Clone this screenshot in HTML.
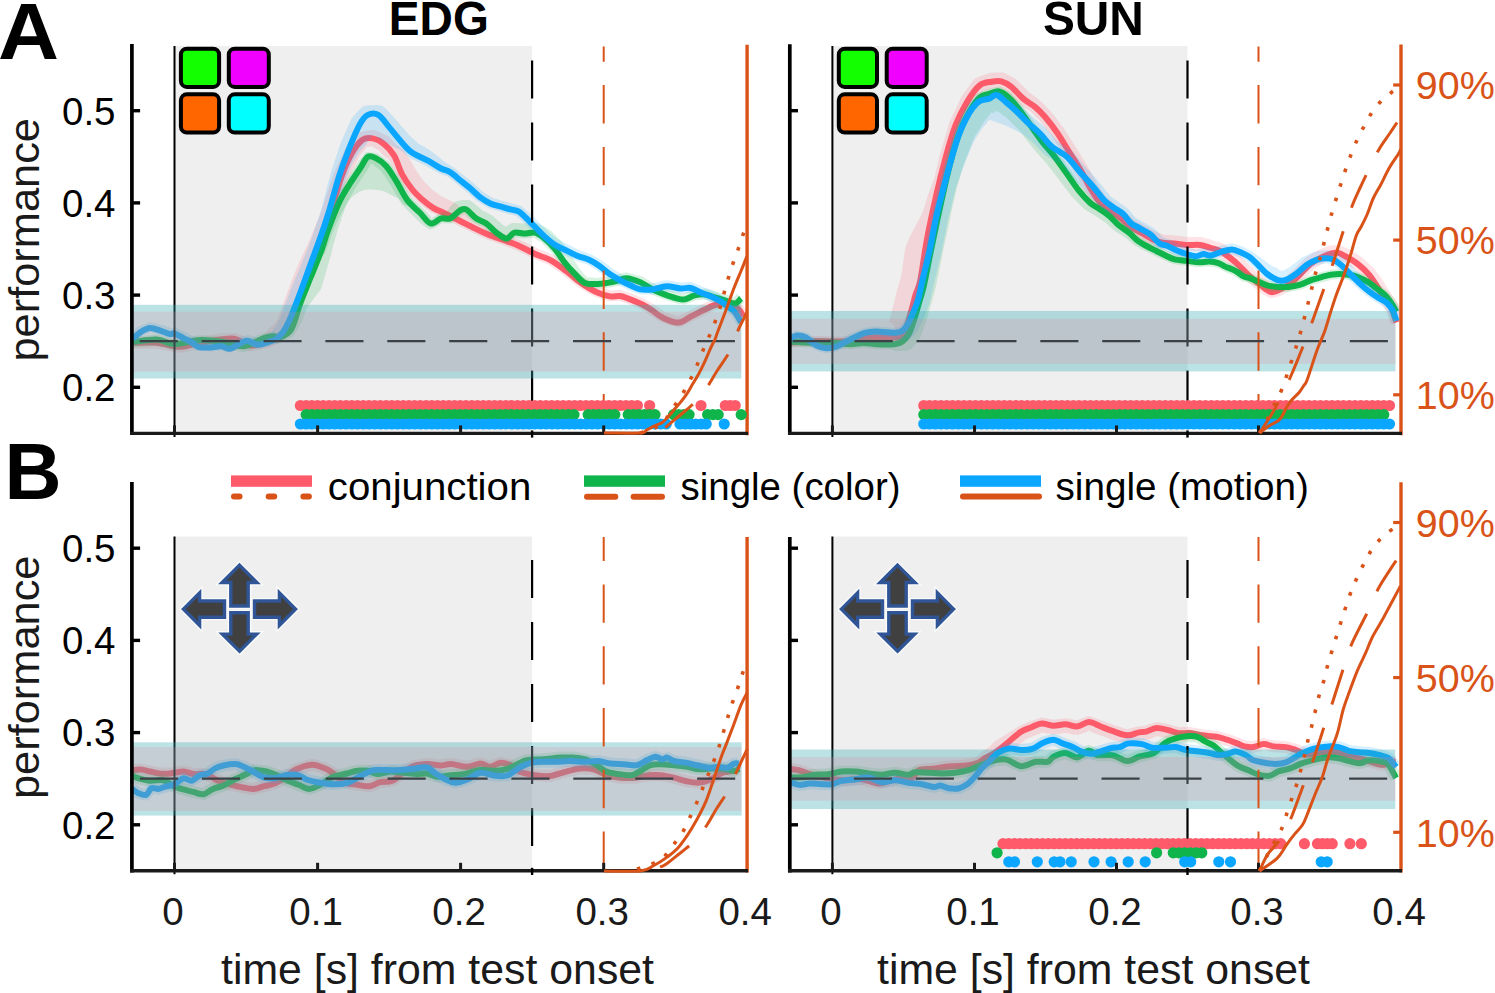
<!DOCTYPE html>
<html><head><meta charset="utf-8"><title>figure</title>
<style>html,body{margin:0;padding:0;background:#fff;}body{width:1495px;height:993px;overflow:hidden;font-family:"Liberation Sans",sans-serif;}svg{display:block;}</style>
</head><body><svg width="1495" height="993" viewBox="0 0 1495 993" font-family="Liberation Sans, sans-serif"><rect x="0" y="0" width="1495" height="993" fill="#fff"/><rect x="174.5" y="46" width="357.6" height="385.7" fill="#efefef"/><clipPath id="clipAL"><rect x="131.9" y="44" width="615.2" height="389.4"/></clipPath><g clip-path="url(#clipAL)"><path d="M132.7,336.8 L135.7,336.8 L138.7,336.8 L141.7,336.8 L144.8,336.8 L147.8,336.8 L150.8,336.8 L154.1,336.8 L157.3,336.8 L160.8,337.4 L164.3,338 L167.6,338.6 L170.8,339.2 L174.1,339.7 L176.7,340.2 L179.4,340.8 L182.2,340.2 L185,339.6 L188.4,338.9 L191.7,338.2 L195.1,337.6 L198.6,336.9 L201.7,336.4 L204.8,335.9 L207.9,335.5 L210.9,335 L214,334.5 L217.2,334 L220.4,333.5 L223.9,333.3 L227.3,333.2 L231.3,333 L235.4,332.9 L239.2,334.4 L243,335.9 L246.3,337.3 L248.7,338.3 L251,339.5 L253.4,338.8 L255.9,338.3 L259,337.6 L261.9,336.2 L264.7,333.4 L266.9,330.9 L269.1,328.3 L271.1,326.4 L272.6,325.2 L274.7,323.6 L276,321.7 L276.7,320.7 L278.1,319.1 L278.6,317.1 L279.2,315.1 L280.3,312.1 L281.4,309 L282.5,306 L283.6,302.9 L284.7,299.9 L285.8,296.8 L286.9,293.8 L288,290.7 L289.1,287.7 L290.2,284.7 L291.4,281.7 L292.6,278.6 L293.8,275.6 L295,272.6 L296.2,269.6 L297.5,266.6 L298.7,263.6 L300,260.6 L301.4,257.7 L302.8,254.7 L304.2,251.7 L305.6,248.7 L307,245.9 L308.3,243.1 L309.5,240.3 L310.6,237.4 L311.8,234.6 L313,231.8 L314.1,229 L315.3,226.2 L316.5,223.4 L317.7,220.6 L318.8,218 L319.9,215.3 L320.8,212.5 L321.8,209.6 L322.8,206.7 L323.8,203.7 L324.7,200.7 L325.7,197.7 L326.7,194.7 L327.7,191.8 L328.7,188.8 L329.6,185.8 L330.6,182.8 L331.6,179.8 L332.7,176.6 L333.7,173.4 L335.2,170.3 L336.7,167.1 L338,164.2 L339.4,161.3 L340.8,158.4 L342.1,155.4 L343.7,152 L345.2,148.6 L347.6,145.5 L349.9,142.5 L352,139.8 L355.2,136 L358.6,132.4 L363.6,131.2 L369.8,130.3 L374.6,130 L379.4,132 L384.5,134.5 L388.7,136.6 L391.5,139.4 L394.4,142.4 L396.5,144.7 L399.8,147.1 L403.3,149.5 L405.6,153.1 L407.9,156.7 L409.8,159.5 L411.7,162.4 L413.1,164.7 L414.1,167.2 L415.6,169.2 L416.9,171.3 L418.7,173.9 L420.4,176.5 L421.7,178.5 L423,180.5 L425.2,182.7 L427.4,184.9 L429.8,187.2 L432,189.5 L434.2,191.1 L436.4,192.7 L438.4,194.2 L440.5,195.8 L442.8,196.9 L445.2,198 L448.2,199.5 L451.2,200.9 L454.3,202.4 L457.2,204.4 L459.6,207 L462.1,209.5 L464.6,212.1 L467.1,214.7 L469.6,217.3 L472.1,219.9 L474.9,221.7 L477.9,223.2 L480.8,224.5 L483.8,225.8 L486.8,227.2 L489.7,228.5 L492.6,229.8 L495.5,230.8 L498.5,231.9 L501.5,232.9 L504.6,234 L507.7,235.1 L510.8,236.3 L513.9,237.5 L516.9,238.7 L520,240 L523.2,241.2 L526.3,242.8 L529.4,244.4 L532.5,245.9 L535.4,247.4 L538.3,248.8 L541.2,250 L544.1,251.1 L547.1,252.3 L550.4,253.7 L553.7,255 L556.6,257 L559.4,258.9 L561.9,260.7 L564.4,262.5 L567,264.3 L569.6,266.1 L572.2,268.2 L574.8,270.3 L577.3,272.3 L579.8,274.3 L582.2,276.2 L584.5,278.1 L587.4,279.7 L590.2,281.4 L593.2,283.2 L595.9,284.9 L598.6,286.5 L601.8,287.5 L605,288.5 L608,289.5 L610.9,290.5 L613.8,290.3 L617.2,290.1 L621.1,290.1 L625,291.3 L628.9,292.6 L632.3,293.8 L635.5,295.1 L638.6,296.4 L641.8,297.8 L645,299.2 L648.6,301.3 L652.2,303.4 L655.6,305.4 L658.3,307.3 L660.9,309.1 L663,310.6 L665.1,312.2 L667.9,313 L670.7,313.9 L673.9,314.9 L676.1,315.6 L678.1,316.6 L680,315.3 L682,314.2 L685,312.7 L688,311.2 L690.8,309.8 L693.6,308.4 L696.5,307 L699.4,305.5 L702.3,304 L705.4,302.7 L708.6,301.5 L712.1,300 L715.7,298.6 L719.3,298.5 L723,298.5 L726.8,298.6 L730.5,298.7 L734.5,300.6 L739.1,302.9 L743.2,305.2 L745.6,309.2 L748.3,313.6 L738.8,319.1 L737.2,316.3 L735.5,313.1 L732.8,311.9 L730.5,310.8 L727.7,309.3 L725.3,309.5 L723,309.5 L720.4,309.5 L717.9,309.4 L715.4,310.5 L712.8,311.6 L709.8,312.8 L706.9,314 L704.1,315.4 L701.4,316.8 L698.6,318.2 L695.8,319.6 L692.9,321.1 L689.9,322.6 L686.9,324.1 L683,325.9 L679,327.6 L674.8,326.6 L670.7,325.4 L667.5,324.4 L663.9,323.3 L660.3,322.1 L657.4,320.1 L654.6,318.1 L652.1,316.4 L649.7,314.7 L646.4,312.8 L643.2,310.9 L640,308.9 L637.2,307.8 L634.3,306.6 L631.4,305.3 L628.4,304.1 L625.2,303 L622.3,302 L619.5,300.9 L616.6,301.1 L613.2,301.3 L609.4,301.4 L605.5,300.2 L601.6,299 L597.9,297.8 L594.2,296.6 L590.9,294.6 L587.6,292.7 L584.6,290.9 L581.4,289 L578.3,287.1 L575.6,285 L572.9,282.9 L570.4,280.9 L567.9,278.8 L565.5,276.9 L563,274.9 L560.5,273.2 L558.1,271.5 L555.6,269.7 L553.1,267.9 L550.8,266.3 L548.5,264.7 L545.8,263.6 L543,262.5 L540,261.3 L536.9,260.1 L533.7,258.9 L530.6,257.3 L527.5,255.7 L524.5,254.2 L521.6,252.7 L518.6,251.3 L515.7,250.1 L512.8,248.9 L509.8,247.7 L506.8,246.6 L503.9,245.4 L500.9,244.3 L497.9,243.3 L494.8,242.2 L491.7,241.1 L488.5,240 L485.4,238.6 L482.3,237.2 L479.3,235.9 L476.2,234.5 L473.1,233.1 L470.1,231.6 L467,230 L464,228.5 L461,227 L458,225.5 L454.9,224 L451.9,222.5 L448.9,221 L445.9,219.5 L442.9,218 L439.9,216.6 L437,215.2 L433.8,213.6 L430.6,212.1 L427.8,210 L425,207.9 L422.2,205.8 L419.5,203.8 L416.8,201 L414,198.3 L411.2,195.5 L408.5,192.7 L406.6,189.9 L404.6,187 L402.9,184.4 L401.1,181.8 L399.3,179 L397.4,176.2 L396,172.9 L394.4,169.7 L392.7,166.8 L391.1,163.9 L389.6,161.4 L388.2,159 L386,157.5 L383.8,156.1 L381.7,153.7 L380.3,152 L378.8,150.2 L375.9,148.8 L373.9,147.7 L371.5,146.3 L369.3,146.8 L368.5,146.9 L366.4,146.7 L365.7,148.4 L364.6,149.9 L362.5,152.6 L360.7,154.8 L358.9,157 L357.9,159.5 L356.7,161.9 L355.3,164.8 L353.9,167.7 L352.4,170.6 L351,173.5 L349.7,176.2 L348.3,178.9 L347.3,181.7 L346.4,184.5 L345.4,187.4 L344.3,190.4 L343.3,193.4 L342.3,196.3 L341.3,199.3 L340.2,202.3 L339.2,205.2 L338.2,208.2 L337.2,211.2 L336.1,214.1 L335.1,217.2 L334.2,220.3 L333,223.2 L331.9,226.1 L330.8,229 L329.7,231.8 L328.6,234.6 L327.5,237.5 L326.5,240.3 L325.4,243.1 L324.3,246 L323.2,248.8 L322.1,251.6 L321,254.4 L320,257.4 L318.9,260.4 L317.8,263.5 L316.7,266.5 L315.6,269.6 L314.6,272.7 L313.5,275.7 L312.4,278.8 L311.3,281.8 L310.2,284.9 L309.1,287.9 L308.1,291 L307,294.1 L305.9,297.1 L304.8,300.2 L303.7,303.2 L302.6,306.3 L301.5,309.3 L300.4,312.4 L299.3,315.4 L298.2,318.5 L297.1,321.5 L295.8,325.1 L294.5,328.6 L292.1,331.5 L289.4,334.7 L287,337.5 L283.9,339.7 L280.4,342 L277.2,344.1 L273.3,345.6 L269.3,347.2 L265.5,348.6 L261.9,349.3 L258.3,350 L254.1,350.8 L249.8,351.5 L245.7,350 L241.7,348.4 L238.4,347 L235.8,345.9 L233.2,344.7 L230.6,345 L228,345.1 L224.8,345.3 L221.6,345.5 L218.7,345.9 L215.8,346.4 L212.7,346.8 L209.7,347.3 L206.6,347.8 L203.6,348.2 L200.6,348.7 L197.4,349.4 L194.1,350 L190.7,350.7 L187.4,351.4 L183.5,352.1 L179.6,352.8 L175.8,352.2 L172,351.6 L168.7,351 L165.5,350.4 L162.2,349.9 L159.2,349.3 L156.3,348.8 L153.5,348.8 L150.8,348.8 L147.8,348.8 L144.8,348.8 L141.7,348.8 L138.7,348.8 L135.7,348.8 L132.7,348.8 Z" fill="#fd5a6a" fill-opacity="0.17" stroke="none"/><path d="M132.7,342.8 C136.7,342.8 149,342.1 156.8,342.8 C164.6,343.5 172.4,346.8 179.5,346.8 C186.6,346.8 192.7,344 199.6,342.8 C206.5,341.6 215.2,340.2 221,339.5 C226.8,338.8 229.4,337.8 234.3,338.8 C239.2,339.8 245.5,344.8 250.4,345.5 C255.3,346.2 259.8,343.9 263.8,342.8 C267.8,341.7 271.3,340.4 274.5,338.8 C277.7,337.2 280.5,335.2 283,333 C285.5,330.8 286.1,332.9 289.3,325.6 C292.5,318.3 298,301.2 302.4,289 C306.8,276.8 311,264.1 315.4,252.3 C319.8,240.5 324.1,231 328.5,218.3 C332.9,205.7 337.7,187.3 341.6,176.4 C345.5,165.5 348.6,158.9 352.1,152.8 C355.6,146.7 359.1,142.1 362.6,139.7 C366.1,137.3 369.5,137.7 373,138.4 C376.5,139.1 380,140.9 383.5,143.7 C387,146.5 390.9,150.4 394,155.4 C397.1,160.4 398.8,168.1 401.8,173.8 C404.9,179.5 408.8,185.1 412.3,189.5 C415.8,193.9 419.3,196.9 422.8,200 C426.3,203.1 429.5,205.6 433.2,207.8 C436.9,210.1 440.6,211.3 445.1,213.5 C449.6,215.7 455.2,218.5 460.2,221 C465.2,223.5 470.3,226.2 475.3,228.6 C480.3,231 485.3,233.4 490.4,235.4 C495.4,237.4 500.6,238.8 505.6,240.7 C510.7,242.6 515.7,244.4 520.7,246.7 C525.7,249 530.8,252 535.8,254.3 C540.8,256.6 545.9,257.5 550.9,260.3 C555.9,263.1 561,267.1 566,270.9 C571,274.7 576.1,279.5 581.1,283 C586.1,286.5 591.4,289.8 596.2,292 C601,294.2 606.1,295.7 610.1,296.4 C614.1,297.1 616.9,295.5 620.2,296 C623.6,296.5 626.5,298 630.2,299.4 C633.9,300.8 638.6,302.6 642.3,304.5 C646,306.4 649,308.3 652.4,310.5 C655.8,312.7 658.1,315.6 662.5,317.6 C666.9,319.6 673.9,322.8 678.6,322.6 C683.3,322.4 686.3,318.8 690.7,316.6 C695.1,314.4 700.4,311.5 704.8,309.5 C709.2,307.5 712.9,305.3 716.9,304.5 C720.9,303.7 725.3,303.7 729,304.5 C732.7,305.3 736.6,307.5 739,309.5 C741.4,311.5 742.4,315.4 743.1,316.6" stroke="#fd5a6a" stroke-width="6" fill="none" stroke-linejoin="round" stroke-linecap="butt"/><path d="M132.2,337.1 L135.2,336.8 L138.2,336.5 L141.2,336.2 L144.2,335.8 L147.2,335.5 L150.2,335.2 L153.8,334.8 L157.3,334.5 L161.2,335.5 L165,336.5 L168.5,337.4 L171.5,338.3 L174.5,339.1 L176.9,338.7 L179.3,338.3 L182.3,337.8 L185.3,337.4 L188.3,336.9 L191.2,336.5 L194.2,336 L197.5,335.6 L200.8,335.1 L204.3,335.4 L207.8,335.7 L211.1,336 L214.3,336.3 L217.6,336.5 L220.9,336.8 L224.3,337.2 L227.8,337.9 L231.3,338.6 L234.6,339.3 L238,339.9 L240.7,340.5 L243.3,341.2 L245.4,340.2 L247.6,339.2 L250.4,338.1 L253.3,336.9 L256.2,335.8 L259.3,334.5 L262.5,333.3 L266.3,332.6 L271.2,331.9 L274.3,331.3 L275.5,333.7 L278.4,332.1 L280.5,330.9 L283.1,329.6 L285.8,328.5 L286.6,326.1 L287.6,323.9 L289,321 L290.3,318.2 L291.2,315.3 L292.1,312.4 L293,309.4 L294,306.2 L295,303 L296.2,300 L297.4,297 L298.6,294.1 L299.7,291.2 L300.9,288.3 L302.1,285.4 L303.2,282.5 L304.4,279.6 L305.6,276.6 L306.7,273.7 L307.9,270.8 L309.1,267.9 L310.2,265 L311.4,262.1 L312.6,259.2 L313.7,256.3 L314.9,253.4 L316,250.6 L317,247.7 L317.9,244.8 L318.9,241.9 L319.9,238.9 L320.8,236 L321.8,233 L322.8,230 L323.8,227 L325,224 L326.2,221 L327.4,218.1 L328.5,215.2 L329.7,212.3 L330.9,209.4 L332,206.5 L333.3,203.5 L334.5,200.4 L336.1,197.6 L337.7,194.9 L339.2,192.2 L340.7,189.6 L342.2,187 L343.7,184.3 L345.2,181.6 L347,178.9 L348.8,176.2 L350.6,173.6 L352.3,171 L354.1,168.3 L355.8,165.7 L357.8,162.8 L359.7,159.9 L362.7,155.9 L366,152.1 L371.9,152.5 L377.5,153.5 L380.7,155.7 L383.9,158 L386.8,160.2 L389.7,162.5 L391.8,165.4 L393.8,168.4 L395.5,171 L397.3,173.6 L399.1,176.3 L400.8,179 L402.4,181.6 L403.9,184.3 L405.4,187 L406.9,189.6 L408.4,192.2 L409.8,194.5 L411.1,196.9 L413,198.8 L415,200.7 L417.2,202.9 L419.4,205.1 L421.6,207.3 L423.7,209.5 L426.3,212.1 L429,214.7 L430.4,216.5 L431.3,218.6 L433.1,216.9 L435.8,215.4 L439.8,213.2 L443.4,212.4 L446,211.7 L447.6,211.4 L448.6,209.4 L449.6,207.6 L452.6,204.4 L456,201.3 L462.5,199.9 L469.2,199.9 L473.8,203.1 L477.9,206.5 L479.9,208.3 L481.9,210.2 L484.7,211.5 L488,213.2 L491.9,215.2 L495,217.9 L498,220.6 L500.2,222.5 L502.3,224.5 L505.2,226.2 L506.1,227.1 L506.5,228.6 L505.8,227.2 L507.4,225.7 L511.8,223 L517.1,223 L521.7,223.3 L524.6,223.6 L527.5,223.3 L532.1,223 L537.1,222.9 L541.9,225.4 L547,228.3 L550.8,230.7 L553.8,233.6 L556.8,236.6 L559.6,239.4 L562.4,242.2 L564.7,245.4 L567,248.5 L568.8,251.4 L570.4,254.3 L571.9,257.1 L573.9,260 L575.9,263 L577.9,266 L579.9,268.9 L581.9,271.4 L583.9,273.9 L585.8,275.6 L587.5,277.4 L589.5,277.3 L591.5,277.4 L594.3,277.7 L597,277.9 L600.1,277.6 L603.1,277.3 L606.3,277 L609.5,276.3 L612.6,275.7 L615.8,275.1 L618.7,274.2 L622.4,273.2 L626.3,272.3 L630.7,273.4 L634.9,274.5 L638.8,275.6 L642.6,276.8 L646,278.7 L649.4,280.7 L652.2,282.4 L655.1,284 L657.9,285.2 L660.7,286.4 L663.7,287.6 L666.6,288.8 L669.5,289.7 L672.4,290.7 L675.1,291.6 L677.9,292.5 L680.9,292.9 L683.9,293.4 L686.5,292.2 L689.5,291 L693.3,289.6 L697,289.2 L701.4,288.7 L705.4,288.4 L709.3,289.5 L713.3,290.7 L716.6,291.7 L720,292.7 L723.3,293.7 L726.6,294.8 L730,295.8 L731.8,296.5 L733.6,297.7 L735.7,295.4 L737.3,293.8 L744.3,302.2 L740,305.5 L736.2,308.4 L731.5,307.5 L726.8,306.3 L723.4,305.3 L720.1,304.2 L716.8,303.2 L713.4,302.2 L710.1,301.2 L707.2,300.3 L704.3,299.4 L701.4,299.7 L698.9,300 L695.9,300.3 L692.9,301.5 L689.2,302.9 L685.2,304.4 L680.4,303.9 L675.6,303.3 L672.3,302.2 L669,301.1 L665.9,300.1 L662.8,299.1 L659.6,297.8 L656.5,296.5 L653.3,295.2 L650.2,293.9 L647,292 L643.8,290.2 L641.1,288.5 L638.3,286.9 L635.1,286 L631.9,285.1 L628.9,284.2 L626.1,283.3 L623.8,284.1 L621.5,284.9 L618.4,285.8 L614.9,286.4 L611.4,287.2 L607.9,287.8 L604.4,288.2 L600.8,288.6 L597.2,288.9 L593.9,288.6 L590.6,288.4 L586.8,288 L582.9,287.5 L579.7,284.8 L576.6,282.1 L574,279.8 L571.4,277.4 L568.8,274.6 L566.2,271.7 L563.6,268.8 L561,265.9 L558.9,263 L556.8,260.1 L554.8,257.3 L552.9,254.6 L551,251.9 L548.6,249.6 L546.2,247.2 L543.9,244.9 L541.6,242.6 L538.6,240.7 L536.1,239.2 L533.5,237.5 L531,237.9 L528.2,238.3 L524.6,238.6 L521,238.3 L518.3,237.9 L515.8,237.4 L514.1,239.1 L510.8,241.3 L506.5,243.6 L501.6,241.4 L497,238.8 L493.5,236.6 L490.7,234.2 L488,231.8 L485.8,229.7 L483.5,227.6 L480.5,226.2 L477.1,224.5 L473.5,222.6 L470.7,220.2 L467.9,217.7 L466.2,216 L464.7,214.2 L463.5,214.9 L462.2,215 L460.2,216.7 L458.2,218.3 L455.1,220.8 L451.8,223.2 L447.9,223.4 L444.7,223.3 L442.3,223.1 L439.5,225 L435.2,227.4 L429.7,229.7 L424.8,226.7 L420.5,223.1 L417.8,220.6 L415.2,217.9 L413.1,215.8 L410.9,213.6 L408.7,211.4 L406.5,209.2 L404,206.7 L401.5,204.2 L399.8,201.2 L398,198.2 L396.5,195.5 L395,192.9 L393.5,190.3 L392.1,187.8 L390.7,185.3 L389,182.8 L387.3,180.3 L385.5,177.6 L383.8,175 L382.4,172.9 L381,170.7 L378.9,169.2 L376.7,167.6 L374.9,166.2 L373.1,164.6 L371.6,164.4 L370.3,163.3 L370.3,165.1 L369.7,166.5 L367.8,169.5 L365.8,172.4 L364.1,175 L362.3,177.6 L360.6,180.2 L358.8,182.9 L357.1,185.4 L355.5,187.9 L354,190.4 L352.6,192.9 L351.1,195.6 L349.7,198.3 L348.3,201 L347.1,203.4 L345.8,205.9 L344.9,208.6 L343.9,211.3 L342.9,214.3 L341.9,217.2 L340.9,220.2 L339.9,223.2 L338.9,226.1 L338,229 L337,231.8 L336.3,234.7 L335.5,237.6 L334.7,240.6 L333.8,243.6 L333,246.6 L332.2,249.6 L331.5,252.8 L330.7,255.9 L329.7,259.1 L328.8,262.3 L327.9,265.3 L327,268.4 L326.2,271.4 L325.3,274.4 L324.4,277.4 L323.5,280.5 L322.7,283.5 L321.8,286.5 L320.8,289.5 L318.8,292.1 L316.8,294.7 L314.8,297.2 L312.9,299.8 L310.9,302.4 L309,304.8 L307.2,307.3 L306.1,310.2 L305.1,313 L303.9,316 L302.7,319.3 L301.5,322.5 L299.7,325.7 L298,328.8 L295.7,332.5 L293.5,336.3 L289.5,338.6 L285.5,340.7 L280.8,342.9 L277,344.6 L274.7,342.3 L270.6,342.9 L268.6,343.4 L265.4,343.9 L262.8,344.9 L260.3,346 L257.4,347.1 L254.6,348.3 L251.7,349.5 L247.9,350.9 L244.2,352.2 L239.9,351.5 L235.8,350.7 L232.5,350 L229.1,349.3 L225.9,348.7 L222.7,348 L219.7,347.8 L216.6,347.5 L213.3,347.2 L210.1,346.9 L206.9,346.6 L203.9,346.4 L201.1,346.1 L198.4,346.5 L195.8,346.9 L192.9,347.4 L189.9,347.8 L186.9,348.3 L183.9,348.7 L180.9,349.1 L177.3,349.7 L173.7,350.1 L169.6,349.1 L165.6,348.1 L162.2,347.1 L159.2,346.3 L156.3,345.5 L153.8,345.8 L151.4,346.1 L148.4,346.4 L145.4,346.8 L142.4,347.1 L139.4,347.4 L136.4,347.7 L133.3,348.1 Z" fill="#0fb44a" fill-opacity="0.17" stroke="none"/><path d="M320.7,252.3 C322,248.4 325.4,237 328.5,228.7 C331.6,220.4 335.5,210 339,202.6 C342.5,195.2 346,189.9 349.5,184.2 C353,178.5 356.9,173.1 360,168.5 C363.1,163.9 365.2,158.5 367.8,156.8 C370.4,155.1 372.6,156.6 375.7,158.1 C378.8,159.6 382.6,162 386.1,165.9 C389.6,169.8 393.1,175.9 396.6,181.6 C400.1,187.3 404.5,196 407.1,199.9 C409.7,203.8 412.4,204.2 412,205 C411.6,205.8 407,206 404.8,205 C402.6,204 400.8,200.4 398.8,198.8 C396.8,197.2 395.2,197 392.7,195.7 C390.2,194.4 386.7,192.2 383.7,191.2 C380.7,190.2 377.6,189.9 374.6,189.7 C371.6,189.4 368.3,189.2 365.5,189.7 C362.7,190.2 360.5,191.2 358,192.7 C355.5,194.2 352.9,195.8 350.4,198.8 C347.9,201.8 345.4,206.3 342.9,210.8 C340.4,215.3 337.8,220.3 335.3,226 C332.8,231.7 329.9,240.2 328,245 C326.1,249.8 324.7,253.3 324,255 Z" fill="#0fb44a" fill-opacity="0.17" stroke="none"/><path d="M132.7,342.1 C136.7,341.7 149.9,339.2 156.8,339.5 C163.7,339.8 166.8,344 174.1,344.1 C181.4,344.2 192.7,340.4 200.9,340.1 C209.2,339.8 216.5,341.1 223.6,342.1 C230.7,343.1 237,346.9 243.7,346.2 C250.4,345.5 258.7,339.8 263.8,338.1 C268.9,336.5 272.4,336.2 274.5,336.3 C276.6,336.4 273.7,339.4 276.2,338.7 C278.7,338 286.2,335.1 289.3,332 C292.4,328.9 293.3,324.6 295,320 C296.7,315.4 297.2,311.6 299.7,304.7 C302.2,297.8 306.7,287.2 310.2,278.5 C313.7,269.8 317.6,260.6 320.7,252.3 C323.8,244 325.4,237 328.5,228.7 C331.6,220.4 335.5,210 339,202.6 C342.5,195.2 346,189.9 349.5,184.2 C353,178.5 356.9,173.1 360,168.5 C363.1,163.9 365.2,158.5 367.8,156.8 C370.4,155.1 372.6,156.6 375.7,158.1 C378.8,159.6 382.6,162 386.1,165.9 C389.6,169.8 393.1,175.9 396.6,181.6 C400.1,187.3 403.2,194.7 407.1,199.9 C411,205.1 416.3,209.1 420.2,213 C424.1,216.9 427.1,222.6 430.6,223.5 C434.1,224.4 437.9,219.1 441.1,218.3 C444.4,217.5 446.9,219.8 450.1,218.5 C453.3,217.2 457.4,211.9 460.1,210.4 C462.8,208.9 463.5,208.1 466.2,209.4 C468.9,210.8 472.9,216.2 476.3,218.5 C479.7,220.8 483,221.2 486.3,223.5 C489.6,225.8 493,230.1 496.4,232.6 C499.8,235.1 503.5,238.6 506.5,238.6 C509.5,238.6 511.5,233.4 514.5,232.6 C517.5,231.8 521.2,233.6 524.6,233.6 C528,233.6 531.4,231.8 534.7,232.6 C538.1,233.4 541.4,235.9 544.7,238.6 C548.1,241.3 551.4,244.7 554.8,248.7 C558.2,252.7 561.5,258.6 564.9,262.8 C568.2,267 571.5,270.5 574.9,273.9 C578.2,277.2 581.3,281.2 585,282.9 C588.7,284.6 593.4,283.9 597.1,283.9 C600.8,283.9 603.9,283.4 607.2,282.9 C610.6,282.4 614,281.7 617.2,280.9 C620.4,280.1 622.4,278.1 626.2,278.3 C630.1,278.5 635.9,280.5 640.3,282.3 C644.7,284.1 648.4,287.4 652.4,289.4 C656.4,291.4 660.5,292.9 664.5,294.4 C668.5,295.9 673.2,297.6 676.6,298.4 C680,299.2 681.6,299.9 684.6,299.4 C687.6,298.9 691.3,296.2 694.7,295.4 C698.1,294.6 701.4,294.1 704.8,294.4 C708.2,294.7 711.5,296.4 714.9,297.4 C718.2,298.4 721.5,299.5 724.9,300.5 C728.2,301.5 732.3,303.9 735,303.5 C737.7,303.1 740.1,299.2 741.1,298.4" stroke="#0fb44a" stroke-width="6" fill="none" stroke-linejoin="round" stroke-linecap="butt"/><path d="M128.8,334.2 L131.5,332 L134.5,329.5 L137.6,327 L141.1,325.4 L145.6,323.6 L149.7,322.1 L154.3,323 L158.8,324.1 L162.5,325.1 L165.8,326.2 L168.2,327.1 L171.4,328.3 L175.6,327.6 L178.9,329.2 L183,331.2 L186.2,332.7 L190.4,334.8 L194.6,336.9 L197.5,339.1 L200.4,341.2 L202.6,341.1 L204.6,341.2 L207.3,341.3 L210.1,341.5 L213.4,341.1 L217.4,340.6 L221.7,340.2 L225.1,341.5 L228.5,342.8 L232.6,341 L235.2,339.3 L238.5,337.3 L243.2,335.9 L248,334.8 L252.2,336.3 L255.3,337.6 L257.4,338.8 L260.7,337.9 L264,337.1 L267.1,335.2 L269.3,333.6 L271.8,332 L273,329.9 L273.8,328.5 L275.6,326.6 L276.8,324.2 L278,321.8 L279.4,319.1 L280.7,316.4 L281.7,313.7 L282.7,311 L283.8,308.1 L284.9,305.2 L286,302.2 L287.1,299.3 L288.2,296.4 L289.3,293.5 L290.4,290.6 L291.5,287.9 L292.6,285.1 L293.8,282.3 L295,279.4 L296.2,276.6 L297.4,273.8 L298.5,270.9 L299.7,268.1 L300.9,265.3 L302.1,262.4 L303.3,259.6 L304.4,256.8 L305.6,253.9 L306.8,251.1 L307.9,248.3 L309,245.4 L310,242.5 L311.1,239.6 L312.1,236.8 L313.1,234 L314.1,231.1 L315.1,228.2 L316,225.2 L317,222.3 L318,219.3 L319,216.4 L319.9,213.5 L320.9,210.6 L321.7,207.7 L322.5,204.7 L323.3,201.6 L324.1,198.5 L324.9,195.5 L325.7,192.4 L326.5,189.3 L327.3,186.2 L328.1,183.2 L328.9,180.1 L329.7,176.9 L330.5,173.7 L331.5,170.6 L332.5,167.5 L333.5,164.6 L334.4,161.7 L335.4,158.8 L336.3,155.9 L337.3,152.9 L338.2,150 L339.3,146.9 L340.3,143.9 L341.6,140.7 L343,137.6 L344.3,134.7 L345.6,131.7 L346.9,128.8 L348.2,125.8 L349.9,122.1 L351.6,118.5 L354.6,114.9 L358.9,110.1 L363.3,105.9 L369,105.2 L376.6,105.1 L382.2,105.7 L386.2,109.1 L389.9,112.9 L392,115.3 L394.2,117.7 L396.3,120.1 L398.6,122.8 L400.8,125.4 L403.1,128 L405.3,130.6 L407.4,133 L409.5,135.4 L412,137.7 L414.5,140.1 L416.6,142.1 L418.6,144.1 L421.1,145.1 L423.5,146.2 L426.5,148 L429.6,150.1 L432.6,152.2 L435.2,154.2 L437.7,156.3 L440.1,158.2 L442.3,160 L444.4,161.8 L447,163.4 L450,165.2 L453.1,167 L456,169.3 L458.8,171.5 L461.3,173.5 L463.9,175.5 L466.4,177.5 L468.9,179.6 L471.5,181.6 L474.1,183.7 L476.7,186 L479.2,188.3 L481.5,190.4 L483.8,192.4 L487,194.3 L489.8,196.1 L492.9,197.9 L495.8,198.8 L498.8,199.7 L502.1,200.7 L505.5,201.6 L508.8,202.6 L512.1,203.6 L516.6,204.8 L521.2,206 L524.5,208.8 L527.9,211.7 L530.7,214.1 L533.5,216.8 L536.2,219.6 L538.9,222.3 L541.5,224.8 L544,227.3 L546.3,229.7 L548.7,232.2 L551.1,234.1 L553.5,236 L555.7,237.8 L558,239.6 L561.1,241.1 L564.2,242.7 L567.6,244.3 L570.6,245.8 L573.6,247.3 L576.5,248.7 L579.3,250.2 L582.1,251.1 L584.9,252.1 L588.3,253.2 L591.6,254.4 L595.2,256.5 L598.9,258.7 L602.5,260.8 L605.4,263.1 L608.3,265.3 L610.9,267.3 L613.5,269.3 L616.7,271.2 L619.8,273.1 L623.1,275 L626.3,276.7 L629.4,278.2 L632.7,279.8 L635.9,281.2 L638.7,282.3 L641.6,283.5 L644,283.4 L646.3,283.4 L649,283.4 L651.7,283.4 L654.9,282.7 L658.2,282 L662.2,281.1 L666.3,280.3 L670.4,280.8 L674.4,281.4 L677.7,281.9 L680.9,282.4 L684,282.3 L687.8,282.2 L691.9,282.1 L695.9,283.7 L699.8,285.4 L703.1,286.9 L706.4,288.2 L709.8,289.5 L713.3,290.9 L716.8,292.7 L720.4,294.6 L724,296.4 L726.9,298.5 L729.9,300.7 L732.7,302.8 L736.2,305.7 L739.6,308.6 L741.9,312.4 L744.2,316.1 L746.2,319.5 L736.8,325.2 L734.8,321.8 L733,318.8 L731.2,315.8 L728.5,313.6 L725.9,311.4 L723.3,309.5 L720.8,307.7 L718.3,305.8 L715.1,304.2 L712,302.6 L708.7,301 L705.5,299.7 L702.2,298.4 L698.9,297 L695.5,295.5 L692.6,294.2 L689.7,292.9 L686.9,293.1 L683.9,293.3 L680.3,293.4 L676.6,292.8 L672.8,292.3 L669.7,291.8 L666.7,291.3 L663.6,292 L660.5,292.7 L656.8,293.6 L653,294.4 L649.7,294.4 L646.3,294.4 L642.8,294.4 L639.3,294.3 L635.4,292.8 L631.6,291.3 L628.1,289.9 L624.7,288.1 L621.2,286.4 L617.8,284.7 L614.4,282.6 L610.8,280.5 L607.3,278.4 L604.4,276.2 L601.5,274 L598.9,272 L596.3,269.9 L593.1,268 L590,266.2 L586.9,264.3 L584.1,263.4 L581.4,262.5 L578.2,261.4 L575.1,260.3 L571.9,258.7 L568.7,257.2 L565.7,255.7 L562.7,254.2 L559.3,252.5 L555.7,250.7 L552.1,248.9 L549.4,246.8 L546.6,244.6 L544,242.4 L541.3,240.3 L538.7,237.7 L536.1,235.1 L533.7,232.6 L531.2,230 L528.5,227.4 L525.8,224.8 L523.2,222.2 L520.5,219.8 L518.4,217.9 L516.3,215.9 L512.7,215.1 L509.2,214.2 L505.8,213.2 L502.3,212.2 L499,211.2 L495.6,210.2 L492,209.1 L488.3,208 L484.7,205.8 L480.9,203.5 L477.4,201.3 L474.6,198.9 L471.9,196.5 L469.4,194.3 L467,192.1 L464.5,190.1 L462,188.2 L459.5,186.1 L457,184.1 L454.5,182.1 L452,180.1 L449.8,178.3 L447.6,176.5 L444.9,175.5 L442,174.4 L438.8,173.2 L436,171.6 L433.1,169.9 L430.5,168.4 L427.9,167 L425.4,165.5 L422.3,164 L419.2,162.6 L416,161.1 L412.4,159.3 L408.9,157.5 L405.9,154.7 L402.9,151.8 L399.8,149.4 L395.8,147.9 L392.4,146.1 L388.9,144.2 L385.6,142.5 L382.3,140.8 L379.1,139.2 L376.5,137.1 L374.4,134.9 L372.3,132.8 L370.1,130.5 L370.6,130.7 L371.8,130.4 L371.7,131.6 L375.2,131.7 L375.6,130.6 L376.3,131.7 L376.8,131.7 L375.1,133.9 L373.7,135.2 L372.2,136.5 L370.1,139.1 L368,141.7 L365.9,144.3 L363.8,146.9 L361.7,149.3 L359.7,151.7 L358.1,154.2 L356.4,156.6 L354.7,159.3 L353,161.9 L351.7,164.7 L350.6,167.6 L349.4,170.4 L348.3,173.3 L347.2,176 L346.1,178.7 L345.2,181.6 L344.3,184.5 L343.3,187.5 L342.4,190.6 L341.4,193.6 L340.5,196.6 L339.5,199.7 L338.6,202.7 L337.6,205.7 L336.7,208.7 L335.7,211.8 L334.7,214.9 L333.7,217.9 L332.6,220.9 L331.5,223.8 L330.5,226.7 L329.4,229.7 L328.4,232.6 L327.3,235.6 L326.2,238.5 L325.1,241.4 L323.9,244.3 L322.8,247.1 L321.6,250 L320.5,252.8 L319.4,255.7 L318.2,258.5 L317.1,261.4 L315.9,264.2 L314.8,267.1 L313.7,269.9 L312.5,272.8 L311.4,275.6 L310.3,278.5 L309.1,281.3 L308,284.2 L306.8,287 L305.7,289.9 L304.6,292.7 L303.4,295.6 L302.3,298.6 L301.1,301.5 L300,304.4 L298.8,307.3 L297.6,310.2 L296.5,313.1 L295.3,316.1 L294.1,319.1 L292.9,322.1 L291.3,325.1 L289.7,328.1 L288,331.2 L286.2,334.4 L283.8,336.9 L281,339.8 L278.3,342.4 L274.5,343.9 L270.5,345.5 L266.8,346.8 L261.9,347.9 L256.9,348.8 L253.1,347.4 L249.9,346 L247.5,344.8 L245.1,345.7 L242.6,346.5 L239.3,348.4 L235.4,350.6 L229.3,352.8 L225,351.5 L220.5,350.2 L217.4,350.6 L214.2,351.1 L210.5,351.5 L207.2,351.3 L204,351.1 L200.3,350.9 L196.7,350.5 L193.1,348 L189.5,345.5 L185.6,343.6 L181.7,341.7 L178.6,340.1 L176.1,338.8 L173.1,337.3 L169.2,338 L166.2,336.9 L162.7,335.7 L159.7,334.6 L156.2,333.8 L153.3,333 L150.4,332.1 L147.9,333.3 L145.7,334.3 L142.8,335.5 L140.4,337.6 L137.9,339.6 L135.3,341.9 Z" fill="#0ba6ff" fill-opacity="0.17" stroke="none"/><path d="M132.7,338.8 C134,337.7 137.8,333.9 140.7,332.1 C143.6,330.3 146.8,328.3 150.1,328.1 C153.4,327.9 157.5,329.8 160.8,330.8 C164.1,331.8 167.9,333.7 170.1,334.1 C172.3,334.5 171.9,332.7 174.1,333.4 C176.3,334.1 180.6,336.7 183.5,338.1 C186.4,339.6 189.1,340.7 191.5,342.1 C193.9,343.6 195.1,345.9 198.2,346.8 C201.3,347.7 206.5,347.6 210.3,347.5 C214.1,347.4 217.9,346 221,346.2 C224.1,346.4 226.8,348.7 229,348.8 C231.2,348.9 232.3,347.8 234.3,346.8 C236.3,345.8 238.8,343.8 241,342.8 C243.2,341.8 245,340.5 247.7,340.8 C250.4,341.1 254.1,344.4 257.1,344.8 C260.1,345.2 262.5,344 265.7,343 C268.9,342 273.3,340.8 276.2,339 C279.1,337.2 280.8,335.1 283,332 C285.2,328.9 286.5,326.7 289.3,320.4 C292.1,314.1 296.2,303.4 299.7,294.2 C303.2,285 306.7,275 310.2,265.4 C313.7,255.8 317.6,245.3 320.7,236.6 C323.8,227.9 325.4,223 328.5,213 C331.6,203 335.5,187.3 339,176.4 C342.5,165.5 346,156.3 349.5,147.6 C353,138.9 356.9,129.4 360,124 C363.1,118.5 364.8,116.4 367.8,114.9 C370.9,113.4 374.8,113 378.3,114.9 C381.8,116.9 384.8,122 388.7,126.6 C392.6,131.2 397.9,138 401.8,142.4 C405.7,146.8 407.9,149.8 412.3,152.8 C416.7,155.9 423.2,158.1 428,160.7 C432.8,163.3 437.4,166.6 441.1,168.5 C444.8,170.4 446.9,170.2 450.1,172.2 C453.3,174.1 456.8,177.5 460.1,180.2 C463.5,182.9 466.8,185.5 470.2,188.3 C473.6,191.2 476.9,194.8 480.3,197.3 C483.7,199.8 487,201.9 490.4,203.4 C493.8,204.9 497,205.4 500.4,206.4 C503.8,207.4 507.5,208.6 510.5,209.4 C513.5,210.2 515.8,209.9 518.5,211.4 C521.2,212.9 523.9,216 526.6,218.5 C529.3,221 531.7,223.5 534.7,226.5 C537.7,229.5 541.4,233.6 544.7,236.6 C548.1,239.6 551.4,242.5 554.8,244.7 C558.2,246.9 561.2,247.9 564.9,249.7 C568.6,251.5 573,254 577,255.7 C581,257.4 585.3,258.1 589,259.8 C592.7,261.5 595.6,263.4 599.1,265.8 C602.6,268.2 606.6,271.9 610.1,274.3 C613.6,276.7 616.9,278.5 620.2,280.3 C623.6,282.1 626.9,283.8 630.2,285.3 C633.6,286.8 636.6,288.7 640.3,289.4 C644,290.1 648,289.9 652.4,289.4 C656.8,288.9 661.8,286.5 666.5,286.3 C671.2,286.1 676.6,288.1 680.6,288.4 C684.6,288.7 687.3,287.3 690.7,288 C694.1,288.7 697.4,291 700.8,292.4 C704.1,293.8 707.4,294.9 710.8,296.4 C714.1,297.9 717.9,299.6 720.9,301.5 C723.9,303.4 726.6,305.7 729,307.5 C731.4,309.3 733,310 735,312.5 C737,315 740.1,320.9 741.1,322.6" stroke="#0ba6ff" stroke-width="6" fill="none" stroke-linejoin="round" stroke-linecap="butt"/></g><line x1="174.5" y1="46" x2="174.5" y2="436.9" stroke="#000" stroke-width="2"/><path d="M532.1,60.4 V98.6 M532.1,122.4 V160.6 M532.1,184.4 V222.6 M532.1,246.4 V284.6 M532.1,308.4 V346.6 M532.1,370.4 V408.6" stroke="#000" stroke-width="2.2" fill="none"/><rect x="131.9" y="304.8" width="609.4" height="73.7" fill="rgb(50,170,180)" fill-opacity="0.33"/><rect x="131.9" y="311.7" width="609.4" height="59.9" fill="rgb(235,127,139)" fill-opacity="0.2"/><path d="M603.7,46.5 V61.7 M603.7,85.1 V123.5 M603.7,146.9 V185.3 M603.7,208.7 V247.1 M603.7,270.5 V308.9 M603.7,332.3 V370.7 M603.7,394.1 V431.9" stroke="#d95319" stroke-width="2" fill="none"/><path d="M139.7,341.2 H177.8 M201.6,341.2 H239.7 M263.5,341.2 H301.6 M325.4,341.2 H363.5 M387.3,341.2 H425.4 M449.2,341.2 H487.3 M511.1,341.2 H549.2 M573,341.2 H611.1 M634.9,341.2 H673 M696.8,341.2 H734.9" stroke="#3a4247" stroke-width="2.2" fill="none"/><line x1="747.1" y1="44.8" x2="747.1" y2="435.2" stroke="#d95319" stroke-width="3.4"/><rect x="832.4" y="46" width="355.1" height="385.7" fill="#efefef"/><clipPath id="clipAR"><rect x="789.8" y="44.5" width="611.2" height="388.9"/></clipPath><g clip-path="url(#clipAR)"><path d="M789.6,337.9 L793,337.7 L796.3,337.4 L799.7,337.2 L803,336.9 L806.4,336.7 L809.7,336.4 L813.2,336.2 L816.7,335.9 L820.1,336 L823.6,336.1 L826.9,336.1 L830.3,336.2 L833.6,336.3 L836.9,336.4 L840.1,336.4 L843.2,336.5 L846,336.1 L848.7,335.7 L851.7,335.2 L854.7,334.8 L857.7,334.3 L860.6,333.9 L863.6,333.4 L866.8,333 L869.9,332.5 L873.5,332.5 L877,332.5 L880.3,332.4 L883.6,331.9 L886.8,331.3 L889.9,330.8 L893.2,329.8 L894.8,329.2 L894.2,326 L891.8,323.1 L889.1,322 L889.8,319.4 L890.2,317.5 L890.6,315.7 L891.4,312.7 L892.2,309.8 L893,307.1 L893.7,304.3 L894.5,300.9 L895.4,297.4 L896.3,293.5 L897.2,289.7 L898.2,286.4 L899.2,283 L900.1,280 L900.7,277.7 L901.4,275.4 L901.7,273.1 L902,270.9 L902.4,267.9 L902.8,264.9 L903.3,262 L903.7,259 L904.1,256 L904.5,253 L905,250 L905.7,247 L906.8,244.2 L908,241.1 L909.2,238 L910.8,234.9 L912.3,231.8 L913.9,229 L915.4,226.1 L916.9,223.2 L918.5,220.3 L920,217.5 L921.5,214.6 L922.7,211.6 L923.7,208.7 L924.7,205.7 L925.6,202.7 L926.6,199.7 L927.5,196.6 L928.5,193.5 L929.6,190.6 L930.8,187.6 L931.9,184.7 L933,181.8 L934.1,178.9 L934.8,176 L935.5,173 L936.2,170 L937,167 L937.7,164 L938.4,161 L939.1,158 L939.8,154.9 L940.8,151.7 L941.7,148.4 L942.7,145.3 L943.6,142.1 L944.5,139 L945.4,135.8 L946.4,132.7 L947.3,129.5 L948.3,126.1 L949.3,122.7 L950.8,119.4 L952.4,116.1 L953.8,113 L955.2,110 L956.6,106.9 L958.1,103.9 L959.6,100.5 L961.2,97.1 L963.3,94.1 L965.5,91.1 L967.4,88.4 L969.3,85.7 L972,82.1 L974.9,78.6 L979,76.8 L983.2,75.2 L986.7,73.9 L990.3,72.8 L994.1,72.6 L999.2,72.5 L1003.6,72.6 L1008,74.7 L1012.7,77.2 L1016.4,79.4 L1019.3,82.2 L1022.1,85.2 L1024.5,87.6 L1026.6,89.8 L1028.7,92 L1031.4,94 L1034.1,96 L1037.3,98.4 L1040.5,100.9 L1043.2,103.6 L1045.8,106.3 L1048.4,108.9 L1050.9,111.5 L1053.1,114.3 L1055.3,117.1 L1057.3,119.8 L1059.3,122.4 L1061.4,125.2 L1063.6,127.9 L1065.4,130.8 L1067.2,133.8 L1069,136.5 L1070.7,139.3 L1072.4,142 L1074.1,144.8 L1075.9,147.6 L1077.6,150.3 L1079.3,153.1 L1081.1,155.8 L1082.8,158.6 L1084.5,161.3 L1086.3,164.2 L1088.1,167.1 L1089.7,170 L1091.2,172.8 L1092.7,175.6 L1094.1,178.3 L1095.5,180.9 L1096.9,183.5 L1098.6,186 L1100.3,188.6 L1102.1,191.3 L1103.6,193.6 L1105.1,195.9 L1107.3,197.7 L1109.6,199.6 L1112.1,201.8 L1114.5,203.9 L1117.1,205.7 L1119.6,207.5 L1122.3,209.5 L1125.1,211.5 L1127.9,213.9 L1130.7,216.2 L1133.1,218.2 L1135.4,220.3 L1137.8,221.6 L1140.1,222.9 L1142.7,224.4 L1145.4,226 L1148,227.5 L1150.6,229 L1152.9,230.3 L1155.2,231.6 L1158.4,232.7 L1161.2,233.8 L1164.2,234.9 L1166.7,235 L1169.1,235.1 L1172.2,235.3 L1175.4,235.5 L1178.5,235.9 L1181.6,236.3 L1184.4,236.7 L1187.2,237 L1190.3,237 L1193.5,237 L1197.5,237 L1201.4,237.1 L1205.5,238.2 L1209.6,239.3 L1213.2,240.4 L1216.3,241.4 L1220,242.6 L1223.5,243.8 L1226.9,246.1 L1230.6,248.5 L1233.8,250.6 L1237,253.3 L1240.3,256 L1243.5,258.7 L1245.8,261 L1248.2,263.3 L1250.4,265.5 L1252.4,267.6 L1254.5,269.7 L1257.3,272.1 L1260.2,274.4 L1263.2,276.9 L1265.7,278.9 L1267.8,280.7 L1270,282.5 L1271.1,283.1 L1272.1,284.2 L1274.1,283.2 L1276.3,282.5 L1278.5,281.2 L1280.7,279.9 L1282.8,278.7 L1285.1,277.5 L1287.4,275.3 L1289.7,273.1 L1292.3,270.7 L1294.8,268.2 L1297.5,265.7 L1300.1,263.1 L1303,260.1 L1306.1,257.2 L1309.2,255.4 L1312.3,253.5 L1315.2,251.9 L1318.1,250.2 L1321.3,248.8 L1325.2,247.3 L1328.8,245.8 L1334.2,245.3 L1339.5,245 L1343.7,246.8 L1348,248.8 L1351.2,250.4 L1354.1,252.2 L1356.9,254.1 L1359.9,256 L1362.8,257.9 L1365.7,260.6 L1368.6,263.3 L1371.5,266 L1374.4,268.7 L1376.5,271.7 L1378.7,274.6 L1380.7,277.4 L1382.7,280.2 L1384.6,283.3 L1386.5,286.4 L1388.4,289.4 L1390.2,292.3 L1392,294.8 L1393.8,297.3 L1396,300.5 L1398.2,303.6 L1399.5,307.1 L1400.8,310.7 L1401.8,313.7 L1402.9,316.7 L1403.9,319.8 L1390.7,324.4 L1389.7,321.4 L1388.6,318.3 L1387.6,315.3 L1386.7,312.7 L1385.8,310.1 L1384.1,307.8 L1382.4,305.5 L1380.5,302.8 L1378.5,300 L1376.6,296.9 L1374.7,293.8 L1372.8,290.9 L1371,287.9 L1369.2,285.4 L1367.3,282.8 L1365.6,280.4 L1363.9,278 L1361.5,275.7 L1359.1,273.5 L1356.6,271.2 L1354.2,268.9 L1351.8,267.4 L1349.4,265.9 L1346.9,264.2 L1344.4,262.6 L1341.5,261.2 L1339.4,260.1 L1337.2,258.8 L1334.7,259.2 L1332.1,259.4 L1329.5,260.6 L1327.1,261.6 L1324.2,262.8 L1321.8,264.2 L1319.3,265.7 L1317,266.9 L1314.7,268.2 L1312.3,270.6 L1309.9,273 L1307.2,275.7 L1304.6,278.3 L1301.9,280.8 L1299.3,283.3 L1296.4,286 L1293.5,288.7 L1290.6,290.4 L1287.6,292.1 L1284.6,293.8 L1281.6,295.4 L1276.5,297 L1271.4,298.2 L1266.9,296.4 L1262.5,294.3 L1259.7,292 L1256.9,289.8 L1254.3,287.7 L1251.3,285.2 L1248.2,282.6 L1245.1,280.1 L1242.8,277.8 L1240.5,275.4 L1238.3,273.2 L1236.2,271.2 L1234.1,269 L1231.1,266.6 L1228.3,264.2 L1225.4,261.8 L1222.5,259.9 L1219.9,258.2 L1217.2,256.4 L1214.6,255.5 L1212.1,254.7 L1209.1,253.7 L1205.7,252.8 L1202.6,251.9 L1199.4,250.9 L1196.5,251 L1193.5,251 L1189.9,251 L1186.4,251 L1183.1,250.6 L1179.9,250.2 L1177,249.8 L1174,249.5 L1171.1,249.3 L1168.2,249.1 L1164.6,248.8 L1161.2,248.6 L1157.3,247.2 L1153.2,245.7 L1149.4,244.4 L1146.6,242.8 L1143.7,241.1 L1141,239.6 L1138.4,238.1 L1135.8,236.6 L1133.1,235.1 L1130.2,233.4 L1127.3,231.7 L1124.5,229.3 L1121.6,226.9 L1119.1,224.7 L1116.5,222.5 L1113.9,220.7 L1111.4,218.9 L1108.6,216.9 L1105.9,214.9 L1103.2,212.6 L1100.4,210.3 L1097.5,207.7 L1094.6,205.2 L1092.5,202.2 L1090.4,199.1 L1088.6,196.4 L1086.7,193.6 L1084.8,190.7 L1083.2,187.8 L1081.7,185 L1080.2,182.2 L1078.7,179.5 L1077.3,176.8 L1075.9,174.2 L1074.2,171.5 L1072.5,168.9 L1070.8,166.1 L1069,163.4 L1067.3,160.6 L1065.6,157.9 L1063.8,155.1 L1062.1,152.4 L1060.4,149.6 L1058.6,146.9 L1056.9,144.1 L1055.1,141.4 L1053.5,138.7 L1051.8,136.1 L1049.9,133.6 L1047.9,131.1 L1045.9,128.5 L1043.9,125.9 L1042,123.5 L1040.1,121 L1037.8,118.7 L1035.5,116.5 L1033.3,114.3 L1031.1,112.1 L1028.3,110.1 L1025.5,108.2 L1022.3,105.9 L1019,103.6 L1016.4,101.1 L1013.7,98.5 L1011.3,96.1 L1009.2,94 L1007.2,91.9 L1004.3,90.5 L1002.1,89.3 L999.8,87.8 L997.5,88.1 L995.7,88.3 L992.9,88.4 L990.3,89.2 L987.7,90.1 L985.7,90.6 L983.6,91 L982.5,93 L981.1,94.8 L979.1,97.5 L977.1,100.1 L975.3,102.4 L973.5,104.8 L972.2,107.5 L970.8,110.2 L969.3,113.2 L967.9,116.3 L966.4,119.3 L964.8,122.3 L963.4,125 L962,127.8 L961.1,130.6 L960.1,133.5 L959.1,136.6 L958.1,139.7 L957.1,142.9 L956.1,146 L955.1,149.1 L954.1,152.3 L953.2,155.3 L952.2,158.4 L951.4,161.2 L950.7,164.1 L949.9,167.1 L949.2,170.1 L948.4,173 L947.6,176 L946.8,179 L946.1,182 L945.3,184.9 L944.5,187.9 L943.8,190.9 L943,193.8 L942.2,196.7 L941.6,199.7 L941,202.7 L940.3,205.7 L939.6,208.8 L939,211.8 L938.3,214.9 L937.6,218 L937,221 L936.3,224.1 L935.7,227.1 L935,230.2 L934.3,233.2 L933.7,236.3 L933,239.3 L932.4,242.3 L931.9,245.2 L931.4,248.1 L930.9,251.1 L930.4,254.1 L929.9,257 L929.5,260 L929,263 L928.5,266 L928,269 L927.5,271.9 L927,274.9 L926.5,278.1 L925.9,281.3 L924.9,284.5 L923.8,287.7 L922.8,290.7 L921.8,293.6 L920.8,296.5 L919.8,300.1 L918.9,303.6 L917.9,307.2 L916.9,310.9 L916,313.8 L915,316.8 L914.1,319.6 L913.2,322.5 L912.2,325.7 L911.2,328.9 L909.2,332.3 L906.6,336.5 L903.8,340.4 L899.1,341.3 L894.3,342 L890.6,342.5 L887.1,342.5 L883.6,342.5 L880.3,342.5 L877,342.5 L873.8,342.5 L870.7,342.5 L867.9,342.9 L865.1,343.3 L862.1,343.8 L859.1,344.2 L856.1,344.7 L853.2,345.1 L850.2,345.6 L847,346 L843.8,346.5 L840.2,346.4 L836.7,346.3 L833.4,346.3 L830,346.2 L826.7,346.1 L823.4,346 L820.1,346 L816.9,345.9 L813.7,346.1 L810.5,346.4 L807.1,346.6 L803.8,346.9 L800.4,347.1 L797.1,347.4 L793.7,347.6 L790.4,347.9 Z" fill="#fd5a6a" fill-opacity="0.17" stroke="none"/><path d="M790,342.9 C794.5,342.6 807.9,341.1 816.8,340.9 C825.7,340.7 834.6,342.1 843.5,341.5 C852.4,340.9 862.5,338.2 870.3,337.5 C878.1,336.8 885.2,337.7 890.3,337.5 C895.4,337.3 898.3,338 901,336.2 C903.7,334.4 904.6,331.3 906.4,326.8 C908.2,322.3 910.2,314.7 911.7,309.4 C913.2,304.1 914,299.9 915.5,295 C917,290.1 918.5,289 920.4,280 C922.2,271 924,255.3 926.6,241.2 C929.2,227.1 933,209.4 936.2,195.3 C939.4,181.2 942.7,168.3 945.9,156.6 C949.1,144.9 952,134.4 955.6,125.2 C959.2,116 963.6,107.7 967.6,101.1 C971.6,94.5 975.7,88.6 979.7,85.4 C983.7,82.2 988.2,82.4 991.8,81.7 C995.4,81 998.2,80.5 1001.4,81.3 C1004.6,82.1 1007.5,83.7 1011.1,86.6 C1014.7,89.5 1019.2,95.2 1023.2,98.6 C1027.2,102 1031.7,104.1 1035.3,107.1 C1038.9,110.1 1041.3,112.6 1044.9,116.8 C1048.5,121 1053,126.7 1057,132.5 C1061,138.3 1065.1,145.4 1069.1,151.8 C1073.1,158.2 1077.7,165.1 1081.2,171.1 C1084.7,177.1 1087,182.6 1090,187.6 C1093,192.6 1095.8,197.4 1099.1,201.2 C1102.4,205 1106.1,207.4 1109.6,210.2 C1113.1,213 1116.7,215 1120.2,217.8 C1123.7,220.6 1127.3,224.3 1130.8,226.8 C1134.3,229.3 1137.9,230.9 1141.4,232.9 C1144.9,234.9 1148.4,237.3 1151.9,238.9 C1155.4,240.5 1158.7,241.9 1162.5,242.7 C1166.3,243.5 1170.6,243.1 1174.6,243.5 C1178.6,243.9 1182.4,244.8 1186.7,245 C1191,245.2 1196.3,244.5 1200.3,245 C1204.3,245.5 1207.6,247 1210.9,248 C1214.2,249 1216.9,249.5 1219.9,251 C1222.9,252.5 1226,254.7 1229,257 C1232,259.3 1234.8,261.5 1238.1,264.6 C1241.4,267.7 1245.8,272.5 1249.1,275.6 C1252.4,278.7 1255.3,280.8 1258.1,283.1 C1260.9,285.4 1263.4,287.7 1265.7,289.2 C1268,290.7 1269.4,292.1 1271.7,292.2 C1274,292.3 1276.3,291.3 1279.3,289.9 C1282.3,288.5 1286.4,286.5 1289.9,283.9 C1293.4,281.2 1296.9,277.4 1300.4,274 C1303.9,270.6 1307.5,266.3 1311,263.5 C1314.5,260.7 1318.3,259 1321.6,257.4 C1324.9,255.7 1327.9,254.3 1330.7,253.6 C1333.5,252.8 1335.4,252.3 1338.2,252.9 C1341,253.5 1344,255.5 1347.3,257.4 C1350.6,259.3 1354.4,261.4 1357.9,264.2 C1361.4,267 1365.4,270.6 1368.4,274 C1371.4,277.4 1373.5,280.8 1376,284.6 C1378.5,288.4 1381,292.9 1383.5,296.7 C1386,300.5 1388.9,303 1391.1,307.3 C1393.2,311.6 1395.5,319.9 1396.4,322.4" stroke="#fd5a6a" stroke-width="6" fill="none" stroke-linejoin="round" stroke-linecap="butt"/><path d="M790.3,336.5 L793.6,336.7 L797,336.9 L800.3,337 L803.7,337.2 L807,337.4 L810.4,337.6 L813.6,337.7 L816.9,337.9 L820.3,337.9 L823.7,337.9 L827.2,337.9 L830.7,337.9 L834.3,337.9 L837.6,338.2 L840.9,338.4 L844.2,338.7 L847.2,338.9 L850.2,339.2 L853.3,338.9 L856.4,338.6 L860,338.2 L863.6,337.9 L867.2,338.2 L870.8,338.6 L874,338.9 L877.2,339.2 L880.6,339.2 L883.9,339.2 L887.4,339.2 L890.4,339.2 L893.4,339.3 L896.5,338.2 L899.7,337.3 L901.4,335.1 L902.8,333.3 L904.8,331 L905.6,328.4 L906.5,325.9 L907.6,323 L908.6,320.1 L909.6,317.3 L910.5,314.2 L911.4,311.2 L912.3,308.1 L913.2,304.9 L914.1,301.8 L915,298.7 L915.8,295.7 L916.7,292.7 L917.5,289.7 L918.3,286.8 L919.1,283.8 L919.7,280.9 L920.3,277.9 L920.9,274.9 L921.6,271.8 L922.2,268.8 L922.8,265.7 L923.4,262.7 L924,259.6 L924.6,256.6 L925.3,253.5 L925.9,250.4 L926.5,247.4 L927.2,244.3 L927.8,241.2 L928.4,238.2 L929.1,235.1 L929.7,232.1 L930.4,229 L931,225.9 L931.7,222.9 L932.3,219.8 L933,216.8 L933.6,213.7 L934.3,210.6 L934.9,207.6 L935.6,204.5 L936.2,201.4 L936.9,198.5 L937.6,195.5 L938.3,192.6 L939,189.6 L939.7,186.7 L940.3,183.7 L941,180.8 L941.7,177.9 L942.4,174.9 L943.1,172 L943.8,169.1 L944.5,166.1 L945.2,163.1 L945.9,160.1 L946.9,156.9 L947.9,153.6 L948.8,150.5 L949.8,147.4 L950.8,144.2 L951.7,141.1 L952.7,137.9 L953.7,134.8 L954.7,131.5 L955.8,128.2 L957.2,125.2 L958.7,122.3 L960,119.5 L961.4,116.7 L962.8,114 L964.3,111 L965.7,108.1 L967.8,105.3 L969.8,102.4 L971.8,99.8 L974.2,96.5 L976.7,93.4 L980.6,91.8 L984.6,90.3 L987.9,89 L991.2,88.2 L995.6,87.2 L999.9,86.5 L1004.1,88.8 L1008.4,91.3 L1011.9,93.6 L1014.6,96.5 L1017.3,99.5 L1019.8,102.4 L1022.3,105.2 L1024.4,108.1 L1026.5,111 L1028.5,113.9 L1030.5,116.7 L1032.5,119.5 L1034.5,122.3 L1036.5,125.1 L1038.5,127.9 L1040.5,130.7 L1042.5,133.6 L1044.5,136.3 L1046.5,139 L1048.4,141.4 L1050.4,143.7 L1052.4,146.1 L1054.4,148.6 L1056.5,151.1 L1058.6,153.5 L1060.6,156.4 L1062.7,159.3 L1064.7,162.1 L1066.7,165 L1068.8,167.8 L1070.8,170.6 L1072.8,173.4 L1074.8,176.2 L1076.8,179.1 L1078.8,181.9 L1080.7,184.6 L1082.6,187.3 L1084.7,189.6 L1086.9,191.9 L1089.2,194.4 L1091.2,196.6 L1093.2,198.9 L1096,200.7 L1098.9,202.6 L1101.9,204.6 L1104.6,206.5 L1107.3,208.4 L1110.1,210.5 L1112.8,212.5 L1115.3,214.9 L1117.7,217.2 L1119.8,219.4 L1121.9,221.5 L1124.4,223.3 L1126.9,225 L1129.7,227 L1132.4,229 L1134.8,231.2 L1137.2,233.4 L1139.2,235.3 L1141.2,237.2 L1144.1,238.8 L1146.8,240.4 L1149.8,242.1 L1152.7,243.6 L1155.7,245 L1158.7,246.5 L1161.7,248 L1164.7,249.5 L1167.6,251 L1170.5,252.2 L1173.2,253.3 L1175.9,254.5 L1178.6,254.8 L1181.3,255.1 L1184.3,255.5 L1187.3,255.8 L1190.3,256.2 L1193.4,256.6 L1196.1,256.9 L1198.9,257.3 L1202.2,257.1 L1205.8,256.8 L1209.6,256.6 L1212.9,257.1 L1216.7,257.8 L1220.1,258.4 L1224.1,260.4 L1228.1,262.4 L1231,263.6 L1234.2,264.9 L1237.4,266.2 L1240.6,268.4 L1243.3,270.2 L1246.2,272.2 L1251,273.2 L1253.8,274.3 L1257,275.7 L1260,277 L1263.1,278.3 L1265.8,279.4 L1268.5,280.6 L1271.7,281 L1274.8,281.4 L1278.2,281.9 L1281.5,281.9 L1284.7,281.9 L1288,281.9 L1290.7,281.4 L1293.5,280.8 L1296.2,280.3 L1298.9,279.8 L1302.2,278.4 L1305.7,276.9 L1309.3,275.4 L1313,274.3 L1316.7,273.3 L1320.3,272.3 L1323.4,271.5 L1326.6,270.7 L1329.9,269.9 L1333.1,269.6 L1336.5,269.3 L1339.7,269 L1343,269.3 L1346.4,269.6 L1349.6,269.9 L1352.9,270.7 L1356.4,271.6 L1359.7,272.4 L1363.4,274.3 L1367.3,276.3 L1371,278.1 L1374.2,280.5 L1377.5,282.9 L1380.5,285.2 L1383.1,287.3 L1385.9,289.5 L1388.6,291.7 L1390.8,294.4 L1393.1,297.2 L1395.2,299.9 L1397.1,303.1 L1399,306.3 L1400.7,309.3 L1392.1,314.3 L1390.3,311.3 L1388.6,308.4 L1387,305.5 L1385.1,303.2 L1383.4,301 L1381.6,298.7 L1379.3,296.9 L1377,295.1 L1374.5,293.2 L1371.5,290.9 L1368.6,288.8 L1365.8,286.7 L1362.5,285 L1359.4,283.4 L1356.1,281.8 L1353.3,281.1 L1350.8,280.5 L1348,279.7 L1345.1,279.5 L1342.5,279.3 L1339.7,279 L1336.9,279.3 L1334.3,279.5 L1331.5,279.7 L1328.7,280.5 L1325.9,281.2 L1322.9,281.9 L1319.4,282.9 L1316.1,283.9 L1312.7,284.8 L1309.3,286.3 L1305.7,287.8 L1301.9,289.4 L1298.6,290 L1295.3,290.7 L1292.1,291.3 L1288.8,291.9 L1285.1,291.9 L1281.2,291.9 L1277.4,291.9 L1273.7,291.4 L1269.7,290.8 L1265.9,290.2 L1262.6,288.9 L1259.2,287.5 L1256.2,286.2 L1253.2,284.9 L1250.4,283.8 L1247.2,282.4 L1242,281.2 L1238.8,279.1 L1235.4,276.9 L1232.6,275 L1229.8,273.9 L1227,272.7 L1223.9,271.4 L1220.3,269.6 L1216.7,267.8 L1214.1,267.4 L1211.9,267.1 L1209.2,266.6 L1205.9,266.8 L1202.5,267.1 L1198.7,267.3 L1195.4,266.9 L1192.1,266.5 L1189.1,266.1 L1186.1,265.8 L1183.1,265.4 L1180,265 L1176.7,264.6 L1173.3,264.1 L1169.9,262.8 L1166.5,261.3 L1163.4,260 L1160.3,258.5 L1157.3,257 L1154.3,255.5 L1151.2,254 L1148.1,252.4 L1145,251 L1141.8,249.4 L1138.3,247.6 L1134.9,245.8 L1132.4,243.6 L1129.8,241.4 L1127.6,239.6 L1125.4,237.7 L1122.8,236.1 L1120.2,234.4 L1117.2,232.5 L1114.3,230.6 L1111.7,228.2 L1109.1,225.9 L1107,223.9 L1104.8,222 L1102.3,220.4 L1099.8,218.8 L1097.2,217.1 L1094.5,215.3 L1091.5,213.5 L1088,211.4 L1084.5,209.3 L1081.7,206.5 L1079,203.8 L1076.6,201.4 L1074.1,198.8 L1071.5,196.2 L1069.3,193.2 L1067,190.2 L1064.9,187.5 L1062.8,184.7 L1060.7,182 L1058.6,179.2 L1056.5,176.5 L1054.4,173.8 L1052.3,171 L1050.2,168.3 L1048.2,165.7 L1046.2,163.1 L1044.2,160.9 L1042.3,158.7 L1040.2,156.4 L1038,154 L1035.8,151.5 L1033.6,149 L1031.3,146.1 L1029.1,143.2 L1027,140.4 L1024.9,137.7 L1022.8,134.9 L1020.6,132.2 L1018.3,129.6 L1015.8,127.1 L1013.4,124.6 L1011,122.1 L1008.8,119.9 L1006.6,117.7 L1003.9,115.7 L1001.3,113.7 L999.3,112.4 L997.4,111 L994.6,110.5 L995,111.4 L995.3,111 L996.4,111.9 L997.9,111.8 L995.1,112.2 L992.3,113.1 L991.9,112.8 L990.9,112.3 L990.9,113.1 L990.7,113.6 L988.6,116.1 L987,118.1 L985.4,120.1 L984.1,122 L982.8,123.9 L981.1,126.5 L979.5,129.2 L977.8,131.8 L976.4,133.8 L975,135.8 L974,138.3 L973,140.8 L971.8,143.8 L970.6,146.9 L969.4,150 L968.2,153.1 L967,156.1 L965.9,159.2 L964.7,162.1 L963.6,164.9 L962.8,167.6 L962,170.2 L961.2,173.1 L960.3,176 L959.5,178.9 L958.6,181.8 L957.8,184.7 L956.9,187.6 L956.2,190.6 L955.5,193.5 L954.8,196.4 L954.2,199.4 L953.5,202.2 L952.8,205.1 L952.2,208.1 L951.5,211.1 L950.9,214.2 L950.3,217.2 L949.6,220.3 L949,223.3 L948.3,226.4 L947.7,229.5 L947,232.5 L946.4,235.6 L945.7,238.6 L945.1,241.7 L944.4,244.8 L943.8,247.8 L943.2,250.8 L942.5,253.9 L941.9,256.9 L941.3,259.9 L940.7,263 L940.1,266 L939.5,269.1 L938.8,272.1 L938.2,275.2 L937.6,278.2 L937,281.3 L936.3,284.5 L935.7,287.8 L934.8,291 L933.9,294.3 L933,297.3 L932.2,300.3 L931.3,303.4 L930.4,306.5 L929.5,309.7 L928.6,312.8 L927.7,315.9 L926.8,319.2 L925.8,322.5 L924.7,325.6 L923.6,328.8 L922.5,331.7 L921,335.7 L919.4,339.6 L916.7,343.1 L912.4,347.8 L908.2,350.6 L901.6,351.1 L895.5,351.1 L891.3,349.6 L887.4,349.2 L883.9,349.2 L880.3,349.2 L876.8,349.2 L873.3,348.9 L869.8,348.5 L866.7,348.2 L863.6,347.9 L860.5,348.2 L857.4,348.5 L853.8,348.9 L850.2,349.2 L846.8,348.9 L843.4,348.7 L840.1,348.4 L837,348.2 L833.9,347.9 L830.5,347.9 L827.2,347.9 L823.7,347.9 L820.2,347.9 L816.7,347.9 L813.3,347.7 L809.8,347.5 L806.5,347.4 L803.1,347.2 L799.8,347 L796.4,346.8 L793.1,346.7 L789.7,346.5 Z" fill="#0fb44a" fill-opacity="0.17" stroke="none"/><path d="M790,341.5 C794.5,341.7 809.4,342.7 816.8,342.9 C824.1,343.1 828.5,342.7 834.1,342.9 C839.7,343.1 845.3,344.2 850.2,344.2 C855.1,344.2 859.1,342.9 863.6,342.9 C868.1,342.9 871.9,344 877,344.2 C882.1,344.4 890.1,344.6 894.3,344.2 C898.5,343.8 899.9,343.3 902.4,341.5 C904.9,339.7 907.1,337.3 909.1,333.5 C911.1,329.7 912.6,324.4 914.4,318.8 C916.2,313.2 918.2,305.7 919.8,300.1 C921.4,294.5 922.1,293.6 924,285 C925.9,276.4 928.5,262.1 931.4,248.4 C934.2,234.7 937.9,217 941.1,202.5 C944.3,188 947.5,173.5 950.7,161.4 C953.9,149.3 957.2,138.4 960.4,130 C963.6,121.5 966.8,116.1 970,110.7 C973.2,105.3 976.5,100.2 979.7,97.4 C982.9,94.6 986.2,94.8 989.4,93.8 C992.6,92.8 995.8,90.8 999,91.4 C1002.2,92 1005.5,94.6 1008.7,97.4 C1011.9,100.2 1014.8,103.7 1018.4,108.3 C1022,112.9 1026.4,119.6 1030.4,125.2 C1034.4,130.8 1038.5,136.9 1042.5,142.1 C1046.5,147.3 1050.6,151.4 1054.6,156.6 C1058.6,161.8 1062.7,167.9 1066.7,173.5 C1070.7,179.1 1074.8,185.5 1078.7,190.4 C1082.6,195.3 1086.6,199.6 1090,202.7 C1093.4,205.8 1095.8,206.4 1099.1,208.7 C1102.4,211 1106.3,213.5 1109.6,216.3 C1112.9,219.1 1115.4,222.5 1118.7,225.3 C1122,228.1 1126,230.2 1129.3,232.9 C1132.6,235.6 1135.3,238.9 1138.3,241.2 C1141.3,243.5 1144.4,244.9 1147.4,246.5 C1150.4,248.1 1153.5,249.5 1156.5,251 C1159.5,252.5 1162.5,254.1 1165.5,255.5 C1168.5,256.9 1171.1,258.4 1174.6,259.3 C1178.1,260.2 1182.7,260.3 1186.7,260.8 C1190.7,261.3 1195,262.2 1198.8,262.3 C1202.6,262.4 1206.1,261.5 1209.4,261.6 C1212.7,261.7 1215.6,262.2 1218.4,263.1 C1221.2,264 1223.2,265.6 1226,266.9 C1228.8,268.1 1232,269 1235,270.6 C1238,272.2 1241.8,275.5 1244.1,276.7 C1246.4,277.9 1246.8,277 1249.1,277.8 C1251.4,278.6 1255.1,280.3 1258.1,281.6 C1261.1,282.9 1263.9,284.5 1267.2,285.4 C1270.5,286.3 1274.3,286.6 1277.8,286.9 C1281.3,287.1 1284.6,287.3 1288.4,286.9 C1292.2,286.5 1296.6,285.7 1300.4,284.6 C1304.2,283.5 1307.5,281.4 1311,280.1 C1314.5,278.9 1318.3,278 1321.6,277.1 C1324.9,276.2 1327.7,275.3 1330.7,274.8 C1333.7,274.3 1336.7,274 1339.7,274 C1342.7,274 1345.8,274.3 1348.8,274.8 C1351.8,275.3 1354.6,275.8 1357.9,277.1 C1361.2,278.4 1365.1,280.4 1368.4,282.4 C1371.7,284.4 1374.7,287.1 1377.5,289.2 C1380.3,291.3 1382.8,292.9 1385.1,295.2 C1387.4,297.4 1389.2,299.9 1391.1,302.7 C1393,305.5 1395.5,310.3 1396.4,311.8" stroke="#0fb44a" stroke-width="6" fill="none" stroke-linejoin="round" stroke-linecap="butt"/><path d="M787.7,334.4 L792,332.4 L795.9,330.6 L799.9,331.2 L804.5,332.1 L808.1,333 L811.3,335.2 L814.4,337.6 L816.7,339.3 L819,341.1 L821.7,341.8 L823.9,342.4 L826.4,343.2 L829.1,342.8 L831.2,342.5 L833.9,342.2 L837.5,340.3 L841.3,338.4 L844.8,336.6 L848.4,334.8 L852.1,333 L855.7,331.4 L859.6,329.7 L863.6,328 L867.5,327.5 L871.7,326.9 L875.5,326.5 L879.3,326.7 L883.1,327 L886.6,327.2 L889.8,327.4 L892.4,327.6 L895.1,327.8 L897.1,327.2 L899.5,326.7 L901.3,324.1 L903.4,321.4 L905.2,317.7 L907,314 L908.2,310.9 L909.4,307.8 L910.7,304.6 L911.9,301.5 L913,298.5 L913.7,295.3 L914.4,292.2 L915.2,288.9 L915.9,285.5 L916.7,282.2 L917.4,278.8 L918.1,275.8 L918.9,272.8 L919.6,269.8 L920.3,266.9 L921,263.9 L921.7,260.9 L922.4,257.9 L923.1,255 L923.8,252.1 L924.4,249.1 L925,246.1 L925.6,243.1 L926.2,240.1 L926.8,237.1 L927.4,234.1 L928,231 L928.6,228 L929.2,225 L929.8,222 L930.4,218.9 L931,215.8 L931.8,212.5 L932.6,209.2 L933.4,206 L934.2,202.8 L935,199.6 L935.8,196.3 L936.6,193.1 L937.4,189.9 L938.2,186.6 L939,183.6 L939.8,180.7 L940.6,177.7 L941.4,174.7 L942.2,171.8 L943,168.8 L943.8,165.9 L944.6,162.9 L945.4,159.9 L946.3,156.8 L947.2,153.8 L948.1,150.8 L949,147.7 L949.9,144.7 L950.9,141.7 L951.8,138.6 L952.8,135.4 L954,132.4 L955.2,129.5 L956.4,126.6 L957.6,123.8 L958.9,120.8 L960.2,117.8 L962.1,114.6 L964,111.4 L966,108.1 L968,104.8 L970.6,102.1 L973.8,98.9 L976.8,96.1 L980.7,94.9 L984.4,93.9 L987.3,93.1 L991.8,91 L996.6,89 L1000.9,91.2 L1005.1,93.8 L1007.7,95.6 L1010.3,97.4 L1012.9,99.5 L1015.4,101.6 L1018,103.7 L1020.5,105.7 L1023.1,108.2 L1025.7,110.6 L1028.2,112.9 L1030.7,115.2 L1033.1,117.4 L1035.5,119.5 L1038,121.5 L1040.5,123.6 L1043.1,125.8 L1045.8,128 L1048.3,130.9 L1050.8,133.7 L1053.2,136.3 L1055.3,138.7 L1057.3,141 L1059.8,142.7 L1062.3,144.3 L1065.2,146.3 L1068.5,148.5 L1071.8,150.8 L1074.2,153.6 L1076.7,156.4 L1078.7,158.8 L1080.8,161.3 L1082.9,163.7 L1084.9,166.1 L1086.9,168.4 L1089,170.8 L1091.2,173.1 L1093.4,175.6 L1095.7,178 L1098.2,181.2 L1100.8,184.3 L1103.3,187.3 L1105.8,190.4 L1108,193.1 L1110.2,195.9 L1112.9,197.9 L1115.5,199.8 L1118.4,202 L1121.3,204 L1124.7,206.3 L1128,208.7 L1130.9,212.1 L1133.4,215.1 L1135.4,217.7 L1137.9,219 L1140.4,220.4 L1143.4,222.2 L1146,223.7 L1148.7,225.3 L1151.7,227.1 L1154.7,228.9 L1157.3,231.5 L1159.8,234.1 L1161.4,235.7 L1162.9,237.5 L1166.1,238.4 L1169.5,239.4 L1172.8,241.1 L1175.9,242.7 L1178.7,244.1 L1182,245.3 L1185.2,246.5 L1188.6,247.7 L1191.5,248.4 L1193.4,249 L1195.4,249.8 L1199.2,248.7 L1203,247.6 L1206.7,248.4 L1210.5,249.1 L1213.1,248.1 L1216,247 L1219.7,245.8 L1223.4,245 L1227.9,244.1 L1232.2,243.3 L1236.1,244.5 L1240.2,245.8 L1243.5,246.9 L1246.3,248.4 L1249.6,250.2 L1252.6,251.8 L1255.3,253.9 L1258.2,255.9 L1260.8,257.7 L1263.4,259.5 L1266,261.5 L1268.6,263.4 L1270.8,265 L1272.9,266.5 L1275.4,267.2 L1277.4,268.5 L1278.7,269.4 L1280.1,270.6 L1281.5,270.5 L1283.1,270.9 L1284.5,269.8 L1286,269 L1288.3,267.8 L1290.6,266.6 L1293,264.6 L1295.4,262.7 L1298.6,260.1 L1301.7,257.6 L1305.7,255.7 L1310.2,253.6 L1314.3,251.7 L1318,251.1 L1322.6,250.5 L1326.4,250.1 L1331.8,251.2 L1336.8,252.6 L1340.5,255.4 L1344.4,258.5 L1347.5,261.1 L1349.8,263.6 L1352.2,266.2 L1354.3,268.6 L1356.4,271 L1358.6,273.3 L1360.7,275.7 L1362.8,277.9 L1364.9,280.1 L1367.9,282.6 L1370.7,285 L1373.6,287.4 L1376.5,289.3 L1379.3,291.2 L1382.2,293.1 L1386.3,295.6 L1390.4,298.1 L1392.9,301 L1395.6,304.5 L1397.9,307.5 L1399.4,311.4 L1400.8,315.3 L1402,318.9 L1391.7,322.6 L1390.4,319.1 L1389.3,315.9 L1388.2,312.7 L1386.4,310.5 L1385.1,308.8 L1383.4,306.6 L1379.9,304.5 L1376.4,302.4 L1373.3,300.4 L1370.1,298.3 L1367,296.2 L1363.9,293.6 L1360.7,290.9 L1357.6,288.3 L1355.2,286 L1352.8,283.7 L1350.5,281.4 L1348.3,279.1 L1346,276.9 L1343.7,274.6 L1341.6,272.4 L1339.5,270.3 L1336.6,268.1 L1334.2,266.3 L1331.7,264.3 L1328.7,263.8 L1325.9,263.2 L1323.4,263.7 L1321.4,264 L1318.7,264.4 L1315.5,266.1 L1312.5,267.6 L1309.2,269.2 L1306.8,271.3 L1304.4,273.3 L1301.6,275.7 L1298.8,278.1 L1296,279.7 L1293.1,281.4 L1289.8,283.2 L1286.5,285 L1281.5,285.1 L1276.6,285 L1273.3,283.2 L1270,281.4 L1267.1,279.7 L1264.2,278 L1261.6,275.5 L1259.1,273.1 L1256.9,270.8 L1254.6,268.6 L1252.4,266.6 L1250.2,264.5 L1248.2,262.7 L1246.2,260.8 L1243.8,259.6 L1241.6,258.4 L1239.2,257.1 L1236.3,256.2 L1234.2,255.4 L1231.8,254.5 L1228.9,255.2 L1226.1,255.9 L1222.8,256.6 L1219.4,257.8 L1215.4,259.2 L1211.2,260.5 L1207.4,259.7 L1203.6,259 L1199.8,260.1 L1196.1,261.3 L1192.3,260.5 L1188.4,259.6 L1185.2,258.8 L1181.6,257.5 L1177.8,256.2 L1174.2,254.9 L1171,253.3 L1168,251.8 L1165.2,250.4 L1161.1,249.1 L1157.1,247.9 L1154.2,245.2 L1151.4,242.5 L1149.4,240.4 L1147.3,238.4 L1144.9,237.1 L1142.5,235.9 L1139.8,234.5 L1137.1,233.2 L1134,231.6 L1130.4,229.7 L1126.8,227.8 L1123.8,224.5 L1121.1,221.5 L1118.8,218.9 L1116,217.3 L1113.3,215.7 L1110.1,213.8 L1106.9,211.7 L1103.3,209.2 L1099.8,206.8 L1096.8,203.5 L1093.9,200.2 L1091.3,197.3 L1088.7,194.4 L1086.1,191.5 L1083.5,188.6 L1081.3,186.4 L1079.1,184.2 L1076.8,181.9 L1074.4,179.5 L1072.2,177.1 L1070,174.7 L1067.8,172.4 L1065.7,170.1 L1063.5,167.7 L1061.8,165.9 L1060.2,164.1 L1057.7,162.7 L1055.3,161.3 L1052.3,159.5 L1048.7,157.3 L1045.2,155.1 L1042.2,152.1 L1039.2,149.1 L1036.7,146.5 L1034.3,144.1 L1032,141.8 L1029.7,139.9 L1027.4,138 L1024.9,136 L1022.3,133.8 L1019.1,132.2 L1015.7,130.5 L1012.4,128.8 L1009.1,127.2 L1006.1,125.8 L1003.1,124.4 L1000.1,123.4 L997.2,122.4 L994.4,121.4 L991.5,120.4 L989.2,119.3 L987.3,117.5 L991.6,118.9 L996.5,118 L997.5,119 L997.4,119.3 L992.9,120.2 L991,120.2 L990.2,119.4 L990,120 L990.3,119.5 L988.5,120.8 L987.2,122.7 L985.7,124.5 L983.6,126.7 L981.6,128.9 L980.3,130.9 L979.1,133 L977.5,135.6 L976,138.3 L974.6,140.5 L973.2,142.8 L972.1,145.3 L971.1,147.8 L969.9,150.8 L968.7,153.7 L967.5,156.6 L966.3,159.6 L965.2,162.4 L964,165.2 L963,168 L961.9,170.8 L960.9,173.7 L959.9,176.6 L958.8,179.5 L957.8,182.3 L956.7,185.2 L955.9,188.1 L955.1,191 L954.3,194.2 L953.5,197.4 L952.7,200.6 L951.9,203.8 L951.1,207 L950.3,210.3 L949.5,213.5 L948.7,216.6 L947.9,219.6 L947.3,222.5 L946.8,225.4 L946.2,228.4 L945.6,231.4 L945,234.4 L944.4,237.4 L943.8,240.5 L943.2,243.5 L942.6,246.5 L942,249.5 L941.3,252.6 L940.7,255.8 L940,258.9 L939.2,262 L938.5,265 L937.8,267.9 L937.1,270.9 L936.3,273.9 L935.6,276.9 L934.9,279.8 L934.2,282.7 L933.4,286 L932.7,289.3 L932,292.6 L931.2,296 L930.3,299.7 L929.5,303.5 L928.1,307.2 L926.7,310.8 L925.4,314 L924,317.6 L922.6,321 L920.2,325.8 L917.8,330.5 L913.9,335.5 L908.7,339.5 L902.6,340.3 L896.6,340.4 L892.8,338.8 L889.1,337.4 L886,337.2 L882.4,337 L879.1,336.7 L875.7,336.5 L872.4,336.9 L869.5,337.3 L866.2,337.6 L863,339.1 L859.8,340.5 L856.3,342 L852.8,343.8 L849.3,345.6 L845.7,347.4 L841.5,349.5 L837.1,351.6 L833.6,352.2 L829.4,352.8 L825.8,353.2 L822.1,352.3 L818.1,351.1 L814.6,350.1 L811.5,347.8 L808.4,345.6 L806.1,343.8 L803.9,342 L801.3,341.6 L799.7,341.2 L797.5,340.4 L794.7,342 L792.3,343.4 Z" fill="#0ba6ff" fill-opacity="0.17" stroke="none"/><path d="M790,338.9 C791.1,338.3 794,335.7 796.7,335.5 C799.4,335.3 802.6,335.8 806,337.5 C809.4,339.2 813.4,343.8 816.8,345.6 C820.1,347.4 823,348 826.1,348.2 C829.2,348.4 832.6,347.8 835.5,346.9 C838.4,346 840.4,344.5 843.5,342.9 C846.6,341.3 850.6,339.2 854.2,337.5 C857.8,335.8 861.3,333.8 864.9,332.8 C868.5,331.8 872,331.6 875.6,331.5 C879.2,331.4 882.9,332 886.3,332.2 C889.6,332.4 893,333 895.7,332.8 C898.4,332.6 900.4,332.2 902.4,330.8 C904.4,329.4 906.2,326.6 907.7,324.1 C909.2,321.7 910,320.1 911.7,316.1 C913.4,312.1 916.2,306 918,300 C919.8,294 920.7,287.8 922.5,280 C924.3,272.2 926.7,263.7 929,253.2 C931.3,242.7 933.8,227.9 936.2,217 C938.6,206.1 941.1,197.3 943.5,188 C945.9,178.7 948.3,169.8 950.7,161.4 C953.1,153 955.6,144.1 958,137.3 C960.4,130.5 962.8,125.2 965.2,120.4 C967.6,115.6 970.1,111.5 972.5,108.3 C974.9,105.1 976.9,102.7 979.7,101.1 C982.5,99.5 986.6,99.6 989.4,98.6 C992.2,97.6 993.8,94.4 996.6,95 C999.4,95.6 1003.1,99.7 1006.3,102.3 C1009.5,104.9 1012.3,107.3 1015.9,110.7 C1019.5,114.1 1024,119 1028,122.8 C1032,126.6 1036.1,129.7 1040.1,133.7 C1044.1,137.7 1047.8,143.2 1052.2,147 C1056.6,150.8 1061.9,152.2 1066.7,156.6 C1071.5,161 1077.3,169.1 1081.2,173.5 C1085.1,177.9 1087.3,179.9 1090,183 C1092.7,186.1 1095.1,189.1 1097.6,192.1 C1100.1,195.1 1102.3,198.5 1105.1,201.2 C1107.9,203.8 1111.2,205.9 1114.2,208 C1117.2,210.1 1120.4,211.5 1123.2,214 C1126,216.5 1128,220.7 1130.8,223.1 C1133.6,225.5 1136.6,226.4 1139.9,228.3 C1143.2,230.2 1147.1,231.9 1150.4,234.4 C1153.7,236.9 1156.7,241.6 1159.5,243.5 C1162.3,245.4 1164.2,244.6 1167,245.7 C1169.8,246.8 1172.8,248.9 1176.1,250.3 C1179.4,251.7 1183.4,253 1186.7,254 C1190,255 1193,256.3 1195.8,256.3 C1198.6,256.3 1200.8,254.1 1203.3,254 C1205.8,253.9 1207.9,255.9 1210.9,255.5 C1213.9,255.1 1217.9,252.8 1221.4,251.8 C1224.9,250.8 1228.7,249.4 1232,249.5 C1235.3,249.6 1238.2,251.3 1241.1,252.5 C1243.9,253.7 1246.3,254.6 1249.1,256.7 C1251.9,258.8 1255.1,262.1 1258.1,265 C1261.1,267.9 1263.9,271.5 1267.2,274 C1270.5,276.5 1274.8,279.1 1277.8,280.1 C1280.8,281.1 1282.3,281.1 1285.3,280.1 C1288.3,279.1 1292.4,276.5 1295.9,274 C1299.4,271.5 1303,267.4 1306.5,265 C1310,262.6 1313.8,260.8 1317.1,259.7 C1320.4,258.6 1323.3,258.2 1326.1,258.2 C1328.9,258.2 1330.9,258.3 1333.7,259.7 C1336.5,261.1 1339.8,263.9 1342.8,266.5 C1345.8,269.1 1348.8,272.6 1351.8,275.6 C1354.8,278.6 1357.9,281.8 1360.9,284.6 C1363.9,287.4 1367,289.9 1370,292.2 C1373,294.5 1376.2,296.4 1379,298.2 C1381.8,299.9 1384.3,300.7 1386.6,302.7 C1388.9,304.7 1391,307.3 1392.6,310.3 C1394.2,313.3 1395.8,319.1 1396.4,320.9" stroke="#0ba6ff" stroke-width="6" fill="none" stroke-linejoin="round" stroke-linecap="butt"/></g><line x1="832.4" y1="46" x2="832.4" y2="436.9" stroke="#000" stroke-width="2"/><path d="M1187.5,60.4 V98.6 M1187.5,122.4 V160.6 M1187.5,184.4 V222.6 M1187.5,246.4 V284.6 M1187.5,308.4 V346.6 M1187.5,370.4 V408.6" stroke="#000" stroke-width="2.2" fill="none"/><rect x="789.8" y="311" width="605.7" height="60.4" fill="rgb(50,170,180)" fill-opacity="0.33"/><rect x="789.8" y="318.8" width="605.7" height="45" fill="rgb(235,127,139)" fill-opacity="0.2"/><path d="M1258.5,46.5 V61.7 M1258.5,85.1 V123.5 M1258.5,146.9 V185.3 M1258.5,208.7 V247.1 M1258.5,270.5 V308.9 M1258.5,332.3 V370.7 M1258.5,394.1 V431.9" stroke="#d95319" stroke-width="2" fill="none"/><path d="M792.7,341.2 H830.8 M854.6,341.2 H892.7 M916.5,341.2 H954.6 M978.4,341.2 H1016.5 M1040.3,341.2 H1078.4 M1102.2,341.2 H1140.3 M1164.1,341.2 H1202.2 M1226,341.2 H1264.1 M1287.9,341.2 H1326 M1349.8,341.2 H1387.9" stroke="#3a4247" stroke-width="2.2" fill="none"/><line x1="1401" y1="44.5" x2="1401" y2="435.2" stroke="#d95319" stroke-width="3.4"/><rect x="174.5" y="536.5" width="357.6" height="332.6" fill="#efefef"/><clipPath id="clipBL"><rect x="131.9" y="482" width="615.2" height="388.8"/></clipPath><g clip-path="url(#clipBL)"><path d="M131.6,764.1 L136.4,763.8 L141,763.5 L144.6,764.2 L148.2,765 L151.4,765.6 L154.5,766.3 L157.2,766.9 L160,767.5 L163.3,767.5 L166.3,767.5 L169.7,767.5 L172.8,767 L175.9,766.6 L179.9,766 L183.8,765.5 L188,766.4 L191.8,767.3 L195,768.2 L197.6,768.1 L200.2,768.1 L204.2,768.2 L208,768.3 L211.8,770.4 L215.3,772.4 L218.2,774.1 L221.5,775.3 L224.7,776.5 L228.1,777.8 L231.5,778.6 L234.8,779.5 L238.2,780.3 L241.3,780.8 L244.4,781.4 L247.7,781.9 L250.2,782.4 L252.8,782.9 L255.7,782.1 L258.8,781.3 L262.3,780.4 L265.9,779.5 L269.1,778.7 L272.3,777.9 L274.6,776.6 L276.9,775.3 L279.4,773.9 L281.9,772.5 L284.4,770.6 L287,768.7 L290.1,766.4 L293.2,764.1 L296.9,763 L300.6,761.9 L303.8,760.9 L307.8,759.8 L311.9,758.8 L316.2,759.7 L320.8,760.9 L324.6,761.8 L327.6,763.3 L331,765 L334,766.5 L336.9,768.8 L339.8,771.1 L342.5,773.2 L344.6,775 L346.6,776.8 L349.3,777.1 L351.9,777.6 L355.2,778.2 L358.4,778.9 L361.3,779.2 L364.2,779.5 L366.4,779.9 L368.6,780.3 L371.5,779.1 L374.8,777.8 L378.7,776.4 L382.1,776 L385.5,775.5 L387.7,775.3 L389.9,775.3 L391.9,773.6 L394,772 L396.7,769.9 L399.5,767.9 L402.3,766.1 L405.1,764.4 L408.3,762.4 L411.6,760.5 L415.5,759.8 L419.4,759.2 L423.1,758.6 L426.9,758.1 L430.6,758.5 L434.3,758.8 L437.3,759.2 L440.3,759.5 L443.5,759.1 L447.2,758.6 L451.2,758.1 L454.8,758.7 L458.5,759.3 L461.8,759.8 L464.3,760.3 L466.9,760.8 L469.6,760 L472.4,759.3 L476.5,758.3 L480.8,757.4 L484.8,758.7 L487.7,759.7 L489.7,760.8 L492.2,759.6 L495.8,758.3 L500.2,756.8 L504.7,757.7 L509.7,758.9 L513.8,760.1 L517.2,762.4 L520.2,764.5 L522.6,766.4 L525,766.8 L527.4,767.3 L530.4,768 L533.2,768.6 L535.9,769.3 L538.7,769.4 L541.4,769.5 L544.4,769.7 L546.9,769.8 L549.4,770 L552,769.3 L554.5,768.5 L557.6,767.7 L560.7,766.8 L563.7,766 L566.8,765.3 L569.9,764.6 L572.9,764 L576.3,763.2 L579.8,762.5 L583.5,762.7 L587.3,762.9 L591.2,763.2 L595.1,763.5 L598.9,765.1 L602.7,766.8 L605.8,768.1 L608.8,769.5 L611.8,770 L614.8,770.6 L617.9,771.1 L621,771.7 L623.7,771.7 L626.4,771.7 L629.4,771.7 L632.1,771.7 L634.8,771.7 L637.9,771.1 L641,770.6 L644.7,769.9 L648.3,769.2 L652.5,769.2 L656.8,769.2 L661,769.2 L664.6,769.9 L668.3,770.6 L671.8,771.2 L675.3,771.9 L678.3,772.7 L681.4,773.6 L684.1,774.3 L686.8,775.1 L690.5,775.7 L693.7,776.1 L697.1,776.7 L700.5,775.9 L703.5,775.3 L706.9,774.6 L709.4,773.1 L711.9,771.6 L715.2,769.8 L718.5,767.9 L722.2,766.9 L726,766 L729.3,765.2 L732.7,764.4 L735.5,776 L732.2,776.8 L728.8,777.6 L725.9,778.4 L722.9,779.1 L720.4,780.6 L717.8,782.1 L714.4,784 L711.1,785.8 L706.7,786.8 L701.9,787.8 L697.5,788.7 L693.1,788.1 L688.5,787.5 L684.4,786.9 L681.3,786 L678.1,785.1 L675.3,784.3 L672.5,783.5 L669.3,782.9 L666.1,782.3 L663.1,781.8 L660,781.2 L656.4,781.2 L652.9,781.2 L649.3,781.2 L646.2,781.8 L643.2,782.3 L639.6,783 L636,783.7 L632.7,783.7 L629.4,783.7 L626.4,783.7 L623.1,783.7 L619.8,783.7 L616.2,783 L612.6,782.3 L608.9,781.6 L605.2,780.9 L601.5,779.3 L597.9,777.7 L595,776.4 L592.1,775.1 L589.3,775 L586.5,774.9 L583.6,774.7 L580.6,774.5 L578.1,775.1 L575.5,775.7 L572.5,776.3 L569.6,777 L566.7,777.6 L563.7,778.4 L560.8,779.3 L557.7,780.1 L554.3,781 L550.8,782 L547.3,781.8 L543.8,781.7 L540.8,781.5 L537.5,781.3 L534.3,781.1 L531,780.4 L527.7,779.7 L524.7,779 L521.1,778.1 L517.4,777.2 L514,774.9 L511.2,772.8 L508.8,770.9 L505.7,770.3 L503.6,769.7 L501,768.8 L498.3,770 L494.7,771.3 L490.1,772.8 L485.8,771.6 L482.5,770.4 L480.2,769.4 L477.8,770.2 L475.3,770.9 L471.4,771.9 L467.5,772.8 L463.6,772.2 L459.8,771.6 L456.5,771.1 L453.8,770.6 L451,770.1 L447.9,770.6 L444.4,771 L440.5,771.5 L436.8,771.1 L433.1,770.8 L430.1,770.4 L427.1,770.1 L424.2,770.6 L421.2,771 L418.4,771.4 L415.6,771.7 L413.5,773.2 L411.4,774.5 L408.9,776.1 L406.3,777.7 L403.7,779.7 L401.1,781.6 L397.9,784 L394.5,786.3 L390.7,787 L386.9,787.5 L384.3,787.7 L381.7,788 L378.4,789.3 L374.6,790.7 L370.4,792.1 L366.6,791.8 L362.8,791.5 L359.7,791.1 L356.6,790.7 L353.1,790.1 L349.7,789.4 L345.6,788.6 L341.6,787.6 L338.3,785.2 L335,782.6 L332.3,780.5 L329.9,778.5 L327.4,776.5 L325,775.4 L323,774.4 L320.6,773.2 L317.3,772.3 L314.7,771.7 L311.9,770.8 L309.6,771.7 L307.2,772.4 L304,773.4 L301.3,774.1 L298.6,774.9 L296.4,776.6 L294.1,778.3 L291.3,780.4 L288.5,782.5 L285.6,784.1 L282.8,785.7 L279.7,787.4 L276.7,789.1 L272.7,790.1 L268.8,791.1 L265.3,792 L261.7,792.9 L257.6,793.9 L253.4,794.9 L249.6,794.4 L245.7,793.7 L242.4,793.2 L239.1,792.6 L235.8,792.1 L232.1,791.1 L228.2,790.2 L224.5,789.2 L220.8,787.8 L216.8,786.4 L213,784.9 L209.7,783 L207,781.4 L204.6,779.9 L202.4,780 L200.2,780.1 L196.8,780.1 L193.4,780 L189.5,779.1 L186.2,778.3 L183.2,777.5 L180.4,778 L177.7,778.4 L174.1,779 L170.5,779.5 L166.7,779.5 L162.7,779.5 L158.8,779.5 L155.4,778.8 L151.9,778 L148.8,777.4 L145.7,776.7 L143.1,776.1 L140.4,775.5 L136.3,775.8 L132.4,776.1 Z" fill="#fd5a6a" fill-opacity="0.17" stroke="none"/><path d="M132,770.1 C133.4,770 137.7,769.3 140.7,769.5 C143.7,769.7 147,770.8 150.1,771.5 C153.2,772.2 156.1,773.2 159.4,773.5 C162.7,773.8 166.1,773.8 170.1,773.5 C174.1,773.2 179.5,771.4 183.5,771.5 C187.5,771.6 190.4,773.7 194.2,774.1 C198,774.5 202.7,773.2 206.3,774.1 C209.9,775 212.3,777.9 215.6,779.5 C218.9,781.1 222.7,782.4 226.3,783.5 C229.9,784.6 232.5,785.3 237,786.2 C241.5,787.1 248.6,788.9 253.1,788.9 C257.6,788.9 260.2,787.1 263.8,786.2 C267.4,785.3 270.9,785 274.5,783.5 C278.1,782 281.6,779.8 285.2,777.5 C288.8,775.2 291.4,771.6 295.9,769.5 C300.3,767.4 307.4,765.1 311.9,764.8 C316.3,764.5 319.5,766.4 322.6,767.5 C325.7,768.6 327.1,769 330.7,771.5 C334.3,774 339.6,780 344.1,782.2 C348.6,784.4 353.3,784.1 357.5,784.8 C361.7,785.5 365.7,786.6 369.5,786.2 C373.3,785.8 376.4,783.1 380.2,782.2 C384,781.3 388.4,782.4 392.2,780.8 C396,779.2 399.3,775.2 402.9,772.8 C406.5,770.3 409.6,767.5 413.6,766.1 C417.6,764.7 422.5,764.2 427,764.1 C431.5,764 436.4,765.5 440.4,765.5 C444.4,765.5 446.6,763.9 451.1,764.1 C455.6,764.3 462.3,766.9 467.2,766.8 C472.1,766.7 476.7,763.4 480.5,763.4 C484.3,763.4 486.5,766.9 489.9,766.8 C493.2,766.7 497,763 500.6,762.8 C504.2,762.6 508.1,764 511.3,765.5 C514.5,767 516,770.2 520,771.8 C524,773.4 530.1,774.5 535.1,775.2 C540.1,775.9 545.1,776.6 550.1,776 C555.1,775.4 560.2,773 565.2,771.8 C570.2,770.5 575.5,768.9 580.2,768.5 C584.9,768.1 589.1,768.2 593.6,769.3 C598.1,770.4 602.5,773.8 607,775.2 C611.5,776.6 615.7,777.3 620.4,777.7 C625.1,778.1 630.7,778.1 635.4,777.7 C640.1,777.3 644.6,775.6 648.8,775.2 C653,774.8 656.3,774.8 660.5,775.2 C664.7,775.6 669.7,776.7 673.9,777.7 C678.1,778.7 681.7,780.2 685.6,781 C689.5,781.8 693.4,782.8 697.3,782.7 C701.2,782.6 705.1,781.7 709,780.2 C712.9,778.7 717.6,774.9 720.7,773.5 C723.8,772.1 725.2,772.3 727.4,771.8 C729.6,771.2 733,770.5 734.1,770.2" stroke="#fd5a6a" stroke-width="6" fill="none" stroke-linejoin="round" stroke-linecap="butt"/><path d="M134.5,770 L137.1,771.2 L139.9,772.5 L142.6,773.1 L145.3,773.6 L147.9,774.2 L150.6,774.8 L153.5,774.7 L156.5,774.5 L160.6,774.4 L164.7,774.3 L168.2,776.1 L171.7,778 L174.1,779.3 L176.5,780.7 L179.3,781.6 L182,782.5 L184.9,783.5 L187.8,784.4 L191.7,785.4 L195.6,786.4 L198.6,787 L200.6,787.5 L202.6,788.3 L204.6,786.8 L207.1,785.3 L210.5,783.4 L214.4,782.1 L218,781 L221.3,780 L223.7,778.6 L226,777.3 L228.8,775.7 L231.7,774.1 L235.3,772.5 L239,770.9 L242.5,769.4 L245.5,767.8 L249.3,766 L253.2,764.2 L257.2,764.5 L261.1,764.8 L264.6,765.3 L268,765.7 L271.9,767.1 L275.9,768.6 L279.6,770 L283.3,771.8 L286.9,773.6 L290.3,775.3 L293.7,776.6 L297.1,777.9 L300.7,779.2 L304.3,780.6 L306.9,781.6 L309.3,782.9 L311.7,781.6 L314.1,780.6 L317.4,779.4 L319.9,777.9 L322.3,776.4 L325,774.8 L328.1,773 L331.2,771.2 L334.9,770.3 L338.7,769.3 L342,768.5 L345.3,767.7 L348.9,766.8 L352.8,765.8 L356.7,764.8 L360.7,764.8 L365.1,764.8 L369.2,764.9 L372.8,766.1 L375.6,767.1 L377.9,768.1 L380.5,767.5 L383.1,766.9 L386.8,766.2 L390.6,765.5 L394.4,765.8 L398.2,766.2 L401.5,766.5 L404.9,766.8 L407.9,767.2 L410.9,767.5 L413.7,767.8 L416.4,768.1 L419.7,767.9 L423.6,767.7 L427.8,767.5 L431.8,768.7 L435.3,769.8 L438.3,770.8 L441.2,770.4 L444.1,770 L447.8,769.5 L451.5,769.2 L455.2,768.8 L458.7,768.5 L462.1,768.2 L465.4,767.4 L468.7,766.7 L472.2,765.9 L476,765 L479.9,764.1 L483.5,764.2 L487.2,764.4 L490.4,764.5 L493.3,764.7 L496.1,764.8 L499.4,764.2 L502.3,763.6 L505.5,763.1 L508.3,761.7 L511.2,760.4 L514.4,759 L517.6,757.5 L521.4,755.9 L525.3,754.3 L529.2,754 L533.1,753.8 L536.4,753.6 L539.7,753.5 L543,753.3 L546.2,753 L549.5,752.7 L552.9,752.3 L556.4,752 L559.9,751.6 L563.4,751.6 L566.9,751.6 L570.4,751.6 L574,751.6 L578.1,752.2 L582.6,752.9 L587,753.5 L590.4,755.2 L593.9,756.9 L597,758.5 L600,760 L603.5,762.3 L606.5,764.3 L609.3,766.3 L612.1,766.7 L614.8,767.2 L618,767.7 L621.2,768.3 L624.9,768.6 L628,768.9 L631.1,769.3 L633,768.1 L634.8,767.1 L637.5,765.7 L640.8,763.8 L644.7,761.7 L648.6,759.5 L652.6,759 L656.9,758.6 L660.4,758.3 L664,758.5 L667.6,758.8 L671,759 L674.5,759.2 L677.9,759.6 L681.3,760 L684.8,760.5 L688.3,760.9 L692.3,761.7 L696,762.5 L699.4,763.3 L702.9,763 L706.5,762.8 L710.5,762.5 L713.9,762.5 L717.4,762.5 L721,762.5 L724.7,762.5 L728.5,763.4 L730.7,764.2 L733.7,765 L737.9,762.6 L740.3,774.4 L734.5,777 L730.7,776.2 L726.3,775.2 L723.3,774.5 L720.3,774.5 L717.4,774.5 L714.1,774.5 L710.9,774.5 L707.1,774.8 L702.9,775 L698.6,775.3 L694.2,774.4 L690.1,773.5 L686.3,772.7 L683.1,772.3 L679.9,772 L676.6,771.6 L673.3,771.2 L670.1,771 L666.8,770.7 L663.7,770.5 L660.6,770.3 L657.5,770.6 L655.1,770.8 L652.4,770.9 L649.6,772.6 L646.7,774.3 L643.3,776.3 L640.4,777.7 L636.7,779.5 L633.1,781.1 L628.4,780.9 L623.7,780.6 L619.6,780.3 L616.1,779.6 L612.6,778.9 L608.6,778.2 L604.7,777.3 L600.8,774.9 L597.2,772.5 L594,770.4 L591.2,769 L588.4,767.6 L586,766.4 L583.6,765.1 L580.1,764.6 L576.8,764.1 L573,763.6 L569.9,763.6 L566.9,763.6 L563.7,763.6 L560.5,763.6 L557.3,763.9 L554.1,764.2 L550.7,764.6 L547.3,764.9 L543.8,765.3 L540.4,765.4 L537,765.6 L533.7,765.8 L530.9,765.9 L528.1,765.9 L525.3,767.2 L522.4,768.5 L519.3,769.9 L516.1,771.4 L512.6,773 L509.1,774.5 L505.2,775.3 L501,776.1 L497.1,776.8 L493.5,776.7 L489.9,776.5 L486.7,776.4 L483.9,776.2 L481.1,776.1 L478,776.8 L474.9,777.5 L471.4,778.3 L467.7,779.2 L464.1,780 L460.2,780.4 L456.3,780.8 L452.7,781.1 L449,781.5 L445.5,781.9 L441.4,782.4 L437.1,782.8 L433,781.6 L429.3,780.5 L426.2,779.5 L423.2,779.7 L420,779.9 L416.2,780.1 L412.9,779.8 L409.7,779.4 L406.7,779.1 L403.7,778.8 L400.4,778.4 L397,778.1 L394.1,777.8 L391.2,777.5 L388.3,778.1 L385.3,778.7 L381.2,779.4 L377.1,780.1 L373.2,778.9 L369.8,777.7 L367.2,776.7 L364.2,776.8 L361.4,776.8 L358.3,776.8 L355,777.6 L351.8,778.4 L348.3,779.3 L344.9,780.1 L341.5,781 L338.6,781.7 L335.6,782.4 L333.4,783.8 L331.1,785.2 L328.4,786.8 L325.5,788.5 L322.6,790.2 L318.8,791.7 L314,793.4 L309.3,794.9 L304.6,793.4 L300,791.8 L296.5,790.4 L292.9,789.1 L289.2,787.7 L285.5,786.3 L281.8,784.5 L278.2,782.7 L274.8,781 L271.4,779.7 L268.3,778.6 L265,777.3 L262.4,777 L259.8,776.8 L257.7,776.4 L255.6,776 L253.2,777.3 L250.7,778.6 L247.5,780.2 L243.9,781.8 L240.4,783.4 L236.9,784.9 L234.4,786.3 L231.9,787.7 L228.9,789.4 L225.9,791 L222.1,792.3 L218.6,793.4 L215.3,794.4 L212.5,796 L208.8,798.1 L204.6,800.1 L200.4,799.5 L196,798.7 L192.8,798 L188.7,797 L184.6,796 L181.4,794.9 L178.3,793.9 L175,792.8 L171.7,791.7 L168.8,790.1 L165.8,788.4 L163.9,787.3 L162.1,786.1 L159.6,786.3 L157,786.5 L153.3,786.6 L149.6,786.8 L146.2,786.1 L142.8,785.4 L139.4,784.6 L136.1,783.9 L132.9,782.5 L129.5,781 Z" fill="#0fb44a" fill-opacity="0.17" stroke="none"/><path d="M132,775.5 C133,776 135,777.3 138,778.2 C141,779.1 145.9,780.5 150.1,780.8 C154.3,781.1 159.4,779.3 163.4,780.2 C167.4,781.1 170.3,784.5 174.1,786.2 C177.9,787.9 182.8,789.2 186.2,790.2 C189.5,791.2 191.3,791.5 194.2,792.2 C197.1,792.9 200.5,794.8 203.6,794.2 C206.7,793.7 209.6,790.4 212.9,788.9 C216.2,787.4 220,787.1 223.6,785.5 C227.2,783.9 230.7,781.3 234.3,779.5 C237.9,777.7 241.7,776.4 245,774.8 C248.3,773.2 250.8,770.6 254.4,770.1 C258,769.6 262.7,770.6 266.5,771.5 C270.3,772.4 273.6,774 277.2,775.5 C280.8,777 284.3,779.2 287.9,780.8 C291.5,782.3 295,783.4 298.6,784.8 C302.2,786.1 305.7,788.9 309.3,788.9 C312.9,788.9 316,786.8 320,784.8 C324,782.8 328.9,778.7 333.4,776.8 C337.9,774.9 342.8,774.5 346.8,773.5 C350.8,772.5 353.9,771.2 357.5,770.8 C361.1,770.3 364.9,770.2 368.2,770.8 C371.5,771.3 373.7,774 377.5,774.1 C381.3,774.2 386.4,771.7 390.9,771.5 C395.4,771.3 400.1,772.4 404.3,772.8 C408.5,773.2 412.5,774 416.3,774.1 C420.1,774.2 423.4,773 427,773.5 C430.6,774 434.1,776.5 437.7,776.8 C441.3,777.1 444.2,776 448.4,775.5 C452.6,775 457.8,775 463.1,774.1 C468.5,773.2 474.9,770.7 480.5,770.1 C486.1,769.5 492.1,771 496.6,770.8 C501.1,770.6 503.4,770.1 507.3,768.8 C511.2,767.5 516.8,764.5 520,763 C523.2,761.5 522.8,760.7 526.7,760.1 C530.6,759.5 537.8,759.7 543.4,759.3 C549,758.9 555.2,757.9 560.2,757.6 C565.2,757.3 569.3,757.3 573.5,757.6 C577.7,757.9 581.4,758 585.3,759.3 C589.2,760.6 593.4,763.1 597,765.2 C600.6,767.3 603.1,770.3 607,771.8 C610.9,773.3 616.2,773.7 620.4,774.3 C624.6,774.9 628.8,775.8 632.1,775.2 C635.4,774.7 637.3,772.7 640.4,771 C643.5,769.3 647.1,766.3 650.5,765.2 C653.9,764.1 656.6,764.3 660.5,764.3 C664.4,764.3 669.4,764.8 673.9,765.2 C678.4,765.6 683.1,766.1 687.3,766.8 C691.5,767.5 695.1,769 699,769.3 C702.9,769.6 706.5,768.6 710.7,768.5 C714.9,768.4 720.1,768.1 724,768.5 C727.9,768.9 731.6,771 734.1,771 C736.6,771 738.3,768.9 739.1,768.5" stroke="#0fb44a" stroke-width="6" fill="none" stroke-linejoin="round" stroke-linecap="butt"/><path d="M135.3,783.9 L137.7,785.5 L140.3,787.4 L142.3,787.9 L144.1,789.2 L146.4,786 L148.7,782.8 L153.1,782.8 L157.5,782.9 L160.3,782 L163.1,781.1 L166.2,780.2 L168.9,779.5 L171.6,778.8 L174.3,776.9 L178.4,774.5 L182.9,772.2 L187,773.5 L191.1,774.8 L192.3,773.3 L194.1,771.9 L197.3,770 L201.3,769 L205.3,768 L207.4,766.4 L210,764.7 L213.1,762.7 L217.6,761.1 L222.2,759.7 L225.6,759.2 L229,758.8 L232.8,758.5 L236.5,758.2 L241.3,759.7 L246,761.2 L249.3,762.9 L252.7,764.6 L255.9,766.2 L259.1,768 L261.8,769.6 L264.4,771.1 L266.8,771.3 L269.1,771.5 L271.6,771.9 L274,772.2 L276.9,771.4 L279.7,770.7 L283.5,769.7 L287.4,768.8 L291.4,769 L296.1,769.4 L300.3,769.7 L304.5,771.8 L308.7,773.9 L312,774.7 L315,775.4 L318.4,776.3 L321.5,776.7 L324.5,777 L327.7,777.4 L330.6,777.8 L333.4,778.2 L336.5,777.9 L339.5,777.5 L342.3,777.3 L345.1,777.1 L347.9,775.6 L350.8,774.1 L354.2,772.5 L357.5,770.8 L360.9,769.2 L364.3,767.7 L368.2,765.9 L372.2,764.2 L376.2,764.1 L380.2,764.1 L383.5,764.1 L386.9,764.1 L390.2,764.1 L393.6,764.1 L396.8,764.1 L400,764.1 L403.2,763.8 L406.4,763.5 L409.7,763.2 L413,762.8 L416.4,762.5 L419.7,762.2 L424.2,761.9 L428.7,761.7 L432.8,764.3 L436.6,766.9 L439.6,769 L442.6,770.8 L445.4,772.4 L448.3,774.1 L451.2,775 L453.2,775.8 L455.4,776.8 L457.5,776 L459.6,775.4 L462.3,774.6 L465,773.9 L468.1,772.4 L471.2,770.8 L475.3,768.8 L479.6,766.9 L484,767.5 L488.4,768.3 L491.4,768.9 L494.5,769.5 L497.6,769.5 L500.6,769.5 L503.2,769.6 L505.7,769.7 L507.4,768.4 L509.1,767.2 L511.7,765.5 L514.5,763.7 L517.3,762 L520.4,760.7 L523.6,759.4 L527.1,758 L530.5,756.7 L534.8,756.4 L539.2,756.1 L543.2,755.8 L546.6,755.8 L550.1,755.8 L553.4,755.8 L556.6,755.8 L559.9,755.6 L563.1,755.4 L566.6,755.2 L570.2,755 L573.4,755.2 L576.6,755.3 L579.6,755.5 L582.4,755.6 L585.3,755.8 L588.4,755.6 L591.6,755.4 L595.4,755.2 L599.1,755 L603.4,755.9 L607.5,756.8 L611.1,757.6 L614.3,757.7 L617.4,757.9 L620.7,758.1 L624.1,758.3 L627.4,758.5 L630.8,758.8 L633.3,759 L635.8,759.3 L638.4,757.9 L641.2,756.4 L644.6,754.6 L647.5,753.5 L651.7,752 L655.6,750.8 L658.7,752.1 L663.2,753.4 L668.4,751.7 L671.4,753.4 L675.7,755.3 L679.1,755.7 L682.6,756.1 L686.7,756.7 L690.7,757.6 L694.7,758.5 L698.6,759.3 L702.5,760.2 L706,760.9 L709.4,761.7 L712.3,761.4 L715.5,761.1 L719.1,760.8 L722.6,761.3 L726.1,761.8 L729.4,759.8 L732.1,757.9 L737.6,757.7 L740.6,769.3 L736.1,769.1 L732.1,771.4 L728.7,773.6 L723.8,773.2 L718.9,772.8 L715.9,773.1 L712.4,773.4 L708.6,773.7 L704.2,772.8 L699.9,771.9 L696,771.1 L692.1,770.2 L688.3,769.3 L684.5,768.5 L680.8,768 L676.5,767.4 L672.1,766.7 L669.7,765.2 L666,763.5 L661.2,765.2 L659,764 L655.4,762.8 L653.7,763.8 L652.3,764.5 L649.6,765.6 L646.4,767.2 L642.5,769.1 L638.4,771.1 L634.2,771 L630,770.7 L626.7,770.5 L623.3,770.3 L620,770.1 L616.6,769.9 L613,769.7 L609.5,769.4 L605.3,768.6 L601.6,767.8 L598.1,767 L595.2,767.2 L592.3,767.4 L588.8,767.6 L585.3,767.8 L582.1,767.6 L578.9,767.5 L575.9,767.3 L573.1,767.2 L570.2,767 L567.1,767.2 L563.9,767.4 L560.4,767.6 L557,767.8 L553.5,767.8 L550.1,767.8 L546.9,767.8 L543.6,767.8 L539.8,768.1 L536.4,768.3 L532.9,768.5 L530.5,769.5 L528.1,770.5 L525.4,771.6 L522.7,772.6 L520.5,774.1 L518.2,775.6 L515.6,777.3 L512.3,779.3 L508.9,781.3 L504.7,781.4 L500.6,781.5 L496.9,781.5 L493.3,781.5 L489.7,780.8 L486,780 L483.7,779.5 L481.4,778.7 L479,780.2 L476.5,781.5 L473,783.3 L469.4,785.1 L466.1,786 L462.7,786.9 L458.8,787.9 L454.8,788.8 L450.8,787.6 L446.6,786.2 L443.3,784.9 L439.9,783 L436.4,781 L433.2,779.2 L429.9,776.9 L427.5,775.1 L425.3,773.3 L423.1,773.8 L420.9,774.1 L417.5,774.4 L414.2,774.8 L410.9,775.1 L407.5,775.4 L404.1,775.8 L400.6,776.1 L397.1,776.1 L393.6,776.1 L390.2,776.1 L386.9,776.1 L383.5,776.1 L380.2,776.1 L377.5,776.1 L374.8,776 L372.1,777.3 L369.3,778.6 L366,780.1 L362.7,781.6 L359.4,783.2 L356.1,784.9 L352.3,786.7 L348.5,788.5 L344.6,789 L340.7,789.5 L337,789.8 L333.4,790.2 L329.8,789.8 L326.2,789.4 L323,789 L319.6,788.5 L316.2,788.1 L312.4,787.2 L308.3,786.1 L304.5,785.1 L300.7,783.2 L296.9,781.3 L293.9,781.2 L291.5,781 L288.4,780.8 L285.6,781.6 L282.7,782.3 L278.8,783.3 L275,784.2 L271.4,783.8 L267.8,783.5 L264.1,783 L260.4,782.5 L256.8,780.5 L253.3,778.5 L250.3,776.8 L247.2,775.3 L244.4,773.8 L241.4,772.4 L238.1,771.2 L234.9,770 L232.5,770.4 L230.3,770.8 L227.7,771.1 L225,771.3 L221.6,772.5 L218.1,773.5 L215.9,775.1 L213.1,777 L209.9,779 L205.9,780 L201.9,781 L199.7,782.6 L196.1,784.7 L191.9,786.8 L188,785.5 L184.1,784.2 L182.4,785.9 L180.1,787.5 L176.6,789.6 L173.1,790.7 L169.6,791.8 L166.5,792.7 L162.6,793.8 L158.7,794.9 L156.4,794.3 L154.1,793.6 L151.1,797.1 L148.1,800.6 L141.8,799.9 L135.7,798.4 L132.3,796.3 L128.7,793.9 Z" fill="#0ba6ff" fill-opacity="0.17" stroke="none"/><path d="M132,788.9 C133,789.6 135.7,791.9 138,792.9 C140.3,793.9 143.9,795.7 146.1,794.9 C148.3,794.1 149.4,789.2 151.4,788.2 C153.4,787.2 155.9,789.1 158.1,788.9 C160.3,788.7 162.1,787.7 164.8,786.9 C167.5,786.1 171,785.7 174.1,784.2 C177.2,782.8 180.6,778.8 183.5,778.2 C186.4,777.6 188.8,781.2 191.5,780.8 C194.2,780.3 196.9,776.7 199.6,775.5 C202.3,774.3 204.9,774.7 207.6,773.5 C210.3,772.3 212.9,769.4 215.6,768.1 C218.3,766.8 220.2,766.2 223.6,765.5 C226.9,764.8 232.3,763.9 235.7,764.1 C239,764.3 240.8,765.6 243.7,766.8 C246.6,768 250,769.8 253.1,771.5 C256.2,773.2 258.8,775.7 262.4,776.8 C266,777.9 270.2,778.5 274.5,778.2 C278.8,777.9 283.9,775.2 287.9,774.8 C291.9,774.3 295.5,774.7 298.6,775.5 C301.7,776.3 303.5,778.4 306.6,779.5 C309.7,780.6 312.8,781.4 317.3,782.2 C321.8,783 328.5,784.1 333.4,784.2 C338.3,784.3 342.4,784.1 346.8,782.8 C351.2,781.5 355.7,778.3 360.1,776.2 C364.6,774.1 369,771.1 373.5,770.1 C378,769.1 382.4,770.1 386.9,770.1 C391.4,770.1 395.9,770.3 400.3,770.1 C404.8,769.9 409.2,769.2 413.6,768.8 C418.1,768.4 423.2,766.6 427,767.5 C430.8,768.4 433.3,772.1 436.4,774.1 C439.5,776.1 442.7,778 445.8,779.5 C448.9,781 451.5,782.8 455.1,782.8 C458.7,782.8 463,781.2 467.2,779.5 C471.4,777.8 476.1,773.5 480.5,772.8 C484.9,772.1 489.4,775 493.9,775.5 C498.4,776 502.9,776.9 507.3,775.5 C511.7,774.1 515.9,769.4 520,767.3 C524.1,765.1 527.8,763.5 531.7,762.6 C535.6,761.7 539.2,761.9 543.4,761.8 C547.6,761.7 552.3,761.9 556.8,761.8 C561.3,761.7 565.5,761 570.2,761 C575,761 580.6,761.8 585.3,761.8 C590,761.8 594.4,760.7 598.6,761 C602.8,761.3 606.1,763 610.3,763.5 C614.5,764 619.2,764 623.7,764.3 C628.2,764.6 633.2,765.9 637.1,765.2 C641,764.5 644,761.5 647.1,760.1 C650.2,758.7 653,756.9 655.5,756.8 C658,756.7 660.2,759.2 662.2,759.3 C664.2,759.4 665.2,757.3 667.2,757.6 C669.2,757.9 670.8,760.2 673.9,761 C677,761.8 681.7,761.9 685.6,762.6 C689.5,763.3 693.4,764.4 697.3,765.2 C701.2,766.1 705.4,767.4 709,767.7 C712.6,768 715.9,766.8 719,766.8 C722.1,766.8 724.9,768.2 727.4,767.7 C729.9,767.2 732.1,764.2 734.1,763.5 C736.1,762.8 738.3,763.5 739.1,763.5" stroke="#0ba6ff" stroke-width="6" fill="none" stroke-linejoin="round" stroke-linecap="butt"/></g><line x1="174.5" y1="536.5" x2="174.5" y2="874.3" stroke="#000" stroke-width="2"/><path d="M532.1,559.9 V598.1 M532.1,621.9 V660.1 M532.1,683.9 V722.1 M532.1,745.9 V784.1 M532.1,807.9 V846.1" stroke="#000" stroke-width="2.2" fill="none"/><rect x="131.9" y="742.3" width="609.7" height="73.3" fill="rgb(50,170,180)" fill-opacity="0.33"/><rect x="131.9" y="747" width="609.7" height="63.8" fill="rgb(235,127,139)" fill-opacity="0.2"/><path d="M603.7,537 V561 M603.7,584.4 V622.8 M603.7,646.2 V684.6 M603.7,708 V746.4 M603.7,769.8 V808.2 M603.7,831.6 V869.3" stroke="#d95319" stroke-width="2" fill="none"/><path d="M140,778.7 H178.1 M201.9,778.7 H240 M263.8,778.7 H301.9 M325.7,778.7 H363.8 M387.6,778.7 H425.7 M449.5,778.7 H487.6 M511.4,778.7 H549.5 M573.3,778.7 H611.4 M635.2,778.7 H673.3 M697.1,778.7 H735.2" stroke="#3a4247" stroke-width="2.2" fill="none"/><line x1="747.1" y1="537" x2="747.1" y2="872.6" stroke="#d95319" stroke-width="3.4"/><rect x="832.4" y="536.5" width="355.1" height="332.6" fill="#efefef"/><clipPath id="clipBR"><rect x="789.8" y="482.3" width="611.2" height="388.5"/></clipPath><g clip-path="url(#clipBR)"><path d="M791,762.9 L795.6,763.6 L800.1,764.4 L803.5,765.5 L806.9,766.7 L809.9,767.8 L813,768.7 L815.8,769.5 L818.8,770.4 L822.3,771 L825.8,771.6 L829.4,772.3 L833,773 L835.9,773.3 L838.8,773.6 L841.5,773.9 L844.2,774.2 L847.6,773.9 L851,773.6 L855.1,773.2 L859.2,772.9 L862.8,773.6 L866.5,774.4 L869.6,775.1 L873.2,775.9 L876.2,776.7 L879,777.5 L881.6,776.7 L884.2,776 L887.5,775.2 L890.8,774.4 L894.4,773.5 L898.6,772.5 L902.8,771.5 L906.1,772.3 L909.2,773.2 L910.4,771 L912.7,768.4 L916.2,764.9 L920.7,764.1 L925.2,763.5 L928.5,763.2 L931.7,762.8 L935,762.4 L938.3,761.9 L941.8,761.3 L945.3,760.8 L948.5,760.6 L951.7,760.4 L954.8,760.2 L957.9,760 L960.9,759.9 L963.6,759.7 L966.3,759.6 L969.6,758.7 L972.4,758.1 L975.5,757.4 L978.6,754.9 L981.5,752.2 L984.7,750 L987.6,748 L990.3,746.1 L992.2,744.1 L994,742.1 L996.6,740.3 L999.3,738.6 L1002,737 L1004.6,735.3 L1007.2,733.7 L1009.8,732 L1012.4,730.4 L1015.3,728.4 L1018.2,726.4 L1022,724.8 L1025.8,723.1 L1029.3,721.6 L1032.8,720.4 L1037,718.9 L1041.2,717.5 L1045,718.1 L1048.8,718.8 L1051.2,719.3 L1053.7,719.8 L1057.2,719.3 L1061.2,718.8 L1065.6,718.3 L1069.9,719.1 L1073.6,719.8 L1076.8,720.5 L1078.9,719.5 L1080.9,718.7 L1084.9,717.3 L1088.9,716.1 L1092.9,717.3 L1096.9,718.7 L1099.9,719.8 L1102.8,720.9 L1105.7,722 L1108.7,723.1 L1111.5,724.1 L1114.3,725.2 L1117.2,726.1 L1120,726.9 L1123,727.8 L1125.2,728.5 L1127.4,729.3 L1129.5,728.6 L1131.6,728 L1134.8,727.2 L1137.9,726.5 L1141.4,726.1 L1145,725.7 L1148.1,724.6 L1151.8,723.4 L1156,722 L1159.8,722.6 L1163.6,723.2 L1166.7,723.8 L1169.8,724.4 L1173.3,725.4 L1176.5,726.3 L1179.5,727.2 L1182.9,727.1 L1186.5,727.1 L1190.5,727.1 L1193.7,727.7 L1197,728.3 L1199.8,728.8 L1202.6,729.4 L1206.2,729.7 L1209.8,730.1 L1213.7,730.5 L1217.6,730.9 L1221.3,731.9 L1225.1,733 L1228.6,734 L1232.2,735.3 L1235.8,736.5 L1239.2,737.8 L1242.5,739.2 L1245.8,740.6 L1249.4,740.8 L1252.8,741.1 L1255.7,740.2 L1259.2,739.2 L1263.4,738.1 L1267.6,738.9 L1271.5,739.7 L1274.7,740.5 L1278.4,740.7 L1282.4,740.9 L1286.7,741.2 L1290.4,742.2 L1294.3,743.3 L1297.9,744.3 L1300.9,745.5 L1304,746.6 L1306.1,747.5 L1308.2,748.5 L1311.1,747.9 L1314.2,747.4 L1318.1,746.8 L1322,746.2 L1325.9,746.2 L1329.8,746.2 L1333.9,746.2 L1338,746.3 L1341.4,747.2 L1344.8,748.3 L1347.8,749.2 L1350.6,750 L1353.5,750.9 L1356.4,751.6 L1359.2,752.3 L1362.1,753 L1365.2,753.8 L1368.2,754.5 L1371.2,755.4 L1374.2,756.4 L1377.2,757.3 L1379.4,758 L1381.6,758.8 L1383.8,758.2 L1386,757.7 L1388.9,757.1 L1391.9,756.5 L1394.8,755.9 L1397.2,767.7 L1394.3,768.3 L1391.3,768.9 L1388.4,769.5 L1384.7,770.2 L1381,770.8 L1377.3,769.8 L1373.7,768.7 L1370.7,767.8 L1367.9,767 L1365,766.1 L1362.1,765.4 L1359.3,764.7 L1356.4,764 L1353.3,763.2 L1350.3,762.5 L1347.3,761.6 L1344.3,760.6 L1341.3,759.7 L1338.9,759 L1336.4,758.1 L1333.1,758.2 L1329.8,758.2 L1326.4,758.2 L1323,758.2 L1319.5,758.7 L1316,759.3 L1311.7,759.9 L1307.2,760.5 L1303.5,759.2 L1299.7,757.9 L1296.9,756.8 L1294.1,755.7 L1290.8,754.8 L1287.8,753.9 L1284.7,753 L1281.1,752.8 L1277.3,752.6 L1273.1,752.3 L1269.4,751.5 L1266.5,750.8 L1263.8,750.1 L1261.1,751 L1257.8,752 L1253.8,753.1 L1248.4,752.7 L1243.2,752.2 L1239.1,750.6 L1235,749 L1231.6,747.8 L1228.3,746.6 L1225,745.4 L1221.6,744.5 L1218.6,743.6 L1215.4,742.7 L1212,742.4 L1208.5,742 L1204.8,741.6 L1201,741.2 L1197.9,740.8 L1194.7,740.5 L1192.1,740.3 L1189.4,740.1 L1185.9,740.5 L1182,740.8 L1177.6,741 L1173.6,740 L1169.8,739 L1166.5,738 L1163.8,737.6 L1161,737.1 L1159.3,736.7 L1157.4,736.1 L1155,737.1 L1152,738.3 L1148.1,739.6 L1144.2,740.1 L1140.3,740.5 L1137.6,741.2 L1135,741.9 L1131,742.8 L1127,743.6 L1122.9,742.6 L1118.9,741.5 L1115.9,740.7 L1112.8,739.8 L1109.7,738.9 L1106.7,737.7 L1103.6,736.6 L1100.7,735.5 L1097.7,734.4 L1094.8,733.3 L1091.8,732.3 L1090.3,731.6 L1088.9,730.6 L1087.5,731.6 L1086,732.3 L1081.7,733.8 L1077.6,735.1 L1072.6,734.4 L1068.4,733.6 L1065.1,733 L1061.9,733.5 L1058.1,734 L1053.5,734.5 L1049.8,733.9 L1046,733.3 L1044.4,732.9 L1042.7,732.3 L1040.4,733.3 L1038.1,734.3 L1034.7,735.5 L1031.4,736.9 L1028.6,738.1 L1025.7,739.3 L1023.9,740.9 L1022.1,742.4 L1019.8,744.3 L1017.4,746.3 L1015,748.1 L1012.3,749.8 L1009.6,751.5 L1006.9,753.2 L1004.3,754.9 L1001.3,756.8 L998.3,758.6 L994.6,760.1 L991.2,761.6 L988.1,763.1 L984.3,765.7 L980.5,768.2 L976.5,769.3 L972.1,770.5 L968.3,771.4 L964.9,771.6 L961.6,771.8 L958.6,772 L955.6,772.2 L952.5,772.4 L949.5,772.6 L946.5,772.8 L943.3,773.3 L940.1,773.7 L936.7,774.2 L933.3,774.8 L929.8,775.1 L926.4,775.5 L924.2,775.6 L922,775.5 L920.2,777.8 L917.1,781 L913,784.6 L908,784.1 L903.2,783.5 L900.2,784.3 L897.3,785.1 L893.8,786 L890.4,786.8 L887.1,787.7 L883,788.6 L879,789.5 L874.7,788.6 L870.5,787.6 L867,786.7 L863.9,786.1 L861.3,785.5 L858.6,784.9 L855.4,785.2 L852.1,785.5 L848.2,785.9 L844.2,786.2 L840.9,785.9 L837.5,785.5 L834.4,785.2 L831.2,784.8 L827.4,784.1 L823.7,783.5 L819.9,782.8 L816,782 L812.8,781.1 L809.4,780.1 L806.3,779.2 L803.1,778.1 L800.2,777.1 L797.3,776 L793.1,775.4 L789,774.7 Z" fill="#fd5a6a" fill-opacity="0.17" stroke="none"/><path d="M790,768.8 C791.5,769 795.7,769.4 798.7,770.2 C801.7,771 805,772.5 808.1,773.5 C811.2,774.5 813.4,775.3 817.4,776.2 C821.4,777.1 827.6,778.2 832.1,778.9 C836.6,779.6 839.7,780.2 844.2,780.2 C848.7,780.2 854.9,778.8 858.9,778.9 C862.9,779 864.9,780.1 868.3,780.9 C871.6,781.7 875,783.6 879,783.5 C883,783.4 888.3,781.2 892.3,780.2 C896.3,779.2 899.9,777.7 903,777.5 C906.1,777.3 908.4,780.1 911.1,778.9 C913.8,777.7 915.5,771.9 919.1,770.2 C922.7,768.5 928,769.4 932.5,768.8 C937,768.2 942.1,767.2 945.9,766.8 C949.7,766.4 951.6,766.4 955.2,766.2 C958.8,766 963.5,766.1 967.3,765.5 C971.1,764.9 975,764 978,762.8 C981,761.5 982.2,759.6 985,758 C987.8,756.4 990.6,755.8 994.7,753 C998.8,750.2 1005,744.8 1009.4,741.2 C1013.8,737.6 1017.5,733.9 1021.2,731.6 C1024.9,729.3 1028.1,728.6 1031.5,727.2 C1034.9,725.9 1038.1,723.7 1041.8,723.5 C1045.5,723.3 1049.7,725.7 1053.6,725.8 C1057.5,725.9 1061.5,724.2 1065.4,724.3 C1069.3,724.4 1073.2,726.9 1077.1,726.5 C1081,726.1 1085,722.1 1088.9,722.1 C1092.8,722.1 1096.8,725 1100.7,726.5 C1104.6,728 1108,729.4 1112.4,730.9 C1116.8,732.4 1122.8,735 1127.2,735.3 C1131.6,735.5 1135.7,733 1138.9,732.4 C1142.1,731.8 1143.3,732.3 1146.3,731.6 C1149.2,730.9 1152.9,728.2 1156.6,728 C1160.3,727.8 1164.7,729.4 1168.4,730.2 C1172.1,731.1 1175.1,732.6 1178.7,733.1 C1182.3,733.6 1186.2,732.7 1190,733.1 C1193.8,733.5 1197.4,734.7 1201.8,735.3 C1206.2,735.9 1212.3,736.1 1216.5,736.8 C1220.7,737.5 1223.4,738.6 1226.8,739.7 C1230.2,740.8 1234.1,742.3 1237.1,743.4 C1240,744.5 1241.8,745.8 1244.5,746.4 C1247.2,747 1250.1,747.5 1253.3,747.1 C1256.5,746.7 1260.2,744.2 1263.6,744.1 C1267,744 1270.2,745.9 1273.9,746.4 C1277.6,746.9 1282,746.5 1285.7,747.1 C1289.4,747.7 1292.3,748.8 1296,750 C1299.7,751.2 1303.3,754.1 1307.7,754.5 C1312.1,754.9 1317.6,752.6 1322.5,752.2 C1327.4,751.8 1332.3,751.5 1337.2,752.2 C1342.1,753 1347,755.4 1351.9,756.7 C1356.8,758.1 1361.7,758.9 1366.6,760.3 C1371.5,761.6 1376.4,764.5 1381.3,764.8 C1386.2,765 1393.5,762.3 1396,761.8" stroke="#fd5a6a" stroke-width="6" fill="none" stroke-linejoin="round" stroke-linecap="butt"/><path d="M789.7,771.5 L793.3,771.4 L796.8,771.2 L800.1,771.1 L803.4,770.9 L806.7,770.3 L810.3,769.6 L814.1,768.8 L817.6,768.7 L821.2,768.5 L824.3,768.4 L827.4,768.2 L830.5,767.6 L833.6,767 L837.3,766.2 L840.9,765.5 L844.5,765.5 L848.2,765.5 L851.8,765.5 L855.3,765.5 L858.9,766 L862.5,766.6 L865.8,767.1 L869,767.5 L872.3,767.9 L875.5,768.2 L878.5,768.5 L881.4,768.8 L884.4,768.3 L887.4,767.9 L891.2,767.3 L895,766.8 L898.8,767.3 L902.6,767.9 L905.1,768.3 L907.7,768.8 L910.9,767.6 L914.1,766.3 L918.1,766.4 L922.1,766.5 L925.4,766.7 L928.8,766.8 L932.1,767 L935.5,767.2 L938.6,767.3 L941.8,767.5 L945,767.3 L948.2,767.2 L951.3,767 L954.5,766.8 L957.6,766.2 L960.8,765.6 L963.8,765 L966.9,764.4 L969.5,763.4 L972,762.3 L974.9,761.1 L977.9,759.9 L980.9,758.8 L983.9,757.8 L986.8,756.7 L990.2,755.5 L993.6,754.4 L997.9,754.1 L1002.8,753.8 L1007.4,753.7 L1011.1,755.2 L1014.8,756.8 L1017.8,758.1 L1019.8,759.1 L1021.6,760.2 L1023.5,759.4 L1025.4,758.7 L1028.3,757.8 L1031.7,756.8 L1035.1,755.8 L1039.5,755.8 L1042.7,755.9 L1045.6,756.2 L1048.1,753.8 L1050.6,751.5 L1054.1,750.3 L1057.7,749.1 L1061.6,748 L1065.6,747 L1069.5,748.2 L1073.4,749.6 L1075,750.4 L1076.5,751.4 L1078.2,750 L1080.1,748.9 L1084.2,746.7 L1088.7,744.8 L1093.2,746.4 L1096.8,748.1 L1099,749.3 L1102,749.2 L1105.1,749.2 L1109.2,749.2 L1113.5,749.3 L1117,750.6 L1120.5,752 L1123.5,753.2 L1125.5,754 L1127.3,755.1 L1129.1,754.1 L1130.9,753.3 L1134,752.1 L1137.1,751 L1140.2,750.2 L1143.4,749.4 L1146.3,748.7 L1148.6,748.1 L1150.9,747.7 L1152.6,746 L1154.4,744.4 L1156.8,742.3 L1159.5,739.9 L1162.3,737.6 L1166.1,735.9 L1170.2,734.1 L1174,732.6 L1177.7,731.9 L1181.4,731.3 L1185.1,730.7 L1188.8,730.1 L1194.1,730.5 L1199.3,731.1 L1203.4,733.5 L1207.6,736 L1210.4,737.4 L1213.6,739 L1216.9,740.6 L1219.7,743.1 L1222.4,745.5 L1224.8,747.7 L1227.7,750.1 L1230.6,752.5 L1233.4,754.9 L1236.3,757 L1238.9,759 L1241.6,761 L1244.7,762.3 L1247.8,763.6 L1251.2,765.1 L1254.2,766.3 L1256.6,767.4 L1259.2,768.5 L1262.7,768.9 L1265.6,769.3 L1268.7,769.9 L1270.7,768.6 L1273,767.4 L1276.2,765.8 L1279.4,764.9 L1282.7,764.1 L1285.4,763.4 L1288.1,762.7 L1290.8,761.5 L1293.6,760.3 L1296.7,759 L1299.8,757.6 L1303.3,756.7 L1306.8,755.7 L1310.3,754.7 L1313.7,753.8 L1316.8,753.2 L1319.9,752.6 L1323.3,752 L1326.6,751.4 L1330.4,751.6 L1334.4,751.9 L1338.1,752.2 L1341.3,753 L1344.5,753.8 L1347.4,754.5 L1350.3,755.3 L1353.6,756 L1356.3,756.6 L1359,757.3 L1361.7,756.4 L1364.9,755.4 L1368.9,754.3 L1372.9,754.7 L1376.8,755.1 L1380.7,755.5 L1384.5,756.1 L1388.7,758.1 L1392.8,760.4 L1394.9,763.8 L1396.9,767.2 L1398.3,769.8 L1399.8,772.5 L1401.3,775.1 L1390.7,780.9 L1389.3,778.3 L1387.8,775.6 L1386.4,773 L1385.4,771.1 L1384.6,769.2 L1382.8,768.5 L1381.1,767.5 L1378.3,767.3 L1375.5,767 L1372.8,766.7 L1370.1,766.3 L1367.2,767.2 L1363.6,768.2 L1359.4,769.3 L1355.2,768.5 L1351,767.7 L1347.5,766.9 L1344.6,766.2 L1341.6,765.4 L1338.9,764.7 L1336.3,764 L1333.1,763.8 L1330.3,763.6 L1327.2,763.4 L1324.6,763.9 L1322.1,764.4 L1319.3,764.9 L1316.5,765.4 L1313.3,766.3 L1310.1,767.2 L1306.9,768.1 L1303.8,769 L1301.1,770.2 L1298.3,771.4 L1295.2,772.7 L1292.1,774.1 L1288.9,774.9 L1285.7,775.7 L1283.1,776.4 L1280.4,777 L1277.8,778.4 L1274.2,780.1 L1270.3,781.7 L1265.6,781.3 L1260.5,780.7 L1256.2,780.1 L1252.9,778.8 L1249.5,777.4 L1246.6,776.1 L1243.1,774.7 L1239.4,773 L1235.6,771.4 L1232.3,769 L1229,766.6 L1226,764.3 L1223,761.8 L1219.9,759.2 L1217,756.7 L1214.5,754.5 L1212.3,752.5 L1210.1,750.6 L1207.5,749.3 L1204.8,748 L1201.8,746.4 L1198.7,744.5 L1195.5,742.5 L1192.3,742.4 L1189.2,742.1 L1186.2,742.6 L1183.3,743.1 L1180.4,743.6 L1177.4,744 L1174.3,745.4 L1171.6,746.6 L1168.5,747.8 L1166.6,749.6 L1164.7,751.3 L1162.3,753.4 L1159.5,755.9 L1156.5,758.3 L1152.9,759.3 L1149.2,760.3 L1146.3,761 L1143.5,761.7 L1140.7,762.4 L1137.9,763.5 L1135.2,764.5 L1131.2,765.9 L1127.1,767.1 L1123,765.8 L1119.1,764.3 L1116.1,763.1 L1113.7,762.2 L1111.3,761.1 L1108.2,761.2 L1105.1,761.2 L1100.7,761.2 L1096.4,761.1 L1092.8,759.4 L1090.5,758.1 L1089.1,756.8 L1087.7,758.2 L1085.9,759.3 L1081.9,761.5 L1077.7,763.4 L1073.3,762.2 L1069.1,760.8 L1067.1,760 L1065.2,759 L1063.3,759.9 L1061.3,760.6 L1059,761.2 L1056.6,761.9 L1053.2,764.7 L1049.8,767.4 L1044.8,767.7 L1040.2,767.8 L1036.7,767.8 L1034.2,768.6 L1031.7,769.3 L1028.8,770.2 L1024.8,771.3 L1020.8,772.2 L1016.7,770.7 L1012.9,769 L1009.9,767.7 L1007.8,766.7 L1005.6,765.5 L1002.3,765.8 L999.3,766 L995.8,766.2 L993.3,767.1 L990.8,768 L987.9,769.1 L985,770.1 L982.1,771.1 L979.4,772.3 L976.6,773.4 L973.4,774.7 L970.3,776 L966.7,776.7 L963,777.4 L959.5,778.1 L955.9,778.8 L952.4,779 L948.8,779.1 L945.3,779.3 L941.8,779.5 L938.3,779.3 L934.8,779.1 L931.5,779 L928.2,778.8 L924.9,778.6 L921.5,778.5 L918.8,778.3 L916.1,778.1 L912.6,779.4 L909.1,780.8 L905,780.3 L900.8,779.7 L897.9,779.3 L895,778.8 L892.1,779.3 L889.2,779.7 L885.5,780.3 L881.8,780.8 L878.1,780.5 L874.4,780.1 L871,779.8 L867.6,779.5 L864.1,778.9 L860.7,778.4 L857.6,778 L854.5,777.5 L851.3,777.5 L848.2,777.5 L845.2,777.5 L842.1,777.5 L839,778.1 L836,778.7 L832.4,779.4 L828.8,780.2 L825.3,780.3 L821.7,780.5 L818.6,780.6 L815.5,780.8 L812.2,781.4 L808.6,782.1 L804.8,782.9 L801.1,783 L797.3,783.2 L793.8,783.3 L790.3,783.5 Z" fill="#0fb44a" fill-opacity="0.17" stroke="none"/><path d="M790,777.5 C792.4,777.4 800,777.4 804.1,776.9 C808.2,776.4 810.8,775.2 814.8,774.8 C818.8,774.3 823.6,774.8 828.1,774.2 C832.6,773.7 837,772 841.5,771.5 C846,771 850.4,771.2 854.9,771.5 C859.4,771.8 863.8,773 868.3,773.5 C872.8,774 877.1,774.9 881.6,774.8 C886.1,774.7 890.5,772.8 895,772.8 C899.5,772.8 905,774.9 908.4,774.8 C911.8,774.7 911.8,772.5 915.1,772.2 C918.5,771.9 924,772.6 928.5,772.8 C933,773 937.3,773.5 941.8,773.5 C946.2,773.5 950.7,773.3 955.2,772.8 C959.7,772.2 964.5,771.4 968.6,770.2 C972.7,769 975.6,767.1 980,765.5 C984.4,763.9 990.3,761.3 994.7,760.3 C999.1,759.3 1002.1,758.6 1006.5,759.6 C1010.9,760.6 1016.3,765.8 1021.2,766.2 C1026.1,766.6 1031.5,762.5 1035.9,761.8 C1040.3,761.1 1044.8,762.6 1047.7,761.8 C1050.7,760.9 1050.6,758.2 1053.6,756.7 C1056.5,755.2 1061.5,752.9 1065.4,753 C1069.3,753.1 1073.2,757.8 1077.1,757.4 C1081,757 1085.5,751.2 1088.9,750.8 C1092.3,750.4 1093.8,754.5 1097.7,755.2 C1101.6,755.9 1107.5,754.2 1112.4,755.2 C1117.3,756.2 1122.8,760.9 1127.2,761.1 C1131.6,761.4 1134.5,758.1 1138.9,756.7 C1143.3,755.4 1149.3,755.3 1153.7,753 C1158.1,750.7 1161.7,745.2 1165.4,742.7 C1169.1,740.2 1171.8,739.4 1175.7,738.3 C1179.6,737.2 1185.4,736.4 1189,736.1 C1192.6,735.9 1194.8,735.9 1197.4,736.8 C1200,737.6 1202,739.7 1204.7,741.2 C1207.4,742.7 1210.8,743.8 1213.5,745.6 C1216.2,747.4 1218.2,749.9 1220.9,752.2 C1223.6,754.5 1226.8,757.3 1229.7,759.6 C1232.7,761.9 1235.4,764.4 1238.6,766.2 C1241.8,768 1245.7,769.2 1248.9,770.6 C1252.1,772 1254.3,773.4 1257.7,774.3 C1261.1,775.2 1266.1,776.3 1269.5,775.8 C1272.9,775.3 1274.9,772.6 1278.3,771.4 C1281.7,770.2 1286.2,769.8 1290.1,768.4 C1294,767 1297.6,764.8 1301.8,763.3 C1306,761.8 1310.9,760.6 1315.1,759.6 C1319.3,758.6 1323.2,757.6 1326.9,757.4 C1330.6,757.1 1333.5,757.5 1337.2,758.1 C1340.9,758.7 1345.2,760.2 1348.9,761.1 C1352.6,762 1355.8,763.4 1359.2,763.3 C1362.6,763.2 1365.6,760.5 1369.5,760.3 C1373.4,760 1379.6,761 1382.8,761.8 C1386,762.5 1386.5,762.1 1388.7,764.8 C1390.9,767.5 1394.8,775.8 1396,778" stroke="#0fb44a" stroke-width="6" fill="none" stroke-linejoin="round" stroke-linecap="butt"/><path d="M791.6,776.4 L794.9,777.3 L797.7,778.1 L800.4,778.9 L802.9,778.4 L805.7,778 L809.1,777.5 L812.4,777.7 L815.7,777.9 L818.7,778 L821.6,778.2 L825,778.2 L828.1,778.2 L831.1,778.3 L833.8,777.3 L836.7,776.2 L840.2,775 L843.9,774.6 L847.6,774.2 L850.9,773.9 L854.1,773.5 L857.4,773.1 L860.7,772.6 L864.8,772 L868.9,771.5 L873,772.8 L876.9,774.2 L879.6,775.2 L882.2,776.2 L884.8,775.7 L887.4,775.3 L891.3,774.7 L895.2,774.2 L899,774.9 L902.9,775.7 L906.1,776.3 L909.3,777 L912.5,777.3 L915.7,777.6 L919.2,777.9 L922.7,778.3 L925.9,779 L929.1,779.7 L931.5,780.3 L933.8,780.9 L937.4,780.3 L941,779.6 L945.3,781 L949.5,782.3 L952.6,782.2 L955,782.2 L958,782.3 L960,781.2 L961.4,780.4 L963.7,779.4 L966,777 L968.3,774.7 L970.9,772.2 L973,769.5 L975.2,766.8 L977.6,763.9 L980,761.7 L982.4,759.5 L984.7,757.4 L986.8,755.3 L989,753.1 L991.7,750.5 L994.5,747.9 L997.9,746.5 L1001.4,745.2 L1005.2,743.8 L1008.8,742.6 L1013.5,743.1 L1017.6,743.5 L1021.2,744 L1024.8,743.5 L1027.8,743.2 L1031.1,742.9 L1034,741.2 L1037.2,739.3 L1040.9,737.2 L1044.7,736.1 L1049.4,734.8 L1053.8,733.7 L1057.8,735.1 L1061.7,736.6 L1064.6,737.8 L1067.9,739 L1071.5,740.3 L1075.1,741.6 L1078.6,743.4 L1081.8,744.9 L1084.8,746.5 L1088.2,747 L1091.6,747.7 L1094.4,746.8 L1097,746 L1100.4,745 L1103.9,744 L1107.6,743 L1111.3,741.9 L1114.8,741.6 L1118.4,741.3 L1120.9,740.2 L1124,738.9 L1127.6,737.5 L1131.6,737.6 L1135.6,737.8 L1139.4,738 L1143.1,738.2 L1147,739.6 L1150.3,740.8 L1153.2,741.9 L1156.6,741.8 L1160,741.8 L1163.8,741.8 L1167.6,741.6 L1171.9,741.3 L1176.3,741.1 L1180.2,742.2 L1184,743.2 L1187.2,744.1 L1190.2,744.5 L1193.1,744.8 L1196.3,745.2 L1199.6,745.6 L1203.1,746.1 L1206.6,746.6 L1210.2,747.1 L1213.7,747.8 L1216.7,748.5 L1219.6,749.2 L1222,748.7 L1224.1,748.3 L1226.9,747.9 L1231.3,746.6 L1235.7,745.5 L1240.1,746.8 L1244.9,748.5 L1248.7,749.9 L1252.3,752.4 L1255.8,754.8 L1258.7,755.4 L1261.3,755.9 L1264.6,756.6 L1268.4,757.1 L1271.8,757.5 L1275.2,758 L1278.7,757.3 L1281.6,756.7 L1285,756.2 L1288,754.4 L1291.1,752.6 L1294.6,750.6 L1298.1,748.9 L1301.8,747 L1305.5,745.2 L1309.2,744.1 L1313.1,743 L1316.7,741.9 L1320.4,741.4 L1324.4,740.9 L1328.1,740.4 L1331.8,740.6 L1336,740.9 L1339.9,741.2 L1343.7,742.6 L1347.2,743.8 L1350.3,745 L1353.5,745.4 L1356.5,745.8 L1359.8,746.2 L1363.2,746.5 L1366.7,746.8 L1370.4,747.1 L1374,747.8 L1377.8,748.6 L1381.3,749.4 L1384.5,750.4 L1388.5,751.8 L1392.2,753.3 L1395.3,756.7 L1398.2,760.2 L1400.6,763.2 L1391.4,770.8 L1388.9,767.8 L1387,765.4 L1385.2,762.9 L1383,762.5 L1381.1,761.9 L1378.3,761 L1375,760.3 L1371.9,759.6 L1368.6,758.9 L1365.4,758.7 L1362.1,758.4 L1358.6,758.2 L1355,757.7 L1351.2,757.2 L1347.5,756.6 L1343.7,755.3 L1340.4,754.1 L1337.3,753 L1334.3,752.8 L1331.6,752.6 L1328.5,752.4 L1325.4,752.8 L1322.5,753.2 L1319.3,753.7 L1316,754.6 L1313.1,755.5 L1309.9,756.4 L1306.7,758 L1303.6,759.5 L1300.2,761.2 L1296.9,763.1 L1293.1,765.3 L1289.2,767.4 L1284.8,768.3 L1279.9,769.2 L1275.6,770 L1271.2,769.5 L1266.7,768.9 L1262.6,768.4 L1259,767.7 L1254.8,766.7 L1250.8,765.8 L1246.9,763.1 L1243.1,760.5 L1240,759.4 L1237.9,758.6 L1235.5,757.5 L1232.6,758.6 L1229.7,759.5 L1226.6,760.1 L1222.7,760.7 L1219.2,761.2 L1215.2,760.4 L1211.4,759.6 L1208,758.9 L1204.7,758.4 L1201.4,757.9 L1198,757.4 L1194.9,757.1 L1191.7,756.7 L1188.2,756.3 L1184.8,755.9 L1181.2,754.9 L1178,754 L1175.1,753.1 L1171.7,753.3 L1168.2,753.6 L1164.2,753.8 L1160.2,753.8 L1155.6,753.8 L1151.2,753.7 L1147.3,752.4 L1143.7,751.1 L1140.7,750 L1137.8,749.9 L1134.9,749.7 L1132.3,749.6 L1129.6,749.3 L1127.3,750.4 L1124.6,751.6 L1121.2,752.9 L1117.4,753.3 L1113.5,753.7 L1110.4,754.6 L1107.2,755.6 L1103.8,756.6 L1100.3,757.5 L1096.1,758.7 L1092,759.7 L1086.6,758.9 L1081.2,757.9 L1077.3,756.1 L1073.6,754.2 L1070.3,752.6 L1067.1,751.5 L1063.7,750.3 L1060.2,749 L1057.2,747.7 L1055.2,746.8 L1053.4,745.7 L1051,746.6 L1048.8,747.3 L1045.7,748.2 L1042.6,750 L1038.9,752.1 L1034.9,754.3 L1030.4,754.9 L1025.5,755.5 L1021.2,756 L1016.9,755.5 L1013.2,755.1 L1010,754.6 L1007.8,755.6 L1005.7,756.4 L1003.3,757.3 L1000.9,758.1 L999.2,759.9 L997.5,761.7 L995.2,763.9 L992.9,766.2 L990.6,768.3 L988.5,770.2 L986.4,772.1 L984.3,774.7 L982.1,777.4 L979.7,780.2 L977,783 L973.9,786.1 L970.9,789 L967.8,790.6 L963.8,792.5 L960.4,794.1 L956.2,794.2 L951.5,794.2 L947.5,794.1 L943.7,792.8 L940,791.6 L936.9,792.2 L933.8,792.9 L930.1,792.2 L926.5,791.4 L923.7,790.8 L920.9,790.1 L917.7,789.8 L914.5,789.5 L911,789.2 L907.5,788.8 L904,788.1 L900.5,787.4 L897.7,786.8 L894.8,786.2 L892,786.7 L889.2,787.1 L885.1,787.7 L881,788.2 L876.9,786.9 L873,785.5 L870.3,784.5 L867.7,783.5 L865.1,784 L862.5,784.4 L859.1,784.9 L855.7,785.5 L852.2,785.8 L848.8,786.2 L845.8,786.5 L842.8,786.8 L840,787.8 L836.7,788.9 L833.1,790.1 L829,790.2 L824.9,790.2 L821.2,790.2 L818.1,790 L815.1,789.8 L812.4,789.7 L809.7,789.5 L806.9,789.9 L803.4,790.4 L799.6,790.9 L795.7,789.9 L791.8,788.9 L788.4,788 Z" fill="#0ba6ff" fill-opacity="0.17" stroke="none"/><path d="M790,782.2 C791.7,782.7 796.8,784.7 800,784.9 C803.2,785.1 805.8,783.6 809.4,783.5 C813,783.4 817.6,784.1 821.4,784.2 C825.2,784.3 828.8,784.8 832.1,784.2 C835.5,783.7 837.7,781.7 841.5,780.9 C845.3,780.1 850.4,780.1 854.9,779.5 C859.4,778.9 863.8,777 868.3,777.5 C872.8,778 877.1,781.8 881.6,782.2 C886.1,782.7 890.5,780.1 895,780.2 C899.5,780.3 903.9,782.2 908.4,782.9 C912.9,783.6 917.6,783.5 921.8,784.2 C926,784.9 930.7,786.7 933.8,786.9 C936.9,787.1 938,785.4 940.5,785.6 C943,785.8 945.4,787.8 948.5,788.2 C951.6,788.6 956.1,788.9 959.2,788.2 C962.3,787.5 964.6,786.2 967.3,784.2 C970,782.2 972.8,778.9 975.3,776.2 C977.8,773.5 979.8,770.4 982,768 C984.2,765.6 986.2,764.3 988.8,761.8 C991.4,759.3 994.3,755.2 997.7,753 C1001.1,750.8 1005.5,749.1 1009.4,748.6 C1013.3,748.1 1017.3,750 1021.2,750 C1025.1,750 1029.3,749.8 1033,748.6 C1036.7,747.4 1039.9,744.2 1043.3,742.7 C1046.7,741.2 1050.4,739.6 1053.6,739.7 C1056.8,739.8 1059.2,742.2 1062.4,743.4 C1065.6,744.6 1069.3,745.6 1072.7,747.1 C1076.1,748.6 1079.8,751.1 1083,752.2 C1086.2,753.3 1088.6,753.9 1091.8,753.7 C1095,753.5 1098.7,751.8 1102.1,750.8 C1105.5,749.8 1109.5,748.4 1112.4,747.8 C1115.4,747.2 1117.1,747.8 1119.8,747.1 C1122.5,746.4 1124.9,743.9 1128.6,743.4 C1132.3,742.9 1138,743.4 1141.9,744.1 C1145.8,744.8 1148.5,747.2 1152.2,747.8 C1155.9,748.4 1160.1,747.9 1164,747.8 C1167.9,747.7 1172,746.7 1175.7,747.1 C1179.4,747.5 1182.2,749.3 1186,750 C1189.8,750.7 1195,751 1198.8,751.5 C1202.6,752 1205.7,752.4 1209.1,753 C1212.5,753.6 1216.2,755.1 1219.4,755.2 C1222.6,755.3 1225.6,754.3 1228.3,753.7 C1231,753.1 1232.7,751.2 1235.6,751.5 C1238.5,751.8 1243,753.7 1245.9,755.2 C1248.9,756.7 1250.3,759.1 1253.3,760.3 C1256.2,761.5 1259.9,761.9 1263.6,762.5 C1267.3,763.1 1271.5,764.1 1275.4,764 C1279.3,763.9 1283.4,763.1 1287.1,761.8 C1290.8,760.4 1294,757.7 1297.4,755.9 C1300.8,754.1 1304.3,752.1 1307.7,750.8 C1311.1,749.4 1314.6,748.5 1318,747.8 C1321.4,747.1 1324.9,746.5 1328.3,746.4 C1331.7,746.3 1335.2,746.4 1338.6,747.1 C1342,747.8 1345.5,749.9 1348.9,750.8 C1352.3,751.6 1355.8,751.8 1359.2,752.2 C1362.6,752.6 1366.1,752.5 1369.5,753 C1372.9,753.5 1376.6,754.4 1379.8,755.2 C1383,756.1 1386,756.1 1388.7,758.1 C1391.4,760.1 1394.8,765.5 1396,767" stroke="#0ba6ff" stroke-width="6" fill="none" stroke-linejoin="round" stroke-linecap="butt"/></g><line x1="832.4" y1="536.5" x2="832.4" y2="874.3" stroke="#000" stroke-width="2"/><path d="M1187.5,559.9 V598.1 M1187.5,621.9 V660.1 M1187.5,683.9 V722.1 M1187.5,745.9 V784.1 M1187.5,807.9 V846.1" stroke="#000" stroke-width="2.2" fill="none"/><rect x="789.8" y="749.5" width="605.5" height="59.5" fill="rgb(50,170,180)" fill-opacity="0.33"/><rect x="789.8" y="757" width="605.5" height="43.7" fill="rgb(235,127,139)" fill-opacity="0.2"/><path d="M1258.5,537 V561 M1258.5,584.4 V622.8 M1258.5,646.2 V684.6 M1258.5,708 V746.4 M1258.5,769.8 V808.2 M1258.5,831.6 V869.3" stroke="#d95319" stroke-width="2" fill="none"/><path d="M792,778.7 H830.1 M853.9,778.7 H892 M915.8,778.7 H953.9 M977.7,778.7 H1015.8 M1039.6,778.7 H1077.7 M1101.5,778.7 H1139.6 M1163.4,778.7 H1201.5 M1225.3,778.7 H1263.4 M1287.2,778.7 H1325.3 M1349.1,778.7 H1387.2" stroke="#3a4247" stroke-width="2.2" fill="none"/><line x1="1401" y1="482.3" x2="1401" y2="872.6" stroke="#d95319" stroke-width="3.4"/><circle cx="300.4" cy="405.5" r="5.6" fill="#fd5a6a"/><circle cx="306.1" cy="405.5" r="5.6" fill="#fd5a6a"/><circle cx="311.8" cy="405.5" r="5.6" fill="#fd5a6a"/><circle cx="317.5" cy="405.5" r="5.6" fill="#fd5a6a"/><circle cx="323.2" cy="405.5" r="5.6" fill="#fd5a6a"/><circle cx="329" cy="405.5" r="5.6" fill="#fd5a6a"/><circle cx="334.7" cy="405.5" r="5.6" fill="#fd5a6a"/><circle cx="340.4" cy="405.5" r="5.6" fill="#fd5a6a"/><circle cx="346.1" cy="405.5" r="5.6" fill="#fd5a6a"/><circle cx="351.8" cy="405.5" r="5.6" fill="#fd5a6a"/><circle cx="357.5" cy="405.5" r="5.6" fill="#fd5a6a"/><circle cx="363.2" cy="405.5" r="5.6" fill="#fd5a6a"/><circle cx="368.9" cy="405.5" r="5.6" fill="#fd5a6a"/><circle cx="374.7" cy="405.5" r="5.6" fill="#fd5a6a"/><circle cx="380.4" cy="405.5" r="5.6" fill="#fd5a6a"/><circle cx="386.1" cy="405.5" r="5.6" fill="#fd5a6a"/><circle cx="391.8" cy="405.5" r="5.6" fill="#fd5a6a"/><circle cx="397.5" cy="405.5" r="5.6" fill="#fd5a6a"/><circle cx="403.2" cy="405.5" r="5.6" fill="#fd5a6a"/><circle cx="408.9" cy="405.5" r="5.6" fill="#fd5a6a"/><circle cx="414.6" cy="405.5" r="5.6" fill="#fd5a6a"/><circle cx="420.3" cy="405.5" r="5.6" fill="#fd5a6a"/><circle cx="426.1" cy="405.5" r="5.6" fill="#fd5a6a"/><circle cx="431.8" cy="405.5" r="5.6" fill="#fd5a6a"/><circle cx="437.5" cy="405.5" r="5.6" fill="#fd5a6a"/><circle cx="443.2" cy="405.5" r="5.6" fill="#fd5a6a"/><circle cx="448.9" cy="405.5" r="5.6" fill="#fd5a6a"/><circle cx="454.6" cy="405.5" r="5.6" fill="#fd5a6a"/><circle cx="460.3" cy="405.5" r="5.6" fill="#fd5a6a"/><circle cx="466" cy="405.5" r="5.6" fill="#fd5a6a"/><circle cx="471.8" cy="405.5" r="5.6" fill="#fd5a6a"/><circle cx="477.5" cy="405.5" r="5.6" fill="#fd5a6a"/><circle cx="483.2" cy="405.5" r="5.6" fill="#fd5a6a"/><circle cx="488.9" cy="405.5" r="5.6" fill="#fd5a6a"/><circle cx="494.6" cy="405.5" r="5.6" fill="#fd5a6a"/><circle cx="500.3" cy="405.5" r="5.6" fill="#fd5a6a"/><circle cx="506" cy="405.5" r="5.6" fill="#fd5a6a"/><circle cx="511.7" cy="405.5" r="5.6" fill="#fd5a6a"/><circle cx="517.5" cy="405.5" r="5.6" fill="#fd5a6a"/><circle cx="523.2" cy="405.5" r="5.6" fill="#fd5a6a"/><circle cx="528.9" cy="405.5" r="5.6" fill="#fd5a6a"/><circle cx="534.6" cy="405.5" r="5.6" fill="#fd5a6a"/><circle cx="540.3" cy="405.5" r="5.6" fill="#fd5a6a"/><circle cx="546" cy="405.5" r="5.6" fill="#fd5a6a"/><circle cx="551.7" cy="405.5" r="5.6" fill="#fd5a6a"/><circle cx="557.4" cy="405.5" r="5.6" fill="#fd5a6a"/><circle cx="563.1" cy="405.5" r="5.6" fill="#fd5a6a"/><circle cx="568.9" cy="405.5" r="5.6" fill="#fd5a6a"/><circle cx="574.6" cy="405.5" r="5.6" fill="#fd5a6a"/><circle cx="580.3" cy="405.5" r="5.6" fill="#fd5a6a"/><circle cx="586" cy="405.5" r="5.6" fill="#fd5a6a"/><circle cx="591.7" cy="405.5" r="5.6" fill="#fd5a6a"/><circle cx="597.4" cy="405.5" r="5.6" fill="#fd5a6a"/><circle cx="603.1" cy="405.5" r="5.6" fill="#fd5a6a"/><circle cx="608.8" cy="405.5" r="5.6" fill="#fd5a6a"/><circle cx="614.6" cy="405.5" r="5.6" fill="#fd5a6a"/><circle cx="620.3" cy="405.5" r="5.6" fill="#fd5a6a"/><circle cx="626" cy="405.5" r="5.6" fill="#fd5a6a"/><circle cx="631.7" cy="405.5" r="5.6" fill="#fd5a6a"/><circle cx="637.4" cy="405.5" r="5.6" fill="#fd5a6a"/><circle cx="649.6" cy="405.5" r="5.6" fill="#fd5a6a"/><circle cx="701" cy="405.5" r="5.6" fill="#fd5a6a"/><circle cx="725.3" cy="405.5" r="5.6" fill="#fd5a6a"/><circle cx="730.2" cy="405.5" r="5.6" fill="#fd5a6a"/><circle cx="735.2" cy="405.5" r="5.6" fill="#fd5a6a"/><circle cx="306.2" cy="414.6" r="5.6" fill="#0fb44a"/><circle cx="311.9" cy="414.6" r="5.6" fill="#0fb44a"/><circle cx="317.6" cy="414.6" r="5.6" fill="#0fb44a"/><circle cx="323.3" cy="414.6" r="5.6" fill="#0fb44a"/><circle cx="329" cy="414.6" r="5.6" fill="#0fb44a"/><circle cx="334.7" cy="414.6" r="5.6" fill="#0fb44a"/><circle cx="340.4" cy="414.6" r="5.6" fill="#0fb44a"/><circle cx="346.1" cy="414.6" r="5.6" fill="#0fb44a"/><circle cx="351.8" cy="414.6" r="5.6" fill="#0fb44a"/><circle cx="357.5" cy="414.6" r="5.6" fill="#0fb44a"/><circle cx="363.2" cy="414.6" r="5.6" fill="#0fb44a"/><circle cx="368.9" cy="414.6" r="5.6" fill="#0fb44a"/><circle cx="374.6" cy="414.6" r="5.6" fill="#0fb44a"/><circle cx="380.3" cy="414.6" r="5.6" fill="#0fb44a"/><circle cx="386" cy="414.6" r="5.6" fill="#0fb44a"/><circle cx="391.7" cy="414.6" r="5.6" fill="#0fb44a"/><circle cx="397.4" cy="414.6" r="5.6" fill="#0fb44a"/><circle cx="403.1" cy="414.6" r="5.6" fill="#0fb44a"/><circle cx="408.8" cy="414.6" r="5.6" fill="#0fb44a"/><circle cx="414.5" cy="414.6" r="5.6" fill="#0fb44a"/><circle cx="420.2" cy="414.6" r="5.6" fill="#0fb44a"/><circle cx="425.9" cy="414.6" r="5.6" fill="#0fb44a"/><circle cx="431.6" cy="414.6" r="5.6" fill="#0fb44a"/><circle cx="437.3" cy="414.6" r="5.6" fill="#0fb44a"/><circle cx="442.9" cy="414.6" r="5.6" fill="#0fb44a"/><circle cx="448.6" cy="414.6" r="5.6" fill="#0fb44a"/><circle cx="454.3" cy="414.6" r="5.6" fill="#0fb44a"/><circle cx="460" cy="414.6" r="5.6" fill="#0fb44a"/><circle cx="465.7" cy="414.6" r="5.6" fill="#0fb44a"/><circle cx="471.4" cy="414.6" r="5.6" fill="#0fb44a"/><circle cx="477.1" cy="414.6" r="5.6" fill="#0fb44a"/><circle cx="482.8" cy="414.6" r="5.6" fill="#0fb44a"/><circle cx="488.5" cy="414.6" r="5.6" fill="#0fb44a"/><circle cx="494.2" cy="414.6" r="5.6" fill="#0fb44a"/><circle cx="499.9" cy="414.6" r="5.6" fill="#0fb44a"/><circle cx="505.6" cy="414.6" r="5.6" fill="#0fb44a"/><circle cx="511.3" cy="414.6" r="5.6" fill="#0fb44a"/><circle cx="517" cy="414.6" r="5.6" fill="#0fb44a"/><circle cx="522.7" cy="414.6" r="5.6" fill="#0fb44a"/><circle cx="528.4" cy="414.6" r="5.6" fill="#0fb44a"/><circle cx="534.1" cy="414.6" r="5.6" fill="#0fb44a"/><circle cx="539.8" cy="414.6" r="5.6" fill="#0fb44a"/><circle cx="545.5" cy="414.6" r="5.6" fill="#0fb44a"/><circle cx="551.2" cy="414.6" r="5.6" fill="#0fb44a"/><circle cx="556.9" cy="414.6" r="5.6" fill="#0fb44a"/><circle cx="562.6" cy="414.6" r="5.6" fill="#0fb44a"/><circle cx="568.3" cy="414.6" r="5.6" fill="#0fb44a"/><circle cx="574" cy="414.6" r="5.6" fill="#0fb44a"/><circle cx="588.2" cy="414.6" r="5.6" fill="#0fb44a"/><circle cx="593.5" cy="414.6" r="5.6" fill="#0fb44a"/><circle cx="598.8" cy="414.6" r="5.6" fill="#0fb44a"/><circle cx="604.2" cy="414.6" r="5.6" fill="#0fb44a"/><circle cx="609.5" cy="414.6" r="5.6" fill="#0fb44a"/><circle cx="614.8" cy="414.6" r="5.6" fill="#0fb44a"/><circle cx="628.2" cy="414.6" r="5.6" fill="#0fb44a"/><circle cx="633.6" cy="414.6" r="5.6" fill="#0fb44a"/><circle cx="638.9" cy="414.6" r="5.6" fill="#0fb44a"/><circle cx="644.3" cy="414.6" r="5.6" fill="#0fb44a"/><circle cx="649.6" cy="414.6" r="5.6" fill="#0fb44a"/><circle cx="655" cy="414.6" r="5.6" fill="#0fb44a"/><circle cx="673.5" cy="414.6" r="5.6" fill="#0fb44a"/><circle cx="678.7" cy="414.6" r="5.6" fill="#0fb44a"/><circle cx="683.9" cy="414.6" r="5.6" fill="#0fb44a"/><circle cx="689.1" cy="414.6" r="5.6" fill="#0fb44a"/><circle cx="707.6" cy="414.6" r="5.6" fill="#0fb44a"/><circle cx="712.9" cy="414.6" r="5.6" fill="#0fb44a"/><circle cx="718.2" cy="414.6" r="5.6" fill="#0fb44a"/><circle cx="741.2" cy="414.6" r="5.6" fill="#0fb44a"/><circle cx="300.4" cy="424" r="5.6" fill="#0ba6ff"/><circle cx="306.1" cy="424" r="5.6" fill="#0ba6ff"/><circle cx="311.8" cy="424" r="5.6" fill="#0ba6ff"/><circle cx="317.6" cy="424" r="5.6" fill="#0ba6ff"/><circle cx="323.3" cy="424" r="5.6" fill="#0ba6ff"/><circle cx="329" cy="424" r="5.6" fill="#0ba6ff"/><circle cx="334.7" cy="424" r="5.6" fill="#0ba6ff"/><circle cx="340.4" cy="424" r="5.6" fill="#0ba6ff"/><circle cx="346.1" cy="424" r="5.6" fill="#0ba6ff"/><circle cx="351.9" cy="424" r="5.6" fill="#0ba6ff"/><circle cx="357.6" cy="424" r="5.6" fill="#0ba6ff"/><circle cx="363.3" cy="424" r="5.6" fill="#0ba6ff"/><circle cx="369" cy="424" r="5.6" fill="#0ba6ff"/><circle cx="374.7" cy="424" r="5.6" fill="#0ba6ff"/><circle cx="380.4" cy="424" r="5.6" fill="#0ba6ff"/><circle cx="386.2" cy="424" r="5.6" fill="#0ba6ff"/><circle cx="391.9" cy="424" r="5.6" fill="#0ba6ff"/><circle cx="397.6" cy="424" r="5.6" fill="#0ba6ff"/><circle cx="403.3" cy="424" r="5.6" fill="#0ba6ff"/><circle cx="409" cy="424" r="5.6" fill="#0ba6ff"/><circle cx="414.7" cy="424" r="5.6" fill="#0ba6ff"/><circle cx="420.5" cy="424" r="5.6" fill="#0ba6ff"/><circle cx="426.2" cy="424" r="5.6" fill="#0ba6ff"/><circle cx="431.9" cy="424" r="5.6" fill="#0ba6ff"/><circle cx="437.6" cy="424" r="5.6" fill="#0ba6ff"/><circle cx="443.3" cy="424" r="5.6" fill="#0ba6ff"/><circle cx="449" cy="424" r="5.6" fill="#0ba6ff"/><circle cx="454.8" cy="424" r="5.6" fill="#0ba6ff"/><circle cx="460.5" cy="424" r="5.6" fill="#0ba6ff"/><circle cx="466.2" cy="424" r="5.6" fill="#0ba6ff"/><circle cx="471.9" cy="424" r="5.6" fill="#0ba6ff"/><circle cx="477.6" cy="424" r="5.6" fill="#0ba6ff"/><circle cx="483.3" cy="424" r="5.6" fill="#0ba6ff"/><circle cx="489.1" cy="424" r="5.6" fill="#0ba6ff"/><circle cx="494.8" cy="424" r="5.6" fill="#0ba6ff"/><circle cx="500.5" cy="424" r="5.6" fill="#0ba6ff"/><circle cx="506.2" cy="424" r="5.6" fill="#0ba6ff"/><circle cx="511.9" cy="424" r="5.6" fill="#0ba6ff"/><circle cx="517.7" cy="424" r="5.6" fill="#0ba6ff"/><circle cx="523.4" cy="424" r="5.6" fill="#0ba6ff"/><circle cx="529.1" cy="424" r="5.6" fill="#0ba6ff"/><circle cx="534.8" cy="424" r="5.6" fill="#0ba6ff"/><circle cx="540.5" cy="424" r="5.6" fill="#0ba6ff"/><circle cx="546.2" cy="424" r="5.6" fill="#0ba6ff"/><circle cx="552" cy="424" r="5.6" fill="#0ba6ff"/><circle cx="557.7" cy="424" r="5.6" fill="#0ba6ff"/><circle cx="563.4" cy="424" r="5.6" fill="#0ba6ff"/><circle cx="569.1" cy="424" r="5.6" fill="#0ba6ff"/><circle cx="574.8" cy="424" r="5.6" fill="#0ba6ff"/><circle cx="580.5" cy="424" r="5.6" fill="#0ba6ff"/><circle cx="586.3" cy="424" r="5.6" fill="#0ba6ff"/><circle cx="592" cy="424" r="5.6" fill="#0ba6ff"/><circle cx="597.7" cy="424" r="5.6" fill="#0ba6ff"/><circle cx="603.4" cy="424" r="5.6" fill="#0ba6ff"/><circle cx="609.1" cy="424" r="5.6" fill="#0ba6ff"/><circle cx="614.8" cy="424" r="5.6" fill="#0ba6ff"/><circle cx="620.6" cy="424" r="5.6" fill="#0ba6ff"/><circle cx="626.3" cy="424" r="5.6" fill="#0ba6ff"/><circle cx="632" cy="424" r="5.6" fill="#0ba6ff"/><circle cx="637.7" cy="424" r="5.6" fill="#0ba6ff"/><circle cx="643.4" cy="424" r="5.6" fill="#0ba6ff"/><circle cx="649.1" cy="424" r="5.6" fill="#0ba6ff"/><circle cx="654.9" cy="424" r="5.6" fill="#0ba6ff"/><circle cx="660.6" cy="424" r="5.6" fill="#0ba6ff"/><circle cx="666.3" cy="424" r="5.6" fill="#0ba6ff"/><circle cx="680" cy="424" r="5.6" fill="#0ba6ff"/><circle cx="685.2" cy="424" r="5.6" fill="#0ba6ff"/><circle cx="690.5" cy="424" r="5.6" fill="#0ba6ff"/><circle cx="695.7" cy="424" r="5.6" fill="#0ba6ff"/><circle cx="701" cy="424" r="5.6" fill="#0ba6ff"/><circle cx="706.2" cy="424" r="5.6" fill="#0ba6ff"/><circle cx="724.2" cy="424" r="5.6" fill="#0ba6ff"/><circle cx="923.8" cy="405.5" r="5.6" fill="#fd5a6a"/><circle cx="929.5" cy="405.5" r="5.6" fill="#fd5a6a"/><circle cx="935.3" cy="405.5" r="5.6" fill="#fd5a6a"/><circle cx="941" cy="405.5" r="5.6" fill="#fd5a6a"/><circle cx="946.8" cy="405.5" r="5.6" fill="#fd5a6a"/><circle cx="952.5" cy="405.5" r="5.6" fill="#fd5a6a"/><circle cx="958.3" cy="405.5" r="5.6" fill="#fd5a6a"/><circle cx="964" cy="405.5" r="5.6" fill="#fd5a6a"/><circle cx="969.8" cy="405.5" r="5.6" fill="#fd5a6a"/><circle cx="975.5" cy="405.5" r="5.6" fill="#fd5a6a"/><circle cx="981.3" cy="405.5" r="5.6" fill="#fd5a6a"/><circle cx="987" cy="405.5" r="5.6" fill="#fd5a6a"/><circle cx="992.8" cy="405.5" r="5.6" fill="#fd5a6a"/><circle cx="998.5" cy="405.5" r="5.6" fill="#fd5a6a"/><circle cx="1004.3" cy="405.5" r="5.6" fill="#fd5a6a"/><circle cx="1010" cy="405.5" r="5.6" fill="#fd5a6a"/><circle cx="1015.8" cy="405.5" r="5.6" fill="#fd5a6a"/><circle cx="1021.5" cy="405.5" r="5.6" fill="#fd5a6a"/><circle cx="1027.3" cy="405.5" r="5.6" fill="#fd5a6a"/><circle cx="1033" cy="405.5" r="5.6" fill="#fd5a6a"/><circle cx="1038.8" cy="405.5" r="5.6" fill="#fd5a6a"/><circle cx="1044.5" cy="405.5" r="5.6" fill="#fd5a6a"/><circle cx="1050.3" cy="405.5" r="5.6" fill="#fd5a6a"/><circle cx="1056" cy="405.5" r="5.6" fill="#fd5a6a"/><circle cx="1061.8" cy="405.5" r="5.6" fill="#fd5a6a"/><circle cx="1067.5" cy="405.5" r="5.6" fill="#fd5a6a"/><circle cx="1073.3" cy="405.5" r="5.6" fill="#fd5a6a"/><circle cx="1079" cy="405.5" r="5.6" fill="#fd5a6a"/><circle cx="1084.8" cy="405.5" r="5.6" fill="#fd5a6a"/><circle cx="1090.5" cy="405.5" r="5.6" fill="#fd5a6a"/><circle cx="1096.3" cy="405.5" r="5.6" fill="#fd5a6a"/><circle cx="1102" cy="405.5" r="5.6" fill="#fd5a6a"/><circle cx="1107.8" cy="405.5" r="5.6" fill="#fd5a6a"/><circle cx="1113.5" cy="405.5" r="5.6" fill="#fd5a6a"/><circle cx="1119.3" cy="405.5" r="5.6" fill="#fd5a6a"/><circle cx="1125" cy="405.5" r="5.6" fill="#fd5a6a"/><circle cx="1130.8" cy="405.5" r="5.6" fill="#fd5a6a"/><circle cx="1136.5" cy="405.5" r="5.6" fill="#fd5a6a"/><circle cx="1142.3" cy="405.5" r="5.6" fill="#fd5a6a"/><circle cx="1148" cy="405.5" r="5.6" fill="#fd5a6a"/><circle cx="1153.8" cy="405.5" r="5.6" fill="#fd5a6a"/><circle cx="1159.5" cy="405.5" r="5.6" fill="#fd5a6a"/><circle cx="1165.3" cy="405.5" r="5.6" fill="#fd5a6a"/><circle cx="1171" cy="405.5" r="5.6" fill="#fd5a6a"/><circle cx="1176.8" cy="405.5" r="5.6" fill="#fd5a6a"/><circle cx="1182.5" cy="405.5" r="5.6" fill="#fd5a6a"/><circle cx="1188.3" cy="405.5" r="5.6" fill="#fd5a6a"/><circle cx="1194" cy="405.5" r="5.6" fill="#fd5a6a"/><circle cx="1199.8" cy="405.5" r="5.6" fill="#fd5a6a"/><circle cx="1205.5" cy="405.5" r="5.6" fill="#fd5a6a"/><circle cx="1211.3" cy="405.5" r="5.6" fill="#fd5a6a"/><circle cx="1217" cy="405.5" r="5.6" fill="#fd5a6a"/><circle cx="1222.8" cy="405.5" r="5.6" fill="#fd5a6a"/><circle cx="1228.5" cy="405.5" r="5.6" fill="#fd5a6a"/><circle cx="1234.3" cy="405.5" r="5.6" fill="#fd5a6a"/><circle cx="1240" cy="405.5" r="5.6" fill="#fd5a6a"/><circle cx="1245.8" cy="405.5" r="5.6" fill="#fd5a6a"/><circle cx="1251.5" cy="405.5" r="5.6" fill="#fd5a6a"/><circle cx="1257.3" cy="405.5" r="5.6" fill="#fd5a6a"/><circle cx="1263" cy="405.5" r="5.6" fill="#fd5a6a"/><circle cx="1268.8" cy="405.5" r="5.6" fill="#fd5a6a"/><circle cx="1274.5" cy="405.5" r="5.6" fill="#fd5a6a"/><circle cx="1280.3" cy="405.5" r="5.6" fill="#fd5a6a"/><circle cx="1286" cy="405.5" r="5.6" fill="#fd5a6a"/><circle cx="1291.8" cy="405.5" r="5.6" fill="#fd5a6a"/><circle cx="1297.5" cy="405.5" r="5.6" fill="#fd5a6a"/><circle cx="1303.3" cy="405.5" r="5.6" fill="#fd5a6a"/><circle cx="1309" cy="405.5" r="5.6" fill="#fd5a6a"/><circle cx="1314.8" cy="405.5" r="5.6" fill="#fd5a6a"/><circle cx="1320.5" cy="405.5" r="5.6" fill="#fd5a6a"/><circle cx="1326.3" cy="405.5" r="5.6" fill="#fd5a6a"/><circle cx="1332" cy="405.5" r="5.6" fill="#fd5a6a"/><circle cx="1337.8" cy="405.5" r="5.6" fill="#fd5a6a"/><circle cx="1343.5" cy="405.5" r="5.6" fill="#fd5a6a"/><circle cx="1349.3" cy="405.5" r="5.6" fill="#fd5a6a"/><circle cx="1355" cy="405.5" r="5.6" fill="#fd5a6a"/><circle cx="1360.8" cy="405.5" r="5.6" fill="#fd5a6a"/><circle cx="1366.5" cy="405.5" r="5.6" fill="#fd5a6a"/><circle cx="1372.3" cy="405.5" r="5.6" fill="#fd5a6a"/><circle cx="1378" cy="405.5" r="5.6" fill="#fd5a6a"/><circle cx="1383.8" cy="405.5" r="5.6" fill="#fd5a6a"/><circle cx="1389.5" cy="405.5" r="5.6" fill="#fd5a6a"/><circle cx="923.8" cy="414.6" r="5.6" fill="#0fb44a"/><circle cx="929.5" cy="414.6" r="5.6" fill="#0fb44a"/><circle cx="935.3" cy="414.6" r="5.6" fill="#0fb44a"/><circle cx="941" cy="414.6" r="5.6" fill="#0fb44a"/><circle cx="946.8" cy="414.6" r="5.6" fill="#0fb44a"/><circle cx="952.5" cy="414.6" r="5.6" fill="#0fb44a"/><circle cx="958.3" cy="414.6" r="5.6" fill="#0fb44a"/><circle cx="964" cy="414.6" r="5.6" fill="#0fb44a"/><circle cx="969.8" cy="414.6" r="5.6" fill="#0fb44a"/><circle cx="975.5" cy="414.6" r="5.6" fill="#0fb44a"/><circle cx="981.3" cy="414.6" r="5.6" fill="#0fb44a"/><circle cx="987" cy="414.6" r="5.6" fill="#0fb44a"/><circle cx="992.8" cy="414.6" r="5.6" fill="#0fb44a"/><circle cx="998.5" cy="414.6" r="5.6" fill="#0fb44a"/><circle cx="1004.3" cy="414.6" r="5.6" fill="#0fb44a"/><circle cx="1010" cy="414.6" r="5.6" fill="#0fb44a"/><circle cx="1015.8" cy="414.6" r="5.6" fill="#0fb44a"/><circle cx="1021.5" cy="414.6" r="5.6" fill="#0fb44a"/><circle cx="1027.3" cy="414.6" r="5.6" fill="#0fb44a"/><circle cx="1033" cy="414.6" r="5.6" fill="#0fb44a"/><circle cx="1038.8" cy="414.6" r="5.6" fill="#0fb44a"/><circle cx="1044.5" cy="414.6" r="5.6" fill="#0fb44a"/><circle cx="1050.3" cy="414.6" r="5.6" fill="#0fb44a"/><circle cx="1056" cy="414.6" r="5.6" fill="#0fb44a"/><circle cx="1061.8" cy="414.6" r="5.6" fill="#0fb44a"/><circle cx="1067.5" cy="414.6" r="5.6" fill="#0fb44a"/><circle cx="1073.3" cy="414.6" r="5.6" fill="#0fb44a"/><circle cx="1079" cy="414.6" r="5.6" fill="#0fb44a"/><circle cx="1084.8" cy="414.6" r="5.6" fill="#0fb44a"/><circle cx="1090.5" cy="414.6" r="5.6" fill="#0fb44a"/><circle cx="1096.3" cy="414.6" r="5.6" fill="#0fb44a"/><circle cx="1102" cy="414.6" r="5.6" fill="#0fb44a"/><circle cx="1107.8" cy="414.6" r="5.6" fill="#0fb44a"/><circle cx="1113.5" cy="414.6" r="5.6" fill="#0fb44a"/><circle cx="1119.3" cy="414.6" r="5.6" fill="#0fb44a"/><circle cx="1125" cy="414.6" r="5.6" fill="#0fb44a"/><circle cx="1130.8" cy="414.6" r="5.6" fill="#0fb44a"/><circle cx="1136.5" cy="414.6" r="5.6" fill="#0fb44a"/><circle cx="1142.3" cy="414.6" r="5.6" fill="#0fb44a"/><circle cx="1148" cy="414.6" r="5.6" fill="#0fb44a"/><circle cx="1153.8" cy="414.6" r="5.6" fill="#0fb44a"/><circle cx="1159.5" cy="414.6" r="5.6" fill="#0fb44a"/><circle cx="1165.3" cy="414.6" r="5.6" fill="#0fb44a"/><circle cx="1171" cy="414.6" r="5.6" fill="#0fb44a"/><circle cx="1176.8" cy="414.6" r="5.6" fill="#0fb44a"/><circle cx="1182.5" cy="414.6" r="5.6" fill="#0fb44a"/><circle cx="1188.3" cy="414.6" r="5.6" fill="#0fb44a"/><circle cx="1194" cy="414.6" r="5.6" fill="#0fb44a"/><circle cx="1199.8" cy="414.6" r="5.6" fill="#0fb44a"/><circle cx="1205.5" cy="414.6" r="5.6" fill="#0fb44a"/><circle cx="1211.3" cy="414.6" r="5.6" fill="#0fb44a"/><circle cx="1217" cy="414.6" r="5.6" fill="#0fb44a"/><circle cx="1222.8" cy="414.6" r="5.6" fill="#0fb44a"/><circle cx="1228.5" cy="414.6" r="5.6" fill="#0fb44a"/><circle cx="1234.3" cy="414.6" r="5.6" fill="#0fb44a"/><circle cx="1240" cy="414.6" r="5.6" fill="#0fb44a"/><circle cx="1245.8" cy="414.6" r="5.6" fill="#0fb44a"/><circle cx="1251.5" cy="414.6" r="5.6" fill="#0fb44a"/><circle cx="1257.3" cy="414.6" r="5.6" fill="#0fb44a"/><circle cx="1263" cy="414.6" r="5.6" fill="#0fb44a"/><circle cx="1268.8" cy="414.6" r="5.6" fill="#0fb44a"/><circle cx="1274.5" cy="414.6" r="5.6" fill="#0fb44a"/><circle cx="1280.3" cy="414.6" r="5.6" fill="#0fb44a"/><circle cx="1286" cy="414.6" r="5.6" fill="#0fb44a"/><circle cx="1291.8" cy="414.6" r="5.6" fill="#0fb44a"/><circle cx="1297.5" cy="414.6" r="5.6" fill="#0fb44a"/><circle cx="1303.3" cy="414.6" r="5.6" fill="#0fb44a"/><circle cx="1309" cy="414.6" r="5.6" fill="#0fb44a"/><circle cx="1314.8" cy="414.6" r="5.6" fill="#0fb44a"/><circle cx="1320.5" cy="414.6" r="5.6" fill="#0fb44a"/><circle cx="1326.3" cy="414.6" r="5.6" fill="#0fb44a"/><circle cx="1332" cy="414.6" r="5.6" fill="#0fb44a"/><circle cx="1337.8" cy="414.6" r="5.6" fill="#0fb44a"/><circle cx="1343.5" cy="414.6" r="5.6" fill="#0fb44a"/><circle cx="1349.3" cy="414.6" r="5.6" fill="#0fb44a"/><circle cx="1355" cy="414.6" r="5.6" fill="#0fb44a"/><circle cx="1360.8" cy="414.6" r="5.6" fill="#0fb44a"/><circle cx="1366.5" cy="414.6" r="5.6" fill="#0fb44a"/><circle cx="1372.3" cy="414.6" r="5.6" fill="#0fb44a"/><circle cx="1378" cy="414.6" r="5.6" fill="#0fb44a"/><circle cx="1383.8" cy="414.6" r="5.6" fill="#0fb44a"/><circle cx="923.8" cy="424" r="5.6" fill="#0ba6ff"/><circle cx="929.5" cy="424" r="5.6" fill="#0ba6ff"/><circle cx="935.3" cy="424" r="5.6" fill="#0ba6ff"/><circle cx="941" cy="424" r="5.6" fill="#0ba6ff"/><circle cx="946.8" cy="424" r="5.6" fill="#0ba6ff"/><circle cx="952.5" cy="424" r="5.6" fill="#0ba6ff"/><circle cx="958.3" cy="424" r="5.6" fill="#0ba6ff"/><circle cx="964" cy="424" r="5.6" fill="#0ba6ff"/><circle cx="969.8" cy="424" r="5.6" fill="#0ba6ff"/><circle cx="975.5" cy="424" r="5.6" fill="#0ba6ff"/><circle cx="981.3" cy="424" r="5.6" fill="#0ba6ff"/><circle cx="987" cy="424" r="5.6" fill="#0ba6ff"/><circle cx="992.8" cy="424" r="5.6" fill="#0ba6ff"/><circle cx="998.5" cy="424" r="5.6" fill="#0ba6ff"/><circle cx="1004.3" cy="424" r="5.6" fill="#0ba6ff"/><circle cx="1010" cy="424" r="5.6" fill="#0ba6ff"/><circle cx="1015.8" cy="424" r="5.6" fill="#0ba6ff"/><circle cx="1021.5" cy="424" r="5.6" fill="#0ba6ff"/><circle cx="1027.3" cy="424" r="5.6" fill="#0ba6ff"/><circle cx="1033" cy="424" r="5.6" fill="#0ba6ff"/><circle cx="1038.8" cy="424" r="5.6" fill="#0ba6ff"/><circle cx="1044.5" cy="424" r="5.6" fill="#0ba6ff"/><circle cx="1050.3" cy="424" r="5.6" fill="#0ba6ff"/><circle cx="1056" cy="424" r="5.6" fill="#0ba6ff"/><circle cx="1061.8" cy="424" r="5.6" fill="#0ba6ff"/><circle cx="1067.5" cy="424" r="5.6" fill="#0ba6ff"/><circle cx="1073.3" cy="424" r="5.6" fill="#0ba6ff"/><circle cx="1079" cy="424" r="5.6" fill="#0ba6ff"/><circle cx="1084.8" cy="424" r="5.6" fill="#0ba6ff"/><circle cx="1090.5" cy="424" r="5.6" fill="#0ba6ff"/><circle cx="1096.3" cy="424" r="5.6" fill="#0ba6ff"/><circle cx="1102" cy="424" r="5.6" fill="#0ba6ff"/><circle cx="1107.8" cy="424" r="5.6" fill="#0ba6ff"/><circle cx="1113.5" cy="424" r="5.6" fill="#0ba6ff"/><circle cx="1119.3" cy="424" r="5.6" fill="#0ba6ff"/><circle cx="1125" cy="424" r="5.6" fill="#0ba6ff"/><circle cx="1130.8" cy="424" r="5.6" fill="#0ba6ff"/><circle cx="1136.5" cy="424" r="5.6" fill="#0ba6ff"/><circle cx="1142.3" cy="424" r="5.6" fill="#0ba6ff"/><circle cx="1148" cy="424" r="5.6" fill="#0ba6ff"/><circle cx="1153.8" cy="424" r="5.6" fill="#0ba6ff"/><circle cx="1159.5" cy="424" r="5.6" fill="#0ba6ff"/><circle cx="1165.3" cy="424" r="5.6" fill="#0ba6ff"/><circle cx="1171" cy="424" r="5.6" fill="#0ba6ff"/><circle cx="1176.8" cy="424" r="5.6" fill="#0ba6ff"/><circle cx="1182.5" cy="424" r="5.6" fill="#0ba6ff"/><circle cx="1188.3" cy="424" r="5.6" fill="#0ba6ff"/><circle cx="1194" cy="424" r="5.6" fill="#0ba6ff"/><circle cx="1199.8" cy="424" r="5.6" fill="#0ba6ff"/><circle cx="1205.5" cy="424" r="5.6" fill="#0ba6ff"/><circle cx="1211.3" cy="424" r="5.6" fill="#0ba6ff"/><circle cx="1217" cy="424" r="5.6" fill="#0ba6ff"/><circle cx="1222.8" cy="424" r="5.6" fill="#0ba6ff"/><circle cx="1228.5" cy="424" r="5.6" fill="#0ba6ff"/><circle cx="1234.3" cy="424" r="5.6" fill="#0ba6ff"/><circle cx="1240" cy="424" r="5.6" fill="#0ba6ff"/><circle cx="1245.8" cy="424" r="5.6" fill="#0ba6ff"/><circle cx="1251.5" cy="424" r="5.6" fill="#0ba6ff"/><circle cx="1257.3" cy="424" r="5.6" fill="#0ba6ff"/><circle cx="1263" cy="424" r="5.6" fill="#0ba6ff"/><circle cx="1268.8" cy="424" r="5.6" fill="#0ba6ff"/><circle cx="1274.5" cy="424" r="5.6" fill="#0ba6ff"/><circle cx="1280.3" cy="424" r="5.6" fill="#0ba6ff"/><circle cx="1286" cy="424" r="5.6" fill="#0ba6ff"/><circle cx="1291.8" cy="424" r="5.6" fill="#0ba6ff"/><circle cx="1297.5" cy="424" r="5.6" fill="#0ba6ff"/><circle cx="1303.3" cy="424" r="5.6" fill="#0ba6ff"/><circle cx="1309" cy="424" r="5.6" fill="#0ba6ff"/><circle cx="1314.8" cy="424" r="5.6" fill="#0ba6ff"/><circle cx="1320.5" cy="424" r="5.6" fill="#0ba6ff"/><circle cx="1326.3" cy="424" r="5.6" fill="#0ba6ff"/><circle cx="1332" cy="424" r="5.6" fill="#0ba6ff"/><circle cx="1337.8" cy="424" r="5.6" fill="#0ba6ff"/><circle cx="1343.5" cy="424" r="5.6" fill="#0ba6ff"/><circle cx="1349.3" cy="424" r="5.6" fill="#0ba6ff"/><circle cx="1355" cy="424" r="5.6" fill="#0ba6ff"/><circle cx="1360.8" cy="424" r="5.6" fill="#0ba6ff"/><circle cx="1366.5" cy="424" r="5.6" fill="#0ba6ff"/><circle cx="1372.3" cy="424" r="5.6" fill="#0ba6ff"/><circle cx="1378" cy="424" r="5.6" fill="#0ba6ff"/><circle cx="1383.8" cy="424" r="5.6" fill="#0ba6ff"/><circle cx="1389.5" cy="424" r="5.6" fill="#0ba6ff"/><circle cx="1003" cy="843.7" r="5.6" fill="#fd5a6a"/><circle cx="1008.7" cy="843.7" r="5.6" fill="#fd5a6a"/><circle cx="1014.3" cy="843.7" r="5.6" fill="#fd5a6a"/><circle cx="1020" cy="843.7" r="5.6" fill="#fd5a6a"/><circle cx="1025.7" cy="843.7" r="5.6" fill="#fd5a6a"/><circle cx="1031.3" cy="843.7" r="5.6" fill="#fd5a6a"/><circle cx="1037" cy="843.7" r="5.6" fill="#fd5a6a"/><circle cx="1042.7" cy="843.7" r="5.6" fill="#fd5a6a"/><circle cx="1048.3" cy="843.7" r="5.6" fill="#fd5a6a"/><circle cx="1054" cy="843.7" r="5.6" fill="#fd5a6a"/><circle cx="1059.7" cy="843.7" r="5.6" fill="#fd5a6a"/><circle cx="1065.3" cy="843.7" r="5.6" fill="#fd5a6a"/><circle cx="1071" cy="843.7" r="5.6" fill="#fd5a6a"/><circle cx="1076.7" cy="843.7" r="5.6" fill="#fd5a6a"/><circle cx="1082.3" cy="843.7" r="5.6" fill="#fd5a6a"/><circle cx="1088" cy="843.7" r="5.6" fill="#fd5a6a"/><circle cx="1093.7" cy="843.7" r="5.6" fill="#fd5a6a"/><circle cx="1099.3" cy="843.7" r="5.6" fill="#fd5a6a"/><circle cx="1105" cy="843.7" r="5.6" fill="#fd5a6a"/><circle cx="1110.7" cy="843.7" r="5.6" fill="#fd5a6a"/><circle cx="1116.3" cy="843.7" r="5.6" fill="#fd5a6a"/><circle cx="1122" cy="843.7" r="5.6" fill="#fd5a6a"/><circle cx="1127.7" cy="843.7" r="5.6" fill="#fd5a6a"/><circle cx="1133.3" cy="843.7" r="5.6" fill="#fd5a6a"/><circle cx="1139" cy="843.7" r="5.6" fill="#fd5a6a"/><circle cx="1144.7" cy="843.7" r="5.6" fill="#fd5a6a"/><circle cx="1150.4" cy="843.7" r="5.6" fill="#fd5a6a"/><circle cx="1156" cy="843.7" r="5.6" fill="#fd5a6a"/><circle cx="1161.7" cy="843.7" r="5.6" fill="#fd5a6a"/><circle cx="1167.4" cy="843.7" r="5.6" fill="#fd5a6a"/><circle cx="1173" cy="843.7" r="5.6" fill="#fd5a6a"/><circle cx="1178.7" cy="843.7" r="5.6" fill="#fd5a6a"/><circle cx="1184.4" cy="843.7" r="5.6" fill="#fd5a6a"/><circle cx="1190" cy="843.7" r="5.6" fill="#fd5a6a"/><circle cx="1195.7" cy="843.7" r="5.6" fill="#fd5a6a"/><circle cx="1201.4" cy="843.7" r="5.6" fill="#fd5a6a"/><circle cx="1207" cy="843.7" r="5.6" fill="#fd5a6a"/><circle cx="1212.7" cy="843.7" r="5.6" fill="#fd5a6a"/><circle cx="1218.4" cy="843.7" r="5.6" fill="#fd5a6a"/><circle cx="1224" cy="843.7" r="5.6" fill="#fd5a6a"/><circle cx="1229.7" cy="843.7" r="5.6" fill="#fd5a6a"/><circle cx="1235.4" cy="843.7" r="5.6" fill="#fd5a6a"/><circle cx="1241" cy="843.7" r="5.6" fill="#fd5a6a"/><circle cx="1246.7" cy="843.7" r="5.6" fill="#fd5a6a"/><circle cx="1252.4" cy="843.7" r="5.6" fill="#fd5a6a"/><circle cx="1258" cy="843.7" r="5.6" fill="#fd5a6a"/><circle cx="1263.7" cy="843.7" r="5.6" fill="#fd5a6a"/><circle cx="1269.4" cy="843.7" r="5.6" fill="#fd5a6a"/><circle cx="1275" cy="843.7" r="5.6" fill="#fd5a6a"/><circle cx="1280.7" cy="843.7" r="5.6" fill="#fd5a6a"/><circle cx="1304.4" cy="843.7" r="5.6" fill="#fd5a6a"/><circle cx="1349.9" cy="843.7" r="5.6" fill="#fd5a6a"/><circle cx="1361.3" cy="843.7" r="5.6" fill="#fd5a6a"/><circle cx="1317.5" cy="843.7" r="5.6" fill="#fd5a6a"/><circle cx="1322.4" cy="843.7" r="5.6" fill="#fd5a6a"/><circle cx="1327.3" cy="843.7" r="5.6" fill="#fd5a6a"/><circle cx="1332.2" cy="843.7" r="5.6" fill="#fd5a6a"/><circle cx="997.1" cy="852.8" r="5.6" fill="#0fb44a"/><circle cx="1156.6" cy="852.8" r="5.6" fill="#0fb44a"/><circle cx="1173.3" cy="852.8" r="5.6" fill="#0fb44a"/><circle cx="1179" cy="852.8" r="5.6" fill="#0fb44a"/><circle cx="1184.7" cy="852.8" r="5.6" fill="#0fb44a"/><circle cx="1190.4" cy="852.8" r="5.6" fill="#0fb44a"/><circle cx="1196.1" cy="852.8" r="5.6" fill="#0fb44a"/><circle cx="1201.8" cy="852.8" r="5.6" fill="#0fb44a"/><circle cx="1008.8" cy="861.8" r="5.6" fill="#0ba6ff"/><circle cx="1014.5" cy="861.8" r="5.6" fill="#0ba6ff"/><circle cx="1037.3" cy="861.8" r="5.6" fill="#0ba6ff"/><circle cx="1054.2" cy="861.8" r="5.6" fill="#0ba6ff"/><circle cx="1060" cy="861.8" r="5.6" fill="#0ba6ff"/><circle cx="1071.2" cy="861.8" r="5.6" fill="#0ba6ff"/><circle cx="1094" cy="861.8" r="5.6" fill="#0ba6ff"/><circle cx="1111.1" cy="861.8" r="5.6" fill="#0ba6ff"/><circle cx="1128.2" cy="861.8" r="5.6" fill="#0ba6ff"/><circle cx="1145.2" cy="861.8" r="5.6" fill="#0ba6ff"/><circle cx="1184.7" cy="861.8" r="5.6" fill="#0ba6ff"/><circle cx="1190.7" cy="861.8" r="5.6" fill="#0ba6ff"/><circle cx="1218.8" cy="861.8" r="5.6" fill="#0ba6ff"/><circle cx="1230.5" cy="861.8" r="5.6" fill="#0ba6ff"/><circle cx="1321.2" cy="861.8" r="5.6" fill="#0ba6ff"/><circle cx="1327.2" cy="861.8" r="5.6" fill="#0ba6ff"/><line x1="131.9" y1="44" x2="131.9" y2="435.1" stroke="#000" stroke-width="3.7"/><line x1="130.1" y1="433.4" x2="748.1" y2="433.4" stroke="#1a1a1a" stroke-width="3.4"/><line x1="131.9" y1="387.3" x2="140.1" y2="387.3" stroke="#000" stroke-width="3.4"/><line x1="131.9" y1="295.1" x2="140.1" y2="295.1" stroke="#000" stroke-width="3.4"/><line x1="131.9" y1="202.9" x2="140.1" y2="202.9" stroke="#000" stroke-width="3.4"/><line x1="131.9" y1="110.7" x2="140.1" y2="110.7" stroke="#000" stroke-width="3.4"/><line x1="532.1" y1="430.4" x2="532.1" y2="437.6" stroke="#000" stroke-width="2.4"/><line x1="174.5" y1="425.4" x2="174.5" y2="433.4" stroke="#1a1a1a" stroke-width="3"/><line x1="317.6" y1="425.4" x2="317.6" y2="433.4" stroke="#1a1a1a" stroke-width="3"/><line x1="460.6" y1="425.4" x2="460.6" y2="433.4" stroke="#1a1a1a" stroke-width="3"/><line x1="603.7" y1="425.4" x2="603.7" y2="433.4" stroke="#1a1a1a" stroke-width="3"/><line x1="789.8" y1="44.3" x2="789.8" y2="435.1" stroke="#000" stroke-width="3.7"/><line x1="788" y1="433.4" x2="1402" y2="433.4" stroke="#1a1a1a" stroke-width="3.4"/><line x1="789.8" y1="387.3" x2="798" y2="387.3" stroke="#000" stroke-width="3.4"/><line x1="789.8" y1="295.1" x2="798" y2="295.1" stroke="#000" stroke-width="3.4"/><line x1="789.8" y1="202.9" x2="798" y2="202.9" stroke="#000" stroke-width="3.4"/><line x1="789.8" y1="110.7" x2="798" y2="110.7" stroke="#000" stroke-width="3.4"/><line x1="1187.5" y1="430.4" x2="1187.5" y2="437.6" stroke="#000" stroke-width="2.4"/><line x1="832.4" y1="425.4" x2="832.4" y2="433.4" stroke="#1a1a1a" stroke-width="3"/><line x1="974.5" y1="425.4" x2="974.5" y2="433.4" stroke="#1a1a1a" stroke-width="3"/><line x1="1116.5" y1="425.4" x2="1116.5" y2="433.4" stroke="#1a1a1a" stroke-width="3"/><line x1="1258.5" y1="425.4" x2="1258.5" y2="433.4" stroke="#1a1a1a" stroke-width="3"/><line x1="131.9" y1="482" x2="131.9" y2="872.5" stroke="#000" stroke-width="3.7"/><line x1="130.1" y1="870.8" x2="748.1" y2="870.8" stroke="#1a1a1a" stroke-width="3.4"/><line x1="131.9" y1="824.8" x2="140.1" y2="824.8" stroke="#000" stroke-width="3.4"/><line x1="131.9" y1="732.6" x2="140.1" y2="732.6" stroke="#000" stroke-width="3.4"/><line x1="131.9" y1="640.4" x2="140.1" y2="640.4" stroke="#000" stroke-width="3.4"/><line x1="131.9" y1="548.2" x2="140.1" y2="548.2" stroke="#000" stroke-width="3.4"/><line x1="532.1" y1="867.8" x2="532.1" y2="875" stroke="#000" stroke-width="2.4"/><line x1="174.5" y1="862.8" x2="174.5" y2="870.8" stroke="#1a1a1a" stroke-width="3"/><line x1="317.6" y1="862.8" x2="317.6" y2="870.8" stroke="#1a1a1a" stroke-width="3"/><line x1="460.6" y1="862.8" x2="460.6" y2="870.8" stroke="#1a1a1a" stroke-width="3"/><line x1="603.7" y1="862.8" x2="603.7" y2="870.8" stroke="#1a1a1a" stroke-width="3"/><line x1="789.8" y1="537" x2="789.8" y2="872.5" stroke="#000" stroke-width="3.7"/><line x1="788" y1="870.8" x2="1402" y2="870.8" stroke="#1a1a1a" stroke-width="3.4"/><line x1="789.8" y1="824.8" x2="798" y2="824.8" stroke="#000" stroke-width="3.4"/><line x1="789.8" y1="732.6" x2="798" y2="732.6" stroke="#000" stroke-width="3.4"/><line x1="789.8" y1="640.4" x2="798" y2="640.4" stroke="#000" stroke-width="3.4"/><line x1="789.8" y1="548.2" x2="798" y2="548.2" stroke="#000" stroke-width="3.4"/><line x1="1187.5" y1="867.8" x2="1187.5" y2="875" stroke="#000" stroke-width="2.4"/><line x1="832.4" y1="862.8" x2="832.4" y2="870.8" stroke="#1a1a1a" stroke-width="3"/><line x1="974.5" y1="862.8" x2="974.5" y2="870.8" stroke="#1a1a1a" stroke-width="3"/><line x1="1116.5" y1="862.8" x2="1116.5" y2="870.8" stroke="#1a1a1a" stroke-width="3"/><line x1="1258.5" y1="862.8" x2="1258.5" y2="870.8" stroke="#1a1a1a" stroke-width="3"/><path d="M604,433 C610,433 632.8,433.6 640,433 C647.2,432.4 644.7,430.8 647.2,429.6 C649.7,428.4 652.7,426.8 655.2,425.6 C657.7,424.4 660.1,424.1 662.3,422.6 C664.5,421.1 666.4,418.5 668.3,416.5 C670.1,414.5 671.4,412.9 673.4,410.5 C675.4,408.1 678.2,405.1 680.4,402.4 C682.6,399.7 684.5,397.4 686.5,394.4 C688.5,391.4 690.5,387.7 692.5,384.3 C694.5,380.9 696.6,377.6 698.5,374.2 C700.4,370.8 702.1,367.4 703.6,364.2 C705.1,361 706.3,358.1 707.6,355.1 C708.9,352.1 710.4,348.5 711.6,346 C712.8,343.5 713.6,342.5 714.7,340 C715.8,337.5 716.1,336 718,331 C719.9,326 723.3,317.2 726,310 C728.7,302.8 731.5,294.5 734,288 C736.5,281.5 738.8,276.3 741,271 C743.2,265.7 746,258.5 747,256" stroke="#d95319" stroke-width="3" fill="none" stroke-linejoin="round"/><path d="M665.3,427.6 C667.6,425.7 674.5,419.8 679,416 C683.5,412.2 688.5,408.4 692,405 C695.5,401.6 697.4,398.6 700,395.5 C702.6,392.4 704.8,390.4 707.6,386.3 C710.4,382.2 713.7,376.1 717,371 C720.3,365.9 724.8,359.9 727.3,355.6 C729.8,351.3 730.4,348.8 732,345 C733.6,341.2 735.5,336.2 737,332.7 C738.5,329.2 739.3,327.4 741,324 C742.7,320.6 746,314 747,312" stroke="#d95319" stroke-width="3" fill="none" stroke-dasharray="36 25" stroke-linejoin="round"/><path d="M640,433 C642.5,432.2 650.8,430.2 655,428 C659.2,425.8 661.9,423.4 665,420 C668.1,416.6 670.6,411.7 673.4,407.5 C676.2,403.3 679.2,399.3 681.9,394.9 C684.6,390.5 687.1,385.8 689.5,381.3 C691.9,376.8 694,372.3 696,367.7 C698,363.1 699.7,358.2 701.6,353.6 C703.5,349 705.6,344.7 707.6,340 C709.6,335.3 711.8,330.2 713.7,325.4 C715.6,320.6 717.3,315.9 718.9,311 C720.5,306.1 721.8,301.2 723.2,296.2 C724.6,291.2 725.9,286.1 727.4,281.2 C728.9,276.2 730.4,271.4 732,266.5 C733.6,261.6 735.5,256.9 737.2,252 C738.9,247.1 740.6,242.2 742.2,237.3 C743.8,232.5 745.9,225.3 746.6,222.9" stroke="#d95319" stroke-width="3.6" fill="none" stroke-dasharray="3.6 11.7"/><path d="M1259.5,433 C1261.2,431.8 1266.4,427.6 1269.6,425.5 C1272.8,423.4 1276.4,422.3 1278.7,420.4 C1281,418.5 1281.9,416.3 1283.2,414.1 C1284.5,411.9 1285.1,409.8 1286.6,407.3 C1288.1,404.8 1290.2,401.8 1292.3,399.3 C1294.4,396.8 1297.2,394.8 1299.1,392.5 C1301,390.2 1302.4,387.8 1303.7,385.7 C1305,383.6 1304.9,385.9 1307.1,380 C1309.3,374.1 1314.2,358.1 1317.1,350 C1320,341.9 1322.3,337.9 1324.6,331.5 C1326.9,325.1 1328.7,318.1 1330.7,311.8 C1332.7,305.5 1334.4,300 1336.7,293.7 C1339,287.4 1342,280.3 1344.3,274 C1346.6,267.7 1348.3,262.3 1350.3,255.9 C1352.3,249.5 1354.5,240.3 1356.3,235.5 C1358.1,230.7 1359.2,230.4 1361,227 C1362.8,223.6 1364.8,219.8 1366.9,215 C1369,210.2 1371.1,203 1373.4,198 C1375.7,193 1378,189.9 1380.6,185 C1383.2,180.1 1385.8,174 1388.8,168.7 C1391.8,163.4 1396.8,156.6 1398.8,153.3 C1400.8,150 1400.2,149.7 1400.5,149" stroke="#d95319" stroke-width="3" fill="none" stroke-linejoin="round"/><path d="M1259.5,433 C1261.2,430.4 1266.6,422.4 1269.6,417.5 C1272.6,412.6 1274.1,410.5 1277.5,403.9 C1280.9,397.3 1285.7,387.8 1290,378 C1294.3,368.2 1299.8,354.6 1303.5,345.1 C1307.2,335.6 1309,330.6 1312.5,320.9 C1316,311.2 1321.2,296.5 1324.6,286.9 C1328,277.3 1329.6,273.3 1332.9,263.5 C1336.2,253.7 1341,237.8 1344.3,228 C1347.6,218.2 1349.9,211.7 1352.5,205 C1355.1,198.3 1357.4,193.6 1360,188 C1362.6,182.4 1364.8,177.8 1367.9,171.4 C1371,165 1375.1,156.1 1378.8,149.7 C1382.5,143.3 1386.7,138 1390,133 C1393.3,128 1397,122.5 1398.8,119.8 C1400.5,117.1 1400.2,117.5 1400.5,117" stroke="#d95319" stroke-width="3" fill="none" stroke-dasharray="36 25" stroke-linejoin="round"/><path d="M1259.5,433 C1260.6,431.2 1263.6,426.7 1266,422 C1268.4,417.3 1271.3,410.5 1274,405 C1276.7,399.5 1279.4,395.3 1282,389 C1284.6,382.7 1287,374.3 1289.5,367 C1292,359.7 1294.8,351.3 1296.7,345.1 C1298.7,338.9 1299.8,334.9 1301.2,330 C1302.6,325.1 1303.7,320.5 1305,315.6 C1306.3,310.7 1307.5,305.5 1308.8,300.5 C1310,295.5 1311.2,290.4 1312.5,285.4 C1313.8,280.4 1314.9,275.2 1316.3,270.3 C1317.7,265.4 1319.4,260.8 1320.8,255.9 C1322.2,251 1323.3,245.8 1324.6,240.8 C1325.9,235.8 1327.1,230.8 1328.4,225.7 C1329.7,220.6 1331.1,215.4 1332.6,210.4 C1334,205.4 1335.6,200.7 1337.1,195.9 C1338.6,191.1 1340.1,186.3 1341.7,181.4 C1343.3,176.5 1344.9,171.4 1346.6,166.5 C1348.3,161.6 1350.1,156.8 1352,152 C1353.9,147.2 1355.8,142.5 1358,137.9 C1360.2,133.3 1362.7,128.8 1365.2,124.3 C1367.7,119.8 1369.9,115.2 1372.8,111.1 C1375.7,107 1379.2,103 1382.8,99.5 C1386.4,96 1391.3,92.5 1394.2,90.4 C1397.1,88.3 1399,87.6 1400,87" stroke="#d95319" stroke-width="3.6" fill="none" stroke-dasharray="3.6 11.7"/><path d="M604,871 C610.1,871 632.1,871.9 640.4,871 C648.7,870.1 649.3,867.8 653.8,865.5 C658.3,863.2 663.3,859.9 667.2,857.1 C671.1,854.3 673.9,852.4 677.2,848.8 C680.6,845.2 683.9,840.4 687.3,835.4 C690.6,830.4 694.2,824.3 697.3,818.7 C700.4,813.1 703.2,807.8 705.7,801.9 C708.2,796 709.8,790.7 712.3,783.5 C714.8,776.3 718.4,765.1 720.7,758.5 C723,751.9 724.2,749.6 726.3,744.1 C728.4,738.6 730.8,732.4 733.3,725.8 C735.8,719.2 738.8,710.1 741.1,704.6 C743.4,699.1 746,694.9 747,693" stroke="#d95319" stroke-width="3" fill="none" stroke-linejoin="round"/><path d="M660,867 C660.9,866.6 662.3,866.8 665.5,864.6 C668.7,862.4 674.5,857.6 679,854 C683.5,850.4 688.8,846.2 692.3,842.9 C695.8,839.6 697.5,837.1 700,834 C702.5,830.9 704.5,828.8 707.3,824.5 C710.1,820.2 713.6,813.4 717,808 C720.4,802.6 724.9,796.4 727.4,791.9 C729.9,787.4 730.3,784.6 732,781 C733.7,777.4 735.7,773.7 737.4,770.2 C739.1,766.7 740.3,763.6 742,760 C743.7,756.4 746.6,750.3 747.5,748.4" stroke="#d95319" stroke-width="3" fill="none" stroke-dasharray="36 25" stroke-linejoin="round"/><path d="M637,869 C639.5,868.1 647.6,865.8 652.1,863.8 C656.6,861.8 660.3,860.2 663.8,857.1 C667.3,854 669.9,849.4 673,845.4 C676.1,841.4 679.6,837.2 682.2,832.9 C684.9,828.6 686.7,824.1 688.9,819.5 C691.1,814.9 693.5,810 695.6,805.3 C697.7,800.6 699.5,795.8 701.5,791.1 C703.5,786.4 705.3,781.6 707.3,776.9 C709.2,772.1 711.3,767.4 713.2,762.6 C715.1,757.8 716.9,753.1 718.5,748.3 C720.1,743.4 721.5,738.4 723,733.5 C724.5,728.6 725.9,723.6 727.4,718.7 C728.9,713.8 730.2,709.1 731.9,704.2 C733.5,699.3 735.6,694.3 737.3,689.4 C739,684.5 740.5,679.5 742.1,674.7 C743.7,670 745.9,663.2 746.7,660.9" stroke="#d95319" stroke-width="3.6" fill="none" stroke-dasharray="3.6 11.7"/><path d="M1259.5,871 C1262.4,868.9 1272.5,862.7 1277,858.4 C1281.5,854.1 1283.5,849 1286.4,845 C1289.3,841 1291.7,837.7 1294.4,834.4 C1297.1,831.1 1300.3,828.2 1302.4,825 C1304.5,821.8 1304.9,820.1 1307,815 C1309.1,809.9 1312.5,800.6 1315.1,794.2 C1317.7,787.8 1320.3,782.6 1322.5,776.5 C1324.7,770.4 1325.8,764.5 1328.3,757.4 C1330.8,750.3 1334.7,741.8 1337.2,733.8 C1339.7,725.8 1341.1,716.7 1343.3,709.3 C1345.5,701.9 1347.9,696 1350.2,689.6 C1352.5,683.2 1354.7,677.1 1357.2,671.1 C1359.7,665.1 1362.8,659.3 1365.3,653.7 C1367.8,648.1 1369.5,642.9 1372.2,637.5 C1374.9,632.1 1378.6,626.5 1381.5,621.3 C1384.4,616.1 1386.7,611.6 1389.6,606.2 C1392.5,600.8 1397.1,592.3 1398.9,588.9 C1400.7,585.5 1400.2,586.5 1400.5,586" stroke="#d95319" stroke-width="3" fill="none" stroke-linejoin="round"/><path d="M1259.5,871 C1260.9,868.2 1264.1,859.8 1267.7,854.4 C1271.3,849 1277,844.6 1281,838.4 C1285,832.2 1287.7,826.2 1291.5,817 C1295.3,807.8 1300.4,792.8 1304.1,783.1 C1307.8,773.4 1310.2,768.6 1313.6,758.9 C1317,749.2 1321.5,734.6 1324.7,725 C1327.9,715.4 1329.6,711.2 1332.9,701.2 C1336.2,691.2 1341.1,675.1 1344.4,665.3 C1347.7,655.5 1348.4,651.5 1352.5,642.2 C1356.6,632.9 1364.3,618.9 1368.8,609.7 C1373.2,600.5 1374.2,595.9 1379.2,587 C1384.2,578.1 1395.4,561.9 1398.9,556.4 C1402.5,550.9 1400.2,554.4 1400.5,554" stroke="#d95319" stroke-width="3" fill="none" stroke-dasharray="36 25" stroke-linejoin="round"/><path d="M1259.5,871 C1261.2,867.5 1266.2,857.2 1270,850 C1273.8,842.8 1279.2,834.2 1282,828 C1284.8,821.8 1285.4,817.8 1287.1,812.6 C1288.8,807.5 1290.6,802 1292.3,797.1 C1294,792.2 1295.6,788 1297.1,783.1 C1298.6,778.2 1300,773 1301.3,768 C1302.6,763 1303.9,758 1305.1,753 C1306.3,748 1307.2,743 1308.5,738 C1309.8,733 1311.3,727.8 1312.6,722.8 C1313.8,717.8 1314.8,713.1 1316,708 C1317.2,702.9 1318.6,697 1320.1,692 C1321.5,687 1323.3,682.8 1324.7,678 C1326.1,673.2 1326.8,668 1328.2,663 C1329.6,658 1331.4,652.9 1332.9,647.9 C1334.5,642.9 1336,637.8 1337.5,632.9 C1339,628 1340.5,623.3 1342.1,618.5 C1343.6,613.7 1345.1,608.8 1346.8,603.9 C1348.5,599 1350.2,593.7 1352.1,588.9 C1354,584.1 1356.1,579.6 1358.3,575 C1360.5,570.4 1362.9,565.6 1365.3,561.1 C1367.7,556.6 1369.8,552.3 1372.7,548.3 C1375.6,544.2 1379,540.3 1382.7,536.8 C1386.4,533.3 1391.8,529.6 1394.7,527.5 C1397.6,525.4 1399.1,524.6 1400,524" stroke="#d95319" stroke-width="3.6" fill="none" stroke-dasharray="3.6 11.7"/><line x1="1393.2" y1="85" x2="1401" y2="85" stroke="#d95319" stroke-width="3.2"/><text x="1415.8" y="99.3" font-size="39.5" fill="#d95319" textLength="79" lengthAdjust="spacingAndGlyphs">90%</text><line x1="1393.2" y1="240.1" x2="1401" y2="240.1" stroke="#d95319" stroke-width="3.2"/><text x="1415.8" y="254.4" font-size="39.5" fill="#d95319" textLength="79" lengthAdjust="spacingAndGlyphs">50%</text><line x1="1393.2" y1="394.8" x2="1401" y2="394.8" stroke="#d95319" stroke-width="3.2"/><text x="1415.8" y="409.1" font-size="39.5" fill="#d95319" textLength="79" lengthAdjust="spacingAndGlyphs">10%</text><line x1="1393.2" y1="522.5" x2="1401" y2="522.5" stroke="#d95319" stroke-width="3.2"/><text x="1415.8" y="536.8" font-size="39.5" fill="#d95319" textLength="79" lengthAdjust="spacingAndGlyphs">90%</text><line x1="1393.2" y1="677.6" x2="1401" y2="677.6" stroke="#d95319" stroke-width="3.2"/><text x="1415.8" y="691.9" font-size="39.5" fill="#d95319" textLength="79" lengthAdjust="spacingAndGlyphs">50%</text><line x1="1393.2" y1="832.3" x2="1401" y2="832.3" stroke="#d95319" stroke-width="3.2"/><text x="1415.8" y="846.6" font-size="39.5" fill="#d95319" textLength="79" lengthAdjust="spacingAndGlyphs">10%</text><text x="115.5" y="401.1" font-size="38.5" text-anchor="end" fill="#000">0.2</text><text x="115.5" y="308.9" font-size="38.5" text-anchor="end" fill="#000">0.3</text><text x="115.5" y="216.7" font-size="38.5" text-anchor="end" fill="#000">0.4</text><text x="115.5" y="124.5" font-size="38.5" text-anchor="end" fill="#000">0.5</text><text x="115.5" y="838.6" font-size="38.5" text-anchor="end" fill="#000">0.2</text><text x="115.5" y="746.4" font-size="38.5" text-anchor="end" fill="#000">0.3</text><text x="115.5" y="654.2" font-size="38.5" text-anchor="end" fill="#000">0.4</text><text x="115.5" y="562" font-size="38.5" text-anchor="end" fill="#000">0.5</text><text x="173" y="925.3" font-size="38.5" text-anchor="middle" fill="#1a1a1a">0</text><text x="316.1" y="925.3" font-size="38.5" text-anchor="middle" fill="#1a1a1a">0.1</text><text x="459.1" y="925.3" font-size="38.5" text-anchor="middle" fill="#1a1a1a">0.2</text><text x="602.2" y="925.3" font-size="38.5" text-anchor="middle" fill="#1a1a1a">0.3</text><text x="745.2" y="925.3" font-size="38.5" text-anchor="middle" fill="#1a1a1a">0.4</text><text x="830.9" y="925.3" font-size="38.5" text-anchor="middle" fill="#1a1a1a">0</text><text x="973" y="925.3" font-size="38.5" text-anchor="middle" fill="#1a1a1a">0.1</text><text x="1115" y="925.3" font-size="38.5" text-anchor="middle" fill="#1a1a1a">0.2</text><text x="1257" y="925.3" font-size="38.5" text-anchor="middle" fill="#1a1a1a">0.3</text><text x="1399.1" y="925.3" font-size="38.5" text-anchor="middle" fill="#1a1a1a">0.4</text><text x="221" y="983.5" font-size="42.5" fill="#1a1a1a" textLength="433" lengthAdjust="spacingAndGlyphs">time [s] from test onset</text><text x="877" y="983.5" font-size="42.5" fill="#1a1a1a" textLength="433" lengthAdjust="spacingAndGlyphs">time [s] from test onset</text><text transform="translate(38.8,239.8) rotate(-90)" font-size="42.5" text-anchor="middle" fill="#1a1a1a" textLength="243.5" lengthAdjust="spacingAndGlyphs">performance</text><text transform="translate(38.8,677.3) rotate(-90)" font-size="42.5" text-anchor="middle" fill="#1a1a1a" textLength="243.5" lengthAdjust="spacingAndGlyphs">performance</text><text x="438.8" y="35.1" font-size="48.5" font-weight="bold" text-anchor="middle" fill="#000" textLength="100" lengthAdjust="spacingAndGlyphs">EDG</text><text x="1093.4" y="35" font-size="48.5" font-weight="bold" text-anchor="middle" fill="#000" textLength="101" lengthAdjust="spacingAndGlyphs">SUN</text><text x="-2" y="58.8" font-size="79" font-weight="bold" fill="#000" textLength="61" lengthAdjust="spacingAndGlyphs">A</text><text x="4.6" y="498.8" font-size="79" font-weight="bold" fill="#000">B</text><rect x="231" y="475.4" width="81" height="11.4" fill="#fd5a6a"/><line x1="234" y1="496.5" x2="239.5" y2="496.5" stroke="#d95319" stroke-width="6" stroke-linecap="round"/><line x1="268.7" y1="496.5" x2="274.2" y2="496.5" stroke="#d95319" stroke-width="6" stroke-linecap="round"/><line x1="303.4" y1="496.5" x2="308.9" y2="496.5" stroke="#d95319" stroke-width="6" stroke-linecap="round"/><text x="327.8" y="499.8" font-size="39" fill="#000" textLength="203.5" lengthAdjust="spacingAndGlyphs">conjunction</text><rect x="584" y="475.4" width="81" height="11.4" fill="#0fb44a"/><line x1="587" y1="496.8" x2="615.3" y2="496.8" stroke="#d95319" stroke-width="6" stroke-linecap="round"/><line x1="633.6" y1="496.8" x2="662" y2="496.8" stroke="#d95319" stroke-width="6" stroke-linecap="round"/><text x="680.5" y="499.8" font-size="39" fill="#000" textLength="220" lengthAdjust="spacingAndGlyphs">single (color)</text><rect x="960" y="475.4" width="81" height="11.4" fill="#0ba6ff"/><line x1="963" y1="496.5" x2="1039" y2="496.5" stroke="#d95319" stroke-width="6" stroke-linecap="round"/><text x="1055.5" y="499.8" font-size="39" fill="#000" textLength="253.5" lengthAdjust="spacingAndGlyphs">single (motion)</text><rect x="180.9" y="48.7" width="38.2" height="38.2" rx="6" ry="6" fill="#13ff00" stroke="#000" stroke-width="4"/><rect x="228.8" y="48.7" width="40" height="38.2" rx="6" ry="6" fill="#f000ff" stroke="#000" stroke-width="4"/><rect x="180.9" y="94.3" width="38.2" height="38.2" rx="6" ry="6" fill="#ff6600" stroke="#000" stroke-width="4"/><rect x="228.8" y="94.3" width="40" height="38.2" rx="6" ry="6" fill="#00ffff" stroke="#000" stroke-width="4"/><rect x="838.8" y="48.7" width="38.2" height="38.2" rx="6" ry="6" fill="#13ff00" stroke="#000" stroke-width="4"/><rect x="886.7" y="48.7" width="40" height="38.2" rx="6" ry="6" fill="#f000ff" stroke="#000" stroke-width="4"/><rect x="838.8" y="94.3" width="38.2" height="38.2" rx="6" ry="6" fill="#ff6600" stroke="#000" stroke-width="4"/><rect x="886.7" y="94.3" width="40" height="38.2" rx="6" ry="6" fill="#00ffff" stroke="#000" stroke-width="4"/><path d="M239.5,565.1 L256.9,582.5 L248.2,582.5 L248.2,606 L230.8,606 L230.8,582.5 L222.1,582.5 Z" fill="#404040" stroke="#fafafa" stroke-width="6.2" stroke-linejoin="miter"/><path d="M239.5,651.2 L256.6,634.1 L248.2,634.1 L248.2,612.8 L230.8,612.8 L230.8,634.1 L222.4,634.1 Z" fill="#404040" stroke="#fafafa" stroke-width="6.2" stroke-linejoin="miter"/><path d="M183.4,609.1 L199.6,592.9 L199.6,601 L224.5,601 L224.5,617.2 L199.6,617.2 L199.6,625.3 Z" fill="#404040" stroke="#fafafa" stroke-width="6.2" stroke-linejoin="miter"/><path d="M295.6,609.1 L279.4,592.9 L279.4,601 L254.5,601 L254.5,617.2 L279.4,617.2 L279.4,625.3 Z" fill="#404040" stroke="#fafafa" stroke-width="6.2" stroke-linejoin="miter"/><path d="M239.5,565.1 L256.9,582.5 L248.2,582.5 L248.2,606 L230.8,606 L230.8,582.5 L222.1,582.5 Z" fill="#404040" stroke="#2f5597" stroke-width="3.4" stroke-linejoin="miter"/><path d="M239.5,651.2 L256.6,634.1 L248.2,634.1 L248.2,612.8 L230.8,612.8 L230.8,634.1 L222.4,634.1 Z" fill="#404040" stroke="#2f5597" stroke-width="3.4" stroke-linejoin="miter"/><path d="M183.4,609.1 L199.6,592.9 L199.6,601 L224.5,601 L224.5,617.2 L199.6,617.2 L199.6,625.3 Z" fill="#404040" stroke="#2f5597" stroke-width="3.4" stroke-linejoin="miter"/><path d="M295.6,609.1 L279.4,592.9 L279.4,601 L254.5,601 L254.5,617.2 L279.4,617.2 L279.4,625.3 Z" fill="#404040" stroke="#2f5597" stroke-width="3.4" stroke-linejoin="miter"/><path d="M897.5,565.1 L914.9,582.5 L906.2,582.5 L906.2,606 L888.8,606 L888.8,582.5 L880.1,582.5 Z" fill="#404040" stroke="#fafafa" stroke-width="6.2" stroke-linejoin="miter"/><path d="M897.5,651.2 L914.6,634.1 L906.2,634.1 L906.2,612.8 L888.8,612.8 L888.8,634.1 L880.4,634.1 Z" fill="#404040" stroke="#fafafa" stroke-width="6.2" stroke-linejoin="miter"/><path d="M841.4,609.1 L857.6,592.9 L857.6,601 L882.5,601 L882.5,617.2 L857.6,617.2 L857.6,625.3 Z" fill="#404040" stroke="#fafafa" stroke-width="6.2" stroke-linejoin="miter"/><path d="M953.6,609.1 L937.4,592.9 L937.4,601 L912.5,601 L912.5,617.2 L937.4,617.2 L937.4,625.3 Z" fill="#404040" stroke="#fafafa" stroke-width="6.2" stroke-linejoin="miter"/><path d="M897.5,565.1 L914.9,582.5 L906.2,582.5 L906.2,606 L888.8,606 L888.8,582.5 L880.1,582.5 Z" fill="#404040" stroke="#2f5597" stroke-width="3.4" stroke-linejoin="miter"/><path d="M897.5,651.2 L914.6,634.1 L906.2,634.1 L906.2,612.8 L888.8,612.8 L888.8,634.1 L880.4,634.1 Z" fill="#404040" stroke="#2f5597" stroke-width="3.4" stroke-linejoin="miter"/><path d="M841.4,609.1 L857.6,592.9 L857.6,601 L882.5,601 L882.5,617.2 L857.6,617.2 L857.6,625.3 Z" fill="#404040" stroke="#2f5597" stroke-width="3.4" stroke-linejoin="miter"/><path d="M953.6,609.1 L937.4,592.9 L937.4,601 L912.5,601 L912.5,617.2 L937.4,617.2 L937.4,625.3 Z" fill="#404040" stroke="#2f5597" stroke-width="3.4" stroke-linejoin="miter"/></svg></body></html>
